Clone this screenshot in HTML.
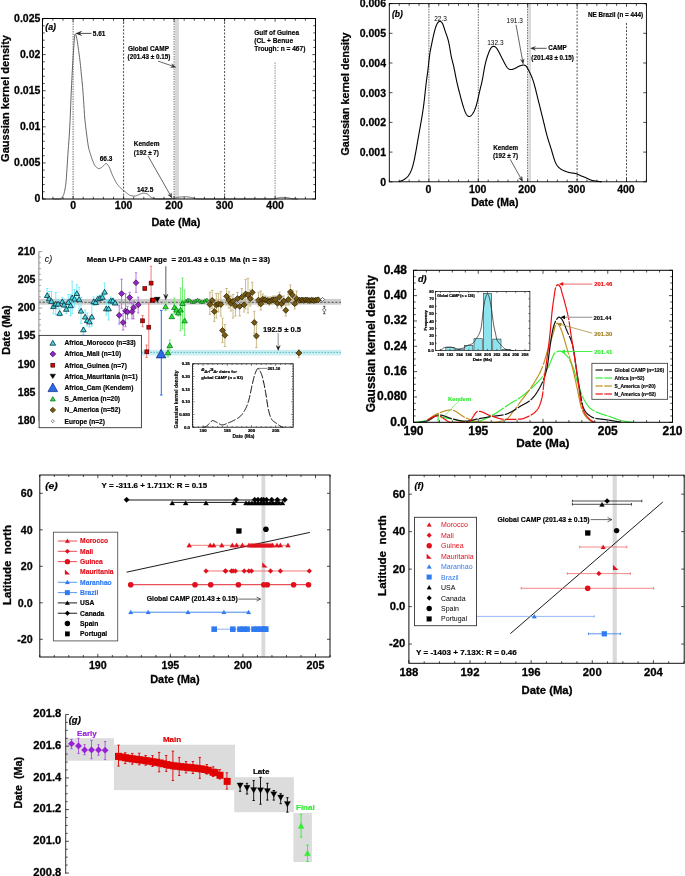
<!DOCTYPE html>
<html><head><meta charset="utf-8"><style>
html,body{margin:0;padding:0;background:#fff;}
svg{display:block;font-family:"Liberation Sans", sans-serif;}
</style></head><body>
<div style="will-change:transform;width:685px;height:876px;"><svg width="685" height="876" viewBox="0 0 685 876">
<rect width="685" height="876" fill="#fff"/>
<rect x="175.00" y="18.50" width="4.00" height="180.50" fill="#d8d8d8" stroke="none" stroke-width="1"/>
<line x1="73.10" y1="18.50" x2="73.10" y2="199.00" stroke="#555" stroke-width="0.85" stroke-dasharray="1.5,1"/>
<line x1="123.60" y1="18.50" x2="123.60" y2="199.00" stroke="#000" stroke-width="0.7" stroke-dasharray="2,1.5"/>
<line x1="174.10" y1="18.50" x2="174.10" y2="199.00" stroke="#555" stroke-width="0.85" stroke-dasharray="1.5,1"/>
<line x1="224.60" y1="18.50" x2="224.60" y2="199.00" stroke="#000" stroke-width="0.7" stroke-dasharray="2,1.5"/>
<line x1="275.10" y1="62.50" x2="275.10" y2="199.00" stroke="#777" stroke-width="0.8" stroke-dasharray="1.5,1"/>
<path d="M52.90,199.00 L53.21,199.00 L53.51,199.00 L53.82,199.00 L54.13,199.00 L54.43,199.00 L54.74,199.00 L55.05,199.00 L55.35,199.00 L55.66,199.00 L55.97,199.00 L56.27,199.00 L56.58,199.00 L56.89,199.00 L57.19,199.00 L57.50,199.00 L57.80,199.00 L58.11,199.00 L58.42,198.99 L58.72,198.97 L59.03,198.94 L59.34,198.90 L59.64,198.85 L59.95,198.80 L60.26,198.73 L60.56,198.67 L60.87,198.58 L61.18,198.40 L61.48,198.15 L61.79,197.82 L62.10,197.43 L62.40,196.97 L62.71,196.45 L63.02,195.88 L63.32,195.27 L63.63,194.62 L63.94,193.82 L64.24,192.78 L64.55,191.52 L64.86,190.04 L65.16,188.33 L65.47,186.40 L65.77,184.25 L66.08,181.58 L66.39,177.67 L66.69,173.09 L67.00,168.51 L67.31,163.92 L67.61,159.09 L67.92,154.28 L68.23,149.74 L68.53,145.55 L68.84,141.42 L69.15,137.04 L69.45,132.13 L69.76,126.70 L70.07,120.70 L70.37,113.84 L70.68,105.69 L70.99,98.04 L71.29,91.16 L71.60,84.59 L71.91,78.38 L72.21,72.53 L72.52,67.03 L72.83,61.83 L73.13,56.90 L73.44,52.22 L73.74,47.76 L74.05,43.21 L74.36,39.06 L74.66,36.19 L74.97,34.22 L75.28,33.95 L75.58,34.33 L75.89,34.92 L76.20,35.83 L76.50,36.95 L76.81,38.41 L77.12,40.19 L77.42,42.19 L77.73,44.31 L78.04,46.48 L78.34,48.60 L78.65,50.70 L78.96,52.86 L79.26,55.10 L79.57,57.44 L79.88,59.91 L80.18,62.51 L80.49,65.37 L80.80,68.45 L81.10,71.65 L81.41,74.84 L81.71,77.94 L82.02,80.96 L82.33,84.07 L82.63,87.41 L82.94,91.19 L83.25,95.55 L83.55,100.20 L83.86,104.79 L84.17,109.60 L84.47,114.28 L84.78,118.14 L85.09,121.34 L85.39,124.21 L85.70,126.83 L86.01,129.29 L86.31,131.68 L86.62,134.08 L86.93,136.48 L87.23,138.84 L87.54,141.12 L87.85,143.26 L88.15,145.22 L88.46,146.97 L88.77,148.44 L89.07,149.67 L89.38,150.75 L89.68,151.73 L89.99,152.71 L90.30,153.70 L90.60,154.68 L90.91,155.65 L91.22,156.59 L91.52,157.52 L91.83,158.41 L92.14,159.27 L92.44,160.09 L92.75,160.87 L93.06,161.65 L93.36,162.42 L93.67,163.17 L93.98,163.88 L94.28,164.54 L94.59,165.13 L94.90,165.62 L95.20,166.02 L95.51,166.39 L95.82,166.72 L96.12,167.02 L96.43,167.29 L96.74,167.54 L97.04,167.76 L97.35,167.96 L97.65,168.16 L97.96,168.35 L98.27,168.52 L98.57,168.64 L98.88,168.68 L99.19,168.65 L99.49,168.57 L99.80,168.47 L100.11,168.33 L100.41,168.19 L100.72,168.03 L101.03,167.87 L101.33,167.67 L101.64,167.43 L101.95,167.15 L102.25,166.86 L102.56,166.56 L102.87,166.26 L103.17,165.98 L103.48,165.72 L103.79,165.44 L104.09,165.13 L104.40,164.81 L104.71,164.50 L105.01,164.21 L105.32,163.97 L105.62,163.77 L105.93,163.65 L106.24,163.62 L106.54,163.71 L106.85,163.90 L107.16,164.17 L107.46,164.51 L107.77,164.89 L108.08,165.29 L108.38,165.70 L108.69,166.13 L109.00,166.64 L109.30,167.24 L109.61,167.90 L109.92,168.62 L110.22,169.38 L110.53,170.18 L110.84,170.99 L111.14,171.81 L111.45,172.63 L111.76,173.44 L112.06,174.22 L112.37,174.96 L112.68,175.65 L112.98,176.29 L113.29,176.93 L113.59,177.56 L113.90,178.19 L114.21,178.82 L114.51,179.44 L114.82,180.04 L115.13,180.64 L115.43,181.21 L115.74,181.77 L116.05,182.30 L116.35,182.81 L116.66,183.29 L116.97,183.74 L117.27,184.17 L117.58,184.58 L117.89,184.97 L118.19,185.35 L118.50,185.72 L118.81,186.07 L119.11,186.42 L119.42,186.75 L119.73,187.08 L120.03,187.40 L120.34,187.70 L120.65,188.01 L120.95,188.30 L121.26,188.59 L121.56,188.88 L121.87,189.16 L122.18,189.43 L122.48,189.69 L122.79,189.95 L123.10,190.20 L123.40,190.45 L123.71,190.69 L124.02,190.92 L124.32,191.16 L124.63,191.39 L124.94,191.62 L125.24,191.84 L125.55,192.07 L125.86,192.30 L126.16,192.53 L126.47,192.77 L126.78,193.02 L127.08,193.29 L127.39,193.55 L127.70,193.81 L128.00,194.07 L128.31,194.32 L128.62,194.56 L128.92,194.78 L129.23,194.98 L129.53,195.15 L129.84,195.28 L130.15,195.39 L130.45,195.47 L130.76,195.54 L131.07,195.62 L131.37,195.69 L131.68,195.75 L131.99,195.82 L132.29,195.88 L132.60,195.93 L132.91,195.97 L133.21,196.02 L133.52,196.05 L133.83,196.08 L134.13,196.10 L134.44,196.11 L134.75,196.11 L135.05,196.09 L135.36,196.04 L135.67,195.97 L135.97,195.87 L136.28,195.75 L136.59,195.62 L136.89,195.49 L137.20,195.34 L137.50,195.20 L137.81,195.05 L138.12,194.91 L138.42,194.79 L138.73,194.67 L139.04,194.57 L139.34,194.45 L139.65,194.33 L139.96,194.20 L140.26,194.07 L140.57,193.94 L140.88,193.81 L141.18,193.69 L141.49,193.58 L141.80,193.48 L142.10,193.39 L142.41,193.32 L142.72,193.27 L143.02,193.23 L143.33,193.22 L143.64,193.23 L143.94,193.25 L144.25,193.27 L144.56,193.31 L144.86,193.35 L145.17,193.41 L145.47,193.47 L145.78,193.53 L146.09,193.60 L146.39,193.68 L146.70,193.76 L147.01,193.85 L147.31,193.94 L147.62,194.06 L147.93,194.25 L148.23,194.49 L148.54,194.78 L148.85,195.10 L149.15,195.44 L149.46,195.79 L149.77,196.15 L150.07,196.49 L150.38,196.81 L150.69,197.09 L150.99,197.33 L151.30,197.52 L151.61,197.66 L151.91,197.79 L152.22,197.91 L152.53,198.03 L152.83,198.13 L153.14,198.23 L153.44,198.33 L153.75,198.41 L154.06,198.48 L154.36,198.55 L154.67,198.60 L154.98,198.65 L155.28,198.69 L155.59,198.73 L155.90,198.77 L156.20,198.81 L156.51,198.85 L156.82,198.88 L157.12,198.91 L157.43,198.94 L157.74,198.96 L158.04,198.98 L158.35,198.99 L158.66,199.00 L158.96,199.00 L159.27,199.00 L159.58,199.00 L159.88,199.00 L160.19,199.00 L160.50,198.99 L160.80,198.99 L161.11,198.99 L161.41,198.98 L161.72,198.98 L162.03,198.98 L162.33,198.97 L162.64,198.97 L162.95,198.96 L163.25,198.95 L163.56,198.95 L163.87,198.94 L164.17,198.93 L164.48,198.93 L164.79,198.92 L165.09,198.91 L165.40,198.90 L165.71,198.89 L166.01,198.88 L166.32,198.87 L166.63,198.86 L166.93,198.85 L167.24,198.84 L167.55,198.82 L167.85,198.81 L168.16,198.80 L168.47,198.79 L168.77,198.77 L169.08,198.76 L169.38,198.75 L169.69,198.73 L170.00,198.72 L170.30,198.70 L170.61,198.69 L170.92,198.67 L171.22,198.66 L171.53,198.64 L171.84,198.62 L172.14,198.59 L172.45,198.56 L172.76,198.52 L173.06,198.47 L173.37,198.42 L173.68,198.36 L173.98,198.29 L174.29,198.23 L174.60,198.16 L174.90,198.09 L175.21,198.01 L175.52,197.94 L175.82,197.86 L176.13,197.79 L176.44,197.71 L176.74,197.64 L177.05,197.57 L177.36,197.50 L177.66,197.44 L177.97,197.38 L178.27,197.32 L178.58,197.27 L178.89,197.23 L179.19,197.19 L179.50,197.15 L179.81,197.12 L180.11,197.08 L180.42,197.05 L180.73,197.01 L181.03,196.98 L181.34,196.94 L181.65,196.91 L181.95,196.88 L182.26,196.85 L182.57,196.82 L182.87,196.79 L183.18,196.77 L183.49,196.75 L183.79,196.73 L184.10,196.72 L184.41,196.70 L184.71,196.69 L185.02,196.69 L185.33,196.69 L185.63,196.70 L185.94,196.71 L186.24,196.73 L186.55,196.76 L186.86,196.79 L187.16,196.83 L187.47,196.87 L187.78,196.91 L188.08,196.96 L188.39,197.01 L188.70,197.07 L189.00,197.12 L189.31,197.18 L189.62,197.24 L189.92,197.30 L190.23,197.36 L190.54,197.42 L190.84,197.48 L191.15,197.53 L191.46,197.59 L191.76,197.66 L192.07,197.73 L192.38,197.81 L192.68,197.89 L192.99,197.98 L193.30,198.07 L193.60,198.16 L193.91,198.25 L194.21,198.34 L194.52,198.43 L194.83,198.51 L195.13,198.59 L195.44,198.66 L195.75,198.72 L196.05,198.78 L196.36,198.82 L196.67,198.85 L196.97,198.86 L197.28,198.88 L197.59,198.89 L197.89,198.91 L198.20,198.92 L198.51,198.93 L198.81,198.94 L199.12,198.95 L199.43,198.96 L199.73,198.97 L200.04,198.98 L200.35,198.98 L200.65,198.99 L200.96,198.99 L201.27,199.00 L201.57,199.00 L201.88,199.00 L202.18,199.00 L202.49,199.00 L202.80,199.00 L203.10,199.00 L203.41,199.00 L203.72,199.00 L204.02,199.00 L204.33,199.00 L204.64,199.00 L204.94,199.00 L205.25,199.00 L205.56,199.00 L205.86,199.00 L206.17,199.00 L206.48,199.00 L206.78,199.00 L207.09,199.00 L207.40,199.00 L207.70,199.00 L208.01,199.00 L208.32,199.00 L208.62,199.00 L208.93,199.00 L209.24,199.00 L209.54,199.00 L209.85,199.00 L210.15,199.00 L210.46,199.00 L210.77,199.00 L211.07,199.00 L211.38,199.00 L211.69,199.00 L211.99,199.00 L212.30,199.00 L212.61,199.00 L212.91,199.00 L213.22,199.00 L213.53,199.00 L213.83,199.00 L214.14,199.00 L214.45,199.00 L214.75,199.00 L215.06,199.00 L215.37,199.00 L215.67,199.00 L215.98,199.00 L216.29,199.00 L216.59,199.00 L216.90,199.00 L217.21,199.00 L217.51,199.00 L217.82,199.00 L218.12,199.00 L218.43,199.00 L218.74,199.00 L219.04,199.00 L219.35,199.00 L219.66,199.00 L219.96,199.00 L220.27,199.00 L220.58,199.00 L220.88,199.00 L221.19,199.00 L221.50,199.00 L221.80,199.00 L222.11,199.00 L222.42,199.00 L222.72,199.00 L223.03,199.00 L223.34,199.00 L223.64,199.00 L223.95,199.00 L224.26,199.00 L224.56,199.00 L224.87,199.00 L225.18,199.00 L225.48,199.00 L225.79,199.00 L226.09,199.00 L226.40,199.00 L226.71,199.00 L227.01,199.00 L227.32,199.00 L227.63,199.00 L227.93,199.00 L228.24,199.00 L228.55,199.00 L228.85,199.00 L229.16,199.00 L229.47,199.00 L229.77,199.00 L230.08,199.00 L230.39,199.00 L230.69,199.00 L231.00,199.00 L231.31,199.00 L231.61,199.00 L231.92,199.00 L232.23,199.00 L232.53,199.00 L232.84,199.00 L233.15,199.00 L233.45,199.00 L233.76,199.00 L234.06,199.00 L234.37,199.00 L234.68,199.00 L234.98,199.00 L235.29,199.00 L235.60,199.00 L235.90,199.00 L236.21,199.00 L236.52,199.00 L236.82,199.00 L237.13,199.00 L237.44,199.00 L237.74,199.00 L238.05,199.00 L238.36,199.00 L238.66,199.00 L238.97,199.00 L239.28,199.00 L239.58,199.00 L239.89,199.00 L240.20,199.00 L240.50,199.00 L240.81,199.00 L241.12,199.00 L241.42,199.00 L241.73,199.00 L242.03,199.00 L242.34,199.00 L242.65,199.00 L242.95,199.00 L243.26,199.00 L243.57,199.00 L243.87,199.00 L244.18,199.00 L244.49,199.00 L244.79,199.00 L245.10,199.00 L245.41,199.00 L245.71,199.00 L246.02,199.00 L246.33,199.00 L246.63,199.00 L246.94,199.00 L247.25,199.00 L247.55,199.00 L247.86,199.00 L248.17,199.00 L248.47,199.00 L248.78,199.00 L249.09,199.00 L249.39,199.00 L249.70,199.00 L250.00,199.00 L250.31,199.00 L250.62,199.00 L250.92,199.00 L251.23,199.00 L251.54,199.00 L251.84,199.00 L252.15,199.00 L252.46,199.00 L252.76,199.00 L253.07,199.00 L253.38,199.00 L253.68,199.00 L253.99,199.00 L254.30,199.00 L254.60,199.00 L254.91,199.00 L255.22,199.00 L255.52,199.00 L255.83,199.00 L256.14,199.00 L256.44,199.00 L256.75,199.00 L257.06,199.00 L257.36,199.00 L257.67,199.00 L257.97,199.00 L258.28,199.00 L258.59,199.00 L258.89,199.00 L259.20,199.00 L259.51,199.00 L259.81,199.00 L260.12,199.00 L260.43,199.00 L260.73,199.00 L261.04,199.00 L261.35,199.00 L261.65,199.00 L261.96,199.00 L262.27,199.00 L262.57,199.00 L262.88,199.00 L263.19,199.00 L263.49,199.00 L263.80,199.00 L264.11,199.00 L264.41,199.00 L264.72,199.00 L265.03,199.00 L265.33,199.00 L265.64,199.00 L265.94,199.00 L266.25,199.00 L266.56,199.00 L266.86,199.00 L267.17,199.00 L267.48,199.00 L267.78,199.00 L268.09,199.00 L268.40,199.00 L268.70,199.00 L269.01,199.00 L269.32,199.00 L269.62,199.00 L269.93,199.00 L270.24,199.00 L270.54,199.00 L270.85,199.00 L271.16,199.00 L271.46,199.00 L271.77,199.00 L272.08,199.00 L272.38,199.00 L272.69,199.00 L273.00,198.98 L273.30,198.94 L273.61,198.89 L273.91,198.83 L274.22,198.75 L274.53,198.67 L274.83,198.59 L275.14,198.51 L275.45,198.43 L275.75,198.35 L276.06,198.29 L276.37,198.23 L276.67,198.16 L276.98,198.10 L277.29,198.03 L277.59,197.96 L277.90,197.89 L278.21,197.82 L278.51,197.75 L278.82,197.69 L279.13,197.63 L279.43,197.57 L279.74,197.52 L280.05,197.48 L280.35,197.45 L280.66,197.43 L280.97,197.41 L281.27,197.41 L281.58,197.41 L281.88,197.41 L282.19,197.42 L282.50,197.42 L282.80,197.42 L283.11,197.43 L283.42,197.43 L283.72,197.44 L284.03,197.45 L284.34,197.45 L284.64,197.46 L284.95,197.47 L285.26,197.48 L285.56,197.49 L285.87,197.50 L286.18,197.51 L286.48,197.52 L286.79,197.54 L287.10,197.55 L287.40,197.57 L287.71,197.60 L288.02,197.66 L288.32,197.72 L288.63,197.80 L288.94,197.89 L289.24,197.99 L289.55,198.09 L289.85,198.18 L290.16,198.28 L290.47,198.37 L290.77,198.46 L291.08,198.53 L291.39,198.59 L291.69,198.63 L292.00,198.66 L292.31,198.69 L292.61,198.72 L292.92,198.75 L293.23,198.77 L293.53,198.80 L293.84,198.83 L294.15,198.85 L294.45,198.87 L294.76,198.89 L295.07,198.91 L295.37,198.93 L295.68,198.94 L295.99,198.96 L296.29,198.97 L296.60,198.98 L296.91,198.99 L297.21,199.00 L297.52,199.00 L297.82,199.00" stroke="#555" stroke-width="0.9" fill="none"/>
<rect x="42.50" y="18.50" width="273.00" height="180.50" fill="none" stroke="#000" stroke-width="1"/>
<line x1="42.80" y1="199.00" x2="42.80" y2="196.80" stroke="#000" stroke-width="0.7"/>
<line x1="42.80" y1="18.50" x2="42.80" y2="20.70" stroke="#000" stroke-width="0.7"/>
<line x1="52.90" y1="199.00" x2="52.90" y2="196.80" stroke="#000" stroke-width="0.7"/>
<line x1="52.90" y1="18.50" x2="52.90" y2="20.70" stroke="#000" stroke-width="0.7"/>
<line x1="63.00" y1="199.00" x2="63.00" y2="196.80" stroke="#000" stroke-width="0.7"/>
<line x1="63.00" y1="18.50" x2="63.00" y2="20.70" stroke="#000" stroke-width="0.7"/>
<line x1="73.10" y1="199.00" x2="73.10" y2="195.80" stroke="#000" stroke-width="0.7"/>
<line x1="73.10" y1="18.50" x2="73.10" y2="21.70" stroke="#000" stroke-width="0.7"/>
<line x1="83.20" y1="199.00" x2="83.20" y2="196.80" stroke="#000" stroke-width="0.7"/>
<line x1="83.20" y1="18.50" x2="83.20" y2="20.70" stroke="#000" stroke-width="0.7"/>
<line x1="93.30" y1="199.00" x2="93.30" y2="196.80" stroke="#000" stroke-width="0.7"/>
<line x1="93.30" y1="18.50" x2="93.30" y2="20.70" stroke="#000" stroke-width="0.7"/>
<line x1="103.40" y1="199.00" x2="103.40" y2="196.80" stroke="#000" stroke-width="0.7"/>
<line x1="103.40" y1="18.50" x2="103.40" y2="20.70" stroke="#000" stroke-width="0.7"/>
<line x1="113.50" y1="199.00" x2="113.50" y2="196.80" stroke="#000" stroke-width="0.7"/>
<line x1="113.50" y1="18.50" x2="113.50" y2="20.70" stroke="#000" stroke-width="0.7"/>
<line x1="123.60" y1="199.00" x2="123.60" y2="195.80" stroke="#000" stroke-width="0.7"/>
<line x1="123.60" y1="18.50" x2="123.60" y2="21.70" stroke="#000" stroke-width="0.7"/>
<line x1="133.70" y1="199.00" x2="133.70" y2="196.80" stroke="#000" stroke-width="0.7"/>
<line x1="133.70" y1="18.50" x2="133.70" y2="20.70" stroke="#000" stroke-width="0.7"/>
<line x1="143.80" y1="199.00" x2="143.80" y2="196.80" stroke="#000" stroke-width="0.7"/>
<line x1="143.80" y1="18.50" x2="143.80" y2="20.70" stroke="#000" stroke-width="0.7"/>
<line x1="153.90" y1="199.00" x2="153.90" y2="196.80" stroke="#000" stroke-width="0.7"/>
<line x1="153.90" y1="18.50" x2="153.90" y2="20.70" stroke="#000" stroke-width="0.7"/>
<line x1="164.00" y1="199.00" x2="164.00" y2="196.80" stroke="#000" stroke-width="0.7"/>
<line x1="164.00" y1="18.50" x2="164.00" y2="20.70" stroke="#000" stroke-width="0.7"/>
<line x1="174.10" y1="199.00" x2="174.10" y2="195.80" stroke="#000" stroke-width="0.7"/>
<line x1="174.10" y1="18.50" x2="174.10" y2="21.70" stroke="#000" stroke-width="0.7"/>
<line x1="184.20" y1="199.00" x2="184.20" y2="196.80" stroke="#000" stroke-width="0.7"/>
<line x1="184.20" y1="18.50" x2="184.20" y2="20.70" stroke="#000" stroke-width="0.7"/>
<line x1="194.30" y1="199.00" x2="194.30" y2="196.80" stroke="#000" stroke-width="0.7"/>
<line x1="194.30" y1="18.50" x2="194.30" y2="20.70" stroke="#000" stroke-width="0.7"/>
<line x1="204.40" y1="199.00" x2="204.40" y2="196.80" stroke="#000" stroke-width="0.7"/>
<line x1="204.40" y1="18.50" x2="204.40" y2="20.70" stroke="#000" stroke-width="0.7"/>
<line x1="214.50" y1="199.00" x2="214.50" y2="196.80" stroke="#000" stroke-width="0.7"/>
<line x1="214.50" y1="18.50" x2="214.50" y2="20.70" stroke="#000" stroke-width="0.7"/>
<line x1="224.60" y1="199.00" x2="224.60" y2="195.80" stroke="#000" stroke-width="0.7"/>
<line x1="224.60" y1="18.50" x2="224.60" y2="21.70" stroke="#000" stroke-width="0.7"/>
<line x1="234.70" y1="199.00" x2="234.70" y2="196.80" stroke="#000" stroke-width="0.7"/>
<line x1="234.70" y1="18.50" x2="234.70" y2="20.70" stroke="#000" stroke-width="0.7"/>
<line x1="244.80" y1="199.00" x2="244.80" y2="196.80" stroke="#000" stroke-width="0.7"/>
<line x1="244.80" y1="18.50" x2="244.80" y2="20.70" stroke="#000" stroke-width="0.7"/>
<line x1="254.90" y1="199.00" x2="254.90" y2="196.80" stroke="#000" stroke-width="0.7"/>
<line x1="254.90" y1="18.50" x2="254.90" y2="20.70" stroke="#000" stroke-width="0.7"/>
<line x1="265.00" y1="199.00" x2="265.00" y2="196.80" stroke="#000" stroke-width="0.7"/>
<line x1="265.00" y1="18.50" x2="265.00" y2="20.70" stroke="#000" stroke-width="0.7"/>
<line x1="275.10" y1="199.00" x2="275.10" y2="195.80" stroke="#000" stroke-width="0.7"/>
<line x1="275.10" y1="18.50" x2="275.10" y2="21.70" stroke="#000" stroke-width="0.7"/>
<line x1="285.20" y1="199.00" x2="285.20" y2="196.80" stroke="#000" stroke-width="0.7"/>
<line x1="285.20" y1="18.50" x2="285.20" y2="20.70" stroke="#000" stroke-width="0.7"/>
<line x1="295.30" y1="199.00" x2="295.30" y2="196.80" stroke="#000" stroke-width="0.7"/>
<line x1="295.30" y1="18.50" x2="295.30" y2="20.70" stroke="#000" stroke-width="0.7"/>
<line x1="305.40" y1="199.00" x2="305.40" y2="196.80" stroke="#000" stroke-width="0.7"/>
<line x1="305.40" y1="18.50" x2="305.40" y2="20.70" stroke="#000" stroke-width="0.7"/>
<line x1="315.50" y1="199.00" x2="315.50" y2="196.80" stroke="#000" stroke-width="0.7"/>
<line x1="315.50" y1="18.50" x2="315.50" y2="20.70" stroke="#000" stroke-width="0.7"/>
<text x="73.10" y="209.40" font-size="10.5" font-weight="bold" text-anchor="middle" fill="#000" stroke="#000" stroke-width="0.263">0</text>
<text x="123.60" y="209.40" font-size="10.5" font-weight="bold" text-anchor="middle" fill="#000" stroke="#000" stroke-width="0.263">100</text>
<text x="174.10" y="209.40" font-size="10.5" font-weight="bold" text-anchor="middle" fill="#000" stroke="#000" stroke-width="0.263">200</text>
<text x="224.60" y="209.40" font-size="10.5" font-weight="bold" text-anchor="middle" fill="#000" stroke="#000" stroke-width="0.263">300</text>
<text x="275.10" y="209.40" font-size="10.5" font-weight="bold" text-anchor="middle" fill="#000" stroke="#000" stroke-width="0.263">400</text>
<line x1="42.50" y1="199.00" x2="45.70" y2="199.00" stroke="#000" stroke-width="0.7"/>
<line x1="315.50" y1="199.00" x2="312.30" y2="199.00" stroke="#000" stroke-width="0.7"/>
<line x1="42.50" y1="191.78" x2="44.70" y2="191.78" stroke="#000" stroke-width="0.7"/>
<line x1="315.50" y1="191.78" x2="313.30" y2="191.78" stroke="#000" stroke-width="0.7"/>
<line x1="42.50" y1="184.56" x2="44.70" y2="184.56" stroke="#000" stroke-width="0.7"/>
<line x1="315.50" y1="184.56" x2="313.30" y2="184.56" stroke="#000" stroke-width="0.7"/>
<line x1="42.50" y1="177.34" x2="44.70" y2="177.34" stroke="#000" stroke-width="0.7"/>
<line x1="315.50" y1="177.34" x2="313.30" y2="177.34" stroke="#000" stroke-width="0.7"/>
<line x1="42.50" y1="170.12" x2="44.70" y2="170.12" stroke="#000" stroke-width="0.7"/>
<line x1="315.50" y1="170.12" x2="313.30" y2="170.12" stroke="#000" stroke-width="0.7"/>
<line x1="42.50" y1="162.90" x2="45.70" y2="162.90" stroke="#000" stroke-width="0.7"/>
<line x1="315.50" y1="162.90" x2="312.30" y2="162.90" stroke="#000" stroke-width="0.7"/>
<line x1="42.50" y1="155.68" x2="44.70" y2="155.68" stroke="#000" stroke-width="0.7"/>
<line x1="315.50" y1="155.68" x2="313.30" y2="155.68" stroke="#000" stroke-width="0.7"/>
<line x1="42.50" y1="148.46" x2="44.70" y2="148.46" stroke="#000" stroke-width="0.7"/>
<line x1="315.50" y1="148.46" x2="313.30" y2="148.46" stroke="#000" stroke-width="0.7"/>
<line x1="42.50" y1="141.24" x2="44.70" y2="141.24" stroke="#000" stroke-width="0.7"/>
<line x1="315.50" y1="141.24" x2="313.30" y2="141.24" stroke="#000" stroke-width="0.7"/>
<line x1="42.50" y1="134.02" x2="44.70" y2="134.02" stroke="#000" stroke-width="0.7"/>
<line x1="315.50" y1="134.02" x2="313.30" y2="134.02" stroke="#000" stroke-width="0.7"/>
<line x1="42.50" y1="126.80" x2="45.70" y2="126.80" stroke="#000" stroke-width="0.7"/>
<line x1="315.50" y1="126.80" x2="312.30" y2="126.80" stroke="#000" stroke-width="0.7"/>
<line x1="42.50" y1="119.58" x2="44.70" y2="119.58" stroke="#000" stroke-width="0.7"/>
<line x1="315.50" y1="119.58" x2="313.30" y2="119.58" stroke="#000" stroke-width="0.7"/>
<line x1="42.50" y1="112.36" x2="44.70" y2="112.36" stroke="#000" stroke-width="0.7"/>
<line x1="315.50" y1="112.36" x2="313.30" y2="112.36" stroke="#000" stroke-width="0.7"/>
<line x1="42.50" y1="105.14" x2="44.70" y2="105.14" stroke="#000" stroke-width="0.7"/>
<line x1="315.50" y1="105.14" x2="313.30" y2="105.14" stroke="#000" stroke-width="0.7"/>
<line x1="42.50" y1="97.92" x2="44.70" y2="97.92" stroke="#000" stroke-width="0.7"/>
<line x1="315.50" y1="97.92" x2="313.30" y2="97.92" stroke="#000" stroke-width="0.7"/>
<line x1="42.50" y1="90.70" x2="45.70" y2="90.70" stroke="#000" stroke-width="0.7"/>
<line x1="315.50" y1="90.70" x2="312.30" y2="90.70" stroke="#000" stroke-width="0.7"/>
<line x1="42.50" y1="83.48" x2="44.70" y2="83.48" stroke="#000" stroke-width="0.7"/>
<line x1="315.50" y1="83.48" x2="313.30" y2="83.48" stroke="#000" stroke-width="0.7"/>
<line x1="42.50" y1="76.26" x2="44.70" y2="76.26" stroke="#000" stroke-width="0.7"/>
<line x1="315.50" y1="76.26" x2="313.30" y2="76.26" stroke="#000" stroke-width="0.7"/>
<line x1="42.50" y1="69.04" x2="44.70" y2="69.04" stroke="#000" stroke-width="0.7"/>
<line x1="315.50" y1="69.04" x2="313.30" y2="69.04" stroke="#000" stroke-width="0.7"/>
<line x1="42.50" y1="61.82" x2="44.70" y2="61.82" stroke="#000" stroke-width="0.7"/>
<line x1="315.50" y1="61.82" x2="313.30" y2="61.82" stroke="#000" stroke-width="0.7"/>
<line x1="42.50" y1="54.60" x2="45.70" y2="54.60" stroke="#000" stroke-width="0.7"/>
<line x1="315.50" y1="54.60" x2="312.30" y2="54.60" stroke="#000" stroke-width="0.7"/>
<line x1="42.50" y1="47.38" x2="44.70" y2="47.38" stroke="#000" stroke-width="0.7"/>
<line x1="315.50" y1="47.38" x2="313.30" y2="47.38" stroke="#000" stroke-width="0.7"/>
<line x1="42.50" y1="40.16" x2="44.70" y2="40.16" stroke="#000" stroke-width="0.7"/>
<line x1="315.50" y1="40.16" x2="313.30" y2="40.16" stroke="#000" stroke-width="0.7"/>
<line x1="42.50" y1="32.94" x2="44.70" y2="32.94" stroke="#000" stroke-width="0.7"/>
<line x1="315.50" y1="32.94" x2="313.30" y2="32.94" stroke="#000" stroke-width="0.7"/>
<line x1="42.50" y1="25.72" x2="44.70" y2="25.72" stroke="#000" stroke-width="0.7"/>
<line x1="315.50" y1="25.72" x2="313.30" y2="25.72" stroke="#000" stroke-width="0.7"/>
<line x1="42.50" y1="18.50" x2="45.70" y2="18.50" stroke="#000" stroke-width="0.7"/>
<line x1="315.50" y1="18.50" x2="312.30" y2="18.50" stroke="#000" stroke-width="0.7"/>
<text x="40.40" y="202.30" font-size="10.5" font-weight="bold" text-anchor="end" fill="#000" stroke="#000" stroke-width="0.263">0</text>
<text x="40.40" y="166.20" font-size="10.5" font-weight="bold" text-anchor="end" fill="#000" stroke="#000" stroke-width="0.263">0.005</text>
<text x="40.40" y="130.10" font-size="10.5" font-weight="bold" text-anchor="end" fill="#000" stroke="#000" stroke-width="0.263">0.01</text>
<text x="40.40" y="94.00" font-size="10.5" font-weight="bold" text-anchor="end" fill="#000" stroke="#000" stroke-width="0.263">0.015</text>
<text x="40.40" y="57.90" font-size="10.5" font-weight="bold" text-anchor="end" fill="#000" stroke="#000" stroke-width="0.263">0.02</text>
<text x="40.40" y="21.80" font-size="10.5" font-weight="bold" text-anchor="end" fill="#000" stroke="#000" stroke-width="0.263">0.025</text>
<text x="8.80" y="98.50" font-size="11" font-weight="bold" text-anchor="middle" fill="#000" textLength="126.9" lengthAdjust="spacingAndGlyphs" transform="rotate(-90 8.8 98.5)" stroke="#000" stroke-width="0.275">Gaussian kernel density</text>
<text x="176.00" y="225.70" font-size="10.9" font-weight="bold" text-anchor="middle" fill="#000" stroke="#000" stroke-width="0.273">Date (Ma)</text>
<text x="45.30" y="30.20" font-size="8.8" font-weight="bold" text-anchor="start" fill="#000" font-style="italic" stroke="#000" stroke-width="0.220">(a)</text>
<line x1="91.50" y1="33.40" x2="79.52" y2="33.40" stroke="#222" stroke-width="0.8"/>
<polygon points="75.80,33.40 81.80,31.10 79.52,33.40 81.80,35.70" fill="#222" stroke="#222" stroke-width="0.3" stroke-linejoin="round"/>
<text x="92.80" y="36.20" font-size="6.5" font-weight="bold" text-anchor="start" fill="#000" stroke="#000" stroke-width="0.163">5.61</text>
<text x="99.70" y="161.00" font-size="6.5" font-weight="bold" text-anchor="start" fill="#000" stroke="#000" stroke-width="0.163">66.3</text>
<text x="137.00" y="192.00" font-size="6.5" font-weight="bold" text-anchor="start" fill="#000" stroke="#000" stroke-width="0.163">142.5</text>
<text x="127.90" y="50.60" font-size="6.5" font-weight="bold" text-anchor="start" fill="#000" stroke="#000" stroke-width="0.163">Global CAMP</text>
<text x="127.60" y="59.10" font-size="6.3" font-weight="bold" text-anchor="start" fill="#000" stroke="#000" stroke-width="0.158">(201.43 ± 0.15)</text>
<line x1="158.00" y1="61.10" x2="172.87" y2="66.20" stroke="#222" stroke-width="0.7"/>
<polygon points="175.80,67.20 170.45,67.38 172.87,66.20 171.69,63.78" fill="#222" stroke="#222" stroke-width="0.3" stroke-linejoin="round"/>
<text x="133.80" y="145.90" font-size="6.5" font-weight="bold" text-anchor="start" fill="#000" stroke="#000" stroke-width="0.163">Kendem</text>
<text x="133.80" y="154.70" font-size="6.3" font-weight="bold" text-anchor="start" fill="#000" stroke="#000" stroke-width="0.158">(192 ± 7)</text>
<line x1="147.90" y1="155.70" x2="170.47" y2="195.40" stroke="#222" stroke-width="0.7"/>
<polygon points="172.00,198.10 167.88,194.69 170.47,195.40 171.18,192.81" fill="#222" stroke="#222" stroke-width="0.3" stroke-linejoin="round"/>
<text x="254.30" y="34.60" font-size="6.3" font-weight="bold" text-anchor="start" fill="#000" textLength="44.7" lengthAdjust="spacingAndGlyphs" stroke="#000" stroke-width="0.158">Gulf of Guinea</text>
<text x="254.30" y="42.80" font-size="6.3" font-weight="bold" text-anchor="start" fill="#000" textLength="38.8" lengthAdjust="spacingAndGlyphs" stroke="#000" stroke-width="0.158">(CL + Benue</text>
<text x="254.30" y="51.00" font-size="6.3" font-weight="bold" text-anchor="start" fill="#000" textLength="51.1" lengthAdjust="spacingAndGlyphs" stroke="#000" stroke-width="0.158">Trough: n = 467)</text>
<rect x="528.70" y="3.60" width="2.20" height="178.20" fill="#d8d8d8" stroke="none" stroke-width="1"/>
<line x1="428.90" y1="3.60" x2="428.90" y2="181.80" stroke="#444" stroke-width="0.75" stroke-dasharray="1.6,1"/>
<line x1="478.30" y1="3.60" x2="478.30" y2="181.80" stroke="#444" stroke-width="0.75" stroke-dasharray="1.6,1"/>
<line x1="527.70" y1="3.60" x2="527.70" y2="181.80" stroke="#333" stroke-width="0.8" stroke-dasharray="1.6,1"/>
<line x1="577.10" y1="3.60" x2="577.10" y2="181.80" stroke="#000" stroke-width="0.7" stroke-dasharray="2,1.5"/>
<line x1="626.50" y1="23.00" x2="626.50" y2="181.80" stroke="#000" stroke-width="0.7" stroke-dasharray="2,1.5"/>
<path d="M398.77,181.80 L399.02,181.71 L399.27,181.61 L399.53,181.52 L399.78,181.43 L400.04,181.33 L400.29,181.24 L400.54,181.14 L400.80,181.04 L401.05,180.94 L401.31,180.83 L401.56,180.73 L401.82,180.62 L402.07,180.51 L402.32,180.39 L402.58,180.27 L402.83,180.15 L403.09,180.03 L403.34,179.90 L403.59,179.76 L403.85,179.62 L404.10,179.48 L404.36,179.33 L404.61,179.18 L404.86,179.02 L405.12,178.85 L405.37,178.67 L405.63,178.49 L405.88,178.29 L406.14,178.09 L406.39,177.87 L406.64,177.65 L406.90,177.41 L407.15,177.15 L407.41,176.88 L407.66,176.60 L407.91,176.30 L408.17,175.98 L408.42,175.65 L408.68,175.30 L408.93,174.93 L409.18,174.54 L409.44,174.13 L409.69,173.70 L409.95,173.24 L410.20,172.76 L410.46,172.24 L410.71,171.70 L410.96,171.13 L411.22,170.52 L411.47,169.87 L411.73,169.19 L411.98,168.46 L412.23,167.69 L412.49,166.88 L412.74,166.02 L413.00,165.11 L413.25,164.15 L413.50,163.13 L413.76,162.06 L414.01,160.93 L414.27,159.76 L414.52,158.54 L414.77,157.28 L415.03,155.98 L415.28,154.64 L415.54,153.28 L415.79,151.89 L416.05,150.47 L416.30,149.04 L416.55,147.59 L416.81,146.14 L417.06,144.67 L417.32,143.20 L417.57,141.73 L417.82,140.27 L418.08,138.81 L418.33,137.36 L418.59,135.92 L418.84,134.48 L419.09,133.05 L419.35,131.61 L419.60,130.18 L419.86,128.75 L420.11,127.32 L420.37,125.88 L420.62,124.44 L420.87,123.00 L421.13,121.54 L421.38,120.08 L421.64,118.60 L421.89,117.11 L422.14,115.58 L422.40,114.02 L422.65,112.41 L422.91,110.74 L423.16,109.01 L423.41,107.20 L423.67,105.31 L423.92,103.32 L424.18,101.23 L424.43,99.02 L424.69,96.72 L424.94,94.35 L425.19,91.95 L425.45,89.56 L425.70,87.21 L425.96,84.94 L426.21,82.78 L426.46,80.77 L426.72,78.91 L426.97,77.12 L427.23,75.36 L427.48,73.54 L427.73,71.59 L427.99,69.46 L428.24,67.14 L428.50,64.71 L428.75,62.29 L429.01,59.97 L429.26,57.85 L429.51,55.92 L429.77,54.15 L430.02,52.53 L430.28,51.02 L430.53,49.62 L430.78,48.30 L431.04,47.03 L431.29,45.79 L431.55,44.57 L431.80,43.35 L432.05,42.13 L432.31,40.93 L432.56,39.73 L432.82,38.55 L433.07,37.39 L433.32,36.25 L433.58,35.14 L433.83,34.05 L434.09,33.00 L434.34,31.98 L434.60,31.00 L434.85,30.06 L435.10,29.16 L435.36,28.31 L435.61,27.50 L435.87,26.75 L436.12,26.04 L436.37,25.38 L436.63,24.78 L436.88,24.23 L437.14,23.73 L437.39,23.29 L437.64,22.90 L437.90,22.57 L438.15,22.28 L438.41,22.03 L438.66,21.83 L438.92,21.67 L439.17,21.55 L439.42,21.47 L439.68,21.43 L439.93,21.42 L440.19,21.44 L440.44,21.49 L440.69,21.59 L440.95,21.72 L441.20,21.90 L441.46,22.12 L441.71,22.40 L441.96,22.73 L442.22,23.12 L442.47,23.57 L442.73,24.08 L442.98,24.66 L443.24,25.31 L443.49,26.00 L443.74,26.73 L444.00,27.49 L444.25,28.27 L444.51,29.07 L444.76,29.86 L445.01,30.65 L445.27,31.43 L445.52,32.17 L445.78,32.89 L446.03,33.59 L446.28,34.29 L446.54,34.98 L446.79,35.69 L447.05,36.41 L447.30,37.16 L447.56,37.96 L447.81,38.79 L448.06,39.69 L448.32,40.65 L448.57,41.69 L448.83,42.81 L449.08,44.03 L449.33,45.35 L449.59,46.77 L449.84,48.27 L450.10,49.81 L450.35,51.35 L450.60,52.86 L450.86,54.31 L451.11,55.67 L451.37,56.92 L451.62,58.08 L451.88,59.18 L452.13,60.21 L452.38,61.22 L452.64,62.20 L452.89,63.17 L453.15,64.16 L453.40,65.17 L453.65,66.23 L453.91,67.36 L454.16,68.54 L454.42,69.78 L454.67,71.06 L454.92,72.37 L455.18,73.70 L455.43,75.03 L455.69,76.35 L455.94,77.66 L456.19,78.92 L456.45,80.15 L456.70,81.33 L456.96,82.48 L457.21,83.59 L457.47,84.67 L457.72,85.72 L457.97,86.75 L458.23,87.77 L458.48,88.77 L458.74,89.76 L458.99,90.75 L459.24,91.73 L459.50,92.72 L459.75,93.70 L460.01,94.68 L460.26,95.65 L460.51,96.62 L460.77,97.58 L461.02,98.53 L461.28,99.48 L461.53,100.41 L461.79,101.33 L462.04,102.24 L462.29,103.14 L462.55,104.03 L462.80,104.89 L463.06,105.74 L463.31,106.57 L463.56,107.37 L463.82,108.15 L464.07,108.91 L464.33,109.63 L464.58,110.33 L464.83,110.99 L465.09,111.62 L465.34,112.22 L465.60,112.77 L465.85,113.29 L466.11,113.77 L466.36,114.20 L466.61,114.60 L466.87,114.95 L467.12,115.27 L467.38,115.55 L467.63,115.79 L467.88,115.99 L468.14,116.16 L468.39,116.29 L468.65,116.38 L468.90,116.44 L469.15,116.47 L469.41,116.46 L469.66,116.42 L469.92,116.35 L470.17,116.25 L470.43,116.11 L470.68,115.95 L470.93,115.76 L471.19,115.53 L471.44,115.29 L471.70,115.01 L471.95,114.71 L472.20,114.39 L472.46,114.04 L472.71,113.66 L472.97,113.27 L473.22,112.85 L473.47,112.41 L473.73,111.95 L473.98,111.46 L474.24,110.94 L474.49,110.38 L474.74,109.80 L475.00,109.18 L475.25,108.52 L475.51,107.83 L475.76,107.09 L476.02,106.31 L476.27,105.49 L476.52,104.62 L476.78,103.70 L477.03,102.73 L477.29,101.72 L477.54,100.65 L477.79,99.56 L478.05,98.43 L478.30,97.29 L478.56,96.14 L478.81,94.98 L479.06,93.84 L479.32,92.71 L479.57,91.60 L479.83,90.52 L480.08,89.48 L480.34,88.46 L480.59,87.44 L480.84,86.43 L481.10,85.41 L481.35,84.36 L481.61,83.28 L481.86,82.15 L482.11,80.97 L482.37,79.71 L482.62,78.38 L482.88,76.98 L483.13,75.52 L483.38,74.03 L483.64,72.53 L483.89,71.05 L484.15,69.60 L484.40,68.21 L484.66,66.90 L484.91,65.66 L485.16,64.48 L485.42,63.37 L485.67,62.32 L485.93,61.33 L486.18,60.38 L486.43,59.48 L486.69,58.62 L486.94,57.79 L487.20,57.00 L487.45,56.24 L487.70,55.49 L487.96,54.77 L488.21,54.06 L488.47,53.37 L488.72,52.70 L488.98,52.05 L489.23,51.42 L489.48,50.83 L489.74,50.26 L489.99,49.73 L490.25,49.24 L490.50,48.78 L490.75,48.37 L491.01,47.99 L491.26,47.66 L491.52,47.38 L491.77,47.13 L492.02,46.92 L492.28,46.75 L492.53,46.61 L492.79,46.51 L493.04,46.43 L493.29,46.39 L493.55,46.37 L493.80,46.37 L494.06,46.41 L494.31,46.46 L494.57,46.54 L494.82,46.65 L495.07,46.78 L495.33,46.95 L495.58,47.13 L495.84,47.35 L496.09,47.60 L496.34,47.87 L496.60,48.18 L496.85,48.51 L497.11,48.87 L497.36,49.26 L497.61,49.67 L497.87,50.10 L498.12,50.54 L498.38,51.01 L498.63,51.49 L498.89,51.98 L499.14,52.48 L499.39,52.99 L499.65,53.50 L499.90,54.01 L500.16,54.53 L500.41,55.04 L500.66,55.56 L500.92,56.07 L501.17,56.58 L501.43,57.09 L501.68,57.59 L501.93,58.10 L502.19,58.60 L502.44,59.10 L502.70,59.60 L502.95,60.09 L503.21,60.58 L503.46,61.07 L503.71,61.55 L503.97,62.04 L504.22,62.51 L504.48,62.99 L504.73,63.46 L504.98,63.92 L505.24,64.38 L505.49,64.83 L505.75,65.26 L506.00,65.69 L506.25,66.10 L506.51,66.49 L506.76,66.86 L507.02,67.22 L507.27,67.55 L507.53,67.85 L507.78,68.13 L508.03,68.39 L508.29,68.61 L508.54,68.81 L508.80,68.98 L509.05,69.13 L509.30,69.25 L509.56,69.35 L509.81,69.43 L510.07,69.49 L510.32,69.53 L510.57,69.56 L510.83,69.57 L511.08,69.57 L511.34,69.55 L511.59,69.52 L511.85,69.49 L512.10,69.44 L512.35,69.38 L512.61,69.32 L512.86,69.24 L513.12,69.16 L513.37,69.08 L513.62,68.98 L513.88,68.88 L514.13,68.78 L514.39,68.66 L514.64,68.55 L514.89,68.43 L515.15,68.31 L515.40,68.18 L515.66,68.05 L515.91,67.92 L516.16,67.78 L516.42,67.65 L516.67,67.51 L516.93,67.38 L517.18,67.24 L517.44,67.11 L517.69,66.97 L517.94,66.84 L518.20,66.71 L518.45,66.58 L518.71,66.46 L518.96,66.33 L519.21,66.21 L519.47,66.10 L519.72,65.99 L519.98,65.88 L520.23,65.78 L520.48,65.68 L520.74,65.59 L520.99,65.50 L521.25,65.42 L521.50,65.35 L521.76,65.28 L522.01,65.22 L522.26,65.17 L522.52,65.13 L522.77,65.09 L523.03,65.07 L523.28,65.05 L523.53,65.05 L523.79,65.06 L524.04,65.09 L524.30,65.14 L524.55,65.21 L524.80,65.30 L525.06,65.42 L525.31,65.56 L525.57,65.74 L525.82,65.94 L526.08,66.18 L526.33,66.46 L526.58,66.78 L526.84,67.13 L527.09,67.51 L527.35,67.93 L527.60,68.37 L527.85,68.83 L528.11,69.30 L528.36,69.79 L528.62,70.29 L528.87,70.79 L529.12,71.30 L529.38,71.80 L529.63,72.31 L529.89,72.82 L530.14,73.34 L530.40,73.87 L530.65,74.41 L530.90,74.96 L531.16,75.52 L531.41,76.10 L531.67,76.70 L531.92,77.33 L532.17,77.97 L532.43,78.64 L532.68,79.34 L532.94,80.07 L533.19,80.82 L533.44,81.61 L533.70,82.44 L533.95,83.30 L534.21,84.18 L534.46,85.10 L534.71,86.03 L534.97,86.99 L535.22,87.97 L535.48,88.97 L535.73,89.98 L535.99,91.00 L536.24,92.03 L536.49,93.07 L536.75,94.12 L537.00,95.17 L537.26,96.21 L537.51,97.26 L537.76,98.30 L538.02,99.34 L538.27,100.37 L538.53,101.39 L538.78,102.41 L539.03,103.43 L539.29,104.45 L539.54,105.46 L539.80,106.47 L540.05,107.48 L540.31,108.49 L540.56,109.50 L540.81,110.51 L541.07,111.53 L541.32,112.54 L541.58,113.56 L541.83,114.58 L542.08,115.60 L542.34,116.63 L542.59,117.67 L542.85,118.71 L543.10,119.75 L543.35,120.80 L543.61,121.86 L543.86,122.92 L544.12,123.99 L544.37,125.05 L544.63,126.12 L544.88,127.18 L545.13,128.23 L545.39,129.28 L545.64,130.32 L545.90,131.34 L546.15,132.35 L546.40,133.34 L546.66,134.32 L546.91,135.27 L547.17,136.20 L547.42,137.11 L547.67,137.99 L547.93,138.85 L548.18,139.68 L548.44,140.50 L548.69,141.30 L548.95,142.09 L549.20,142.87 L549.45,143.64 L549.71,144.41 L549.96,145.19 L550.22,145.96 L550.47,146.74 L550.72,147.54 L550.98,148.34 L551.23,149.16 L551.49,150.00 L551.74,150.86 L551.99,151.73 L552.25,152.60 L552.50,153.48 L552.76,154.36 L553.01,155.24 L553.26,156.10 L553.52,156.95 L553.77,157.77 L554.03,158.58 L554.28,159.35 L554.54,160.09 L554.79,160.80 L555.04,161.46 L555.30,162.07 L555.55,162.65 L555.81,163.19 L556.06,163.69 L556.31,164.16 L556.57,164.60 L556.82,165.01 L557.08,165.39 L557.33,165.75 L557.58,166.08 L557.84,166.40 L558.09,166.69 L558.35,166.97 L558.60,167.24 L558.86,167.49 L559.11,167.73 L559.36,167.96 L559.62,168.18 L559.87,168.38 L560.13,168.58 L560.38,168.76 L560.63,168.94 L560.89,169.11 L561.14,169.27 L561.40,169.43 L561.65,169.58 L561.90,169.72 L562.16,169.86 L562.41,169.99 L562.67,170.12 L562.92,170.24 L563.18,170.36 L563.43,170.48 L563.68,170.59 L563.94,170.70 L564.19,170.81 L564.45,170.91 L564.70,171.01 L564.95,171.11 L565.21,171.21 L565.46,171.30 L565.72,171.40 L565.97,171.49 L566.22,171.58 L566.48,171.67 L566.73,171.75 L566.99,171.84 L567.24,171.92 L567.50,172.00 L567.75,172.08 L568.00,172.16 L568.26,172.23 L568.51,172.30 L568.77,172.37 L569.02,172.44 L569.27,172.50 L569.53,172.56 L569.78,172.62 L570.04,172.68 L570.29,172.73 L570.54,172.78 L570.80,172.83 L571.05,172.87 L571.31,172.91 L571.56,172.95 L571.82,172.98 L572.07,173.02 L572.32,173.05 L572.58,173.08 L572.83,173.11 L573.09,173.14 L573.34,173.17 L573.59,173.20 L573.85,173.23 L574.10,173.27 L574.36,173.31 L574.61,173.35 L574.86,173.39 L575.12,173.44 L575.37,173.50 L575.63,173.56 L575.88,173.62 L576.13,173.70 L576.39,173.77 L576.64,173.86 L576.90,173.95 L577.15,174.05 L577.41,174.16 L577.66,174.27 L577.91,174.38 L578.17,174.50 L578.42,174.62 L578.68,174.74 L578.93,174.86 L579.18,174.99 L579.44,175.11 L579.69,175.23 L579.95,175.36 L580.20,175.48 L580.45,175.60 L580.71,175.71 L580.96,175.82 L581.22,175.93 L581.47,176.03 L581.73,176.13 L581.98,176.23 L582.23,176.32 L582.49,176.41 L582.74,176.50 L583.00,176.59 L583.25,176.68 L583.50,176.77 L583.76,176.86 L584.01,176.95 L584.27,177.05 L584.52,177.15 L584.77,177.25 L585.03,177.36 L585.28,177.47 L585.54,177.58 L585.79,177.70 L586.05,177.83 L586.30,177.95 L586.55,178.08 L586.81,178.21 L587.06,178.34 L587.32,178.47 L587.57,178.60 L587.82,178.73 L588.08,178.86 L588.33,178.99 L588.59,179.11 L588.84,179.23 L589.09,179.35 L589.35,179.47 L589.60,179.58 L589.86,179.69 L590.11,179.79 L590.37,179.88 L590.62,179.97 L590.87,180.06 L591.13,180.14 L591.38,180.21 L591.64,180.28 L591.89,180.35 L592.14,180.42 L592.40,180.48 L592.65,180.53 L592.91,180.59 L593.16,180.64 L593.41,180.69 L593.67,180.74 L593.92,180.78 L594.18,180.83 L594.43,180.87 L594.68,180.91 L594.94,180.95 L595.19,180.99 L595.45,181.03 L595.70,181.06 L595.96,181.10 L596.21,181.14 L596.46,181.17 L596.72,181.21 L596.97,181.24 L597.23,181.27 L597.48,181.30 L597.73,181.34 L597.99,181.37 L598.24,181.40 L598.50,181.43 L598.75,181.46 L599.00,181.49 L599.26,181.52 L599.51,181.55 L599.77,181.58 L600.02,181.61 L600.28,181.63 L600.53,181.66 L600.78,181.69 L601.04,181.72 L601.29,181.74 L601.55,181.77 L601.80,181.80" stroke="#000" stroke-width="1.1" fill="none"/>
<rect x="389.30" y="3.60" width="257.10" height="178.20" fill="none" stroke="#000" stroke-width="0.9"/>
<line x1="389.38" y1="181.80" x2="389.38" y2="179.60" stroke="#000" stroke-width="0.7"/>
<line x1="389.38" y1="3.60" x2="389.38" y2="5.80" stroke="#000" stroke-width="0.7"/>
<line x1="399.26" y1="181.80" x2="399.26" y2="179.60" stroke="#000" stroke-width="0.7"/>
<line x1="399.26" y1="3.60" x2="399.26" y2="5.80" stroke="#000" stroke-width="0.7"/>
<line x1="409.14" y1="181.80" x2="409.14" y2="179.60" stroke="#000" stroke-width="0.7"/>
<line x1="409.14" y1="3.60" x2="409.14" y2="5.80" stroke="#000" stroke-width="0.7"/>
<line x1="419.02" y1="181.80" x2="419.02" y2="179.60" stroke="#000" stroke-width="0.7"/>
<line x1="419.02" y1="3.60" x2="419.02" y2="5.80" stroke="#000" stroke-width="0.7"/>
<line x1="428.90" y1="181.80" x2="428.90" y2="178.60" stroke="#000" stroke-width="0.7"/>
<line x1="428.90" y1="3.60" x2="428.90" y2="6.80" stroke="#000" stroke-width="0.7"/>
<line x1="438.78" y1="181.80" x2="438.78" y2="179.60" stroke="#000" stroke-width="0.7"/>
<line x1="438.78" y1="3.60" x2="438.78" y2="5.80" stroke="#000" stroke-width="0.7"/>
<line x1="448.66" y1="181.80" x2="448.66" y2="179.60" stroke="#000" stroke-width="0.7"/>
<line x1="448.66" y1="3.60" x2="448.66" y2="5.80" stroke="#000" stroke-width="0.7"/>
<line x1="458.54" y1="181.80" x2="458.54" y2="179.60" stroke="#000" stroke-width="0.7"/>
<line x1="458.54" y1="3.60" x2="458.54" y2="5.80" stroke="#000" stroke-width="0.7"/>
<line x1="468.42" y1="181.80" x2="468.42" y2="179.60" stroke="#000" stroke-width="0.7"/>
<line x1="468.42" y1="3.60" x2="468.42" y2="5.80" stroke="#000" stroke-width="0.7"/>
<line x1="478.30" y1="181.80" x2="478.30" y2="178.60" stroke="#000" stroke-width="0.7"/>
<line x1="478.30" y1="3.60" x2="478.30" y2="6.80" stroke="#000" stroke-width="0.7"/>
<line x1="488.18" y1="181.80" x2="488.18" y2="179.60" stroke="#000" stroke-width="0.7"/>
<line x1="488.18" y1="3.60" x2="488.18" y2="5.80" stroke="#000" stroke-width="0.7"/>
<line x1="498.06" y1="181.80" x2="498.06" y2="179.60" stroke="#000" stroke-width="0.7"/>
<line x1="498.06" y1="3.60" x2="498.06" y2="5.80" stroke="#000" stroke-width="0.7"/>
<line x1="507.94" y1="181.80" x2="507.94" y2="179.60" stroke="#000" stroke-width="0.7"/>
<line x1="507.94" y1="3.60" x2="507.94" y2="5.80" stroke="#000" stroke-width="0.7"/>
<line x1="517.82" y1="181.80" x2="517.82" y2="179.60" stroke="#000" stroke-width="0.7"/>
<line x1="517.82" y1="3.60" x2="517.82" y2="5.80" stroke="#000" stroke-width="0.7"/>
<line x1="527.70" y1="181.80" x2="527.70" y2="178.60" stroke="#000" stroke-width="0.7"/>
<line x1="527.70" y1="3.60" x2="527.70" y2="6.80" stroke="#000" stroke-width="0.7"/>
<line x1="537.58" y1="181.80" x2="537.58" y2="179.60" stroke="#000" stroke-width="0.7"/>
<line x1="537.58" y1="3.60" x2="537.58" y2="5.80" stroke="#000" stroke-width="0.7"/>
<line x1="547.46" y1="181.80" x2="547.46" y2="179.60" stroke="#000" stroke-width="0.7"/>
<line x1="547.46" y1="3.60" x2="547.46" y2="5.80" stroke="#000" stroke-width="0.7"/>
<line x1="557.34" y1="181.80" x2="557.34" y2="179.60" stroke="#000" stroke-width="0.7"/>
<line x1="557.34" y1="3.60" x2="557.34" y2="5.80" stroke="#000" stroke-width="0.7"/>
<line x1="567.22" y1="181.80" x2="567.22" y2="179.60" stroke="#000" stroke-width="0.7"/>
<line x1="567.22" y1="3.60" x2="567.22" y2="5.80" stroke="#000" stroke-width="0.7"/>
<line x1="577.10" y1="181.80" x2="577.10" y2="178.60" stroke="#000" stroke-width="0.7"/>
<line x1="577.10" y1="3.60" x2="577.10" y2="6.80" stroke="#000" stroke-width="0.7"/>
<line x1="586.98" y1="181.80" x2="586.98" y2="179.60" stroke="#000" stroke-width="0.7"/>
<line x1="586.98" y1="3.60" x2="586.98" y2="5.80" stroke="#000" stroke-width="0.7"/>
<line x1="596.86" y1="181.80" x2="596.86" y2="179.60" stroke="#000" stroke-width="0.7"/>
<line x1="596.86" y1="3.60" x2="596.86" y2="5.80" stroke="#000" stroke-width="0.7"/>
<line x1="606.74" y1="181.80" x2="606.74" y2="179.60" stroke="#000" stroke-width="0.7"/>
<line x1="606.74" y1="3.60" x2="606.74" y2="5.80" stroke="#000" stroke-width="0.7"/>
<line x1="616.62" y1="181.80" x2="616.62" y2="179.60" stroke="#000" stroke-width="0.7"/>
<line x1="616.62" y1="3.60" x2="616.62" y2="5.80" stroke="#000" stroke-width="0.7"/>
<line x1="626.50" y1="181.80" x2="626.50" y2="178.60" stroke="#000" stroke-width="0.7"/>
<line x1="626.50" y1="3.60" x2="626.50" y2="6.80" stroke="#000" stroke-width="0.7"/>
<line x1="636.38" y1="181.80" x2="636.38" y2="179.60" stroke="#000" stroke-width="0.7"/>
<line x1="636.38" y1="3.60" x2="636.38" y2="5.80" stroke="#000" stroke-width="0.7"/>
<line x1="646.26" y1="181.80" x2="646.26" y2="179.60" stroke="#000" stroke-width="0.7"/>
<line x1="646.26" y1="3.60" x2="646.26" y2="5.80" stroke="#000" stroke-width="0.7"/>
<text x="428.30" y="192.70" font-size="10.5" font-weight="bold" text-anchor="middle" fill="#000" stroke="#000" stroke-width="0.263">0</text>
<text x="477.70" y="192.70" font-size="10.5" font-weight="bold" text-anchor="middle" fill="#000" stroke="#000" stroke-width="0.263">100</text>
<text x="527.10" y="192.70" font-size="10.5" font-weight="bold" text-anchor="middle" fill="#000" stroke="#000" stroke-width="0.263">200</text>
<text x="576.50" y="192.70" font-size="10.5" font-weight="bold" text-anchor="middle" fill="#000" stroke="#000" stroke-width="0.263">300</text>
<text x="625.90" y="192.70" font-size="10.5" font-weight="bold" text-anchor="middle" fill="#000" stroke="#000" stroke-width="0.263">400</text>
<line x1="389.30" y1="181.80" x2="392.50" y2="181.80" stroke="#000" stroke-width="0.7"/>
<line x1="646.40" y1="181.80" x2="643.20" y2="181.80" stroke="#000" stroke-width="0.7"/>
<text x="386.00" y="185.60" font-size="10.5" font-weight="bold" text-anchor="end" fill="#000" stroke="#000" stroke-width="0.263">0</text>
<line x1="389.30" y1="152.10" x2="392.50" y2="152.10" stroke="#000" stroke-width="0.7"/>
<line x1="646.40" y1="152.10" x2="643.20" y2="152.10" stroke="#000" stroke-width="0.7"/>
<text x="386.00" y="155.90" font-size="10.5" font-weight="bold" text-anchor="end" fill="#000" stroke="#000" stroke-width="0.263">0.001</text>
<line x1="389.30" y1="122.40" x2="392.50" y2="122.40" stroke="#000" stroke-width="0.7"/>
<line x1="646.40" y1="122.40" x2="643.20" y2="122.40" stroke="#000" stroke-width="0.7"/>
<text x="386.00" y="126.20" font-size="10.5" font-weight="bold" text-anchor="end" fill="#000" stroke="#000" stroke-width="0.263">0.002</text>
<line x1="389.30" y1="92.70" x2="392.50" y2="92.70" stroke="#000" stroke-width="0.7"/>
<line x1="646.40" y1="92.70" x2="643.20" y2="92.70" stroke="#000" stroke-width="0.7"/>
<text x="386.00" y="96.50" font-size="10.5" font-weight="bold" text-anchor="end" fill="#000" stroke="#000" stroke-width="0.263">0.003</text>
<line x1="389.30" y1="63.00" x2="392.50" y2="63.00" stroke="#000" stroke-width="0.7"/>
<line x1="646.40" y1="63.00" x2="643.20" y2="63.00" stroke="#000" stroke-width="0.7"/>
<text x="386.00" y="66.80" font-size="10.5" font-weight="bold" text-anchor="end" fill="#000" stroke="#000" stroke-width="0.263">0.004</text>
<line x1="389.30" y1="33.30" x2="392.50" y2="33.30" stroke="#000" stroke-width="0.7"/>
<line x1="646.40" y1="33.30" x2="643.20" y2="33.30" stroke="#000" stroke-width="0.7"/>
<text x="386.00" y="37.10" font-size="10.5" font-weight="bold" text-anchor="end" fill="#000" stroke="#000" stroke-width="0.263">0.005</text>
<line x1="389.30" y1="3.60" x2="392.50" y2="3.60" stroke="#000" stroke-width="0.7"/>
<line x1="646.40" y1="3.60" x2="643.20" y2="3.60" stroke="#000" stroke-width="0.7"/>
<text x="386.00" y="7.40" font-size="10.5" font-weight="bold" text-anchor="end" fill="#000" stroke="#000" stroke-width="0.263">0.006</text>
<text x="348.60" y="94.10" font-size="10.7" font-weight="bold" text-anchor="middle" fill="#000" textLength="123" lengthAdjust="spacingAndGlyphs" transform="rotate(-90 348.6 94.1)" stroke="#000" stroke-width="0.268">Gaussian kernel density</text>
<text x="494.80" y="206.00" font-size="10.5" font-weight="bold" text-anchor="middle" fill="#000" stroke="#000" stroke-width="0.263">Date (Ma)</text>
<text x="392.00" y="17.20" font-size="8.5" font-weight="bold" text-anchor="start" fill="#000" font-style="italic" stroke="#000" stroke-width="0.213">(b)</text>
<text x="440.50" y="20.70" font-size="6.5" font-weight="normal" text-anchor="middle" fill="#000">22.3</text>
<text x="495.40" y="45.20" font-size="6.5" font-weight="normal" text-anchor="middle" fill="#000">132.3</text>
<text x="514.70" y="23.30" font-size="6.5" font-weight="normal" text-anchor="middle" fill="#000">191.3</text>
<line x1="516.00" y1="24.80" x2="522.64" y2="60.95" stroke="#222" stroke-width="0.7"/>
<polygon points="523.20,64.00 520.43,59.43 522.64,60.95 524.17,58.74" fill="#222" stroke="#222" stroke-width="0.3" stroke-linejoin="round"/>
<line x1="546.60" y1="48.30" x2="533.60" y2="48.30" stroke="#222" stroke-width="0.8"/>
<polygon points="530.50,48.30 535.50,46.40 533.60,48.30 535.50,50.20" fill="#222" stroke="#222" stroke-width="0.3" stroke-linejoin="round"/>
<text x="548.20" y="50.20" font-size="6.3" font-weight="bold" text-anchor="start" fill="#000" stroke="#000" stroke-width="0.158">CAMP</text>
<text x="531.30" y="59.90" font-size="6.3" font-weight="bold" text-anchor="start" fill="#000" stroke="#000" stroke-width="0.158">(201.43 ± 0.15)</text>
<text x="587.90" y="17.30" font-size="6.3" font-weight="bold" text-anchor="start" fill="#000" stroke="#000" stroke-width="0.158">NE Brazil (n = 444)</text>
<text x="505.60" y="149.70" font-size="6.3" font-weight="bold" text-anchor="middle" fill="#000" stroke="#000" stroke-width="0.158">Kendem</text>
<text x="505.60" y="157.90" font-size="6.3" font-weight="bold" text-anchor="middle" fill="#000" stroke="#000" stroke-width="0.158">(192 ± 7)</text>
<line x1="510.20" y1="159.30" x2="521.18" y2="178.90" stroke="#222" stroke-width="0.7"/>
<polygon points="522.70,181.60 518.60,178.17 521.18,178.90 521.91,176.31" fill="#222" stroke="#222" stroke-width="0.3" stroke-linejoin="round"/>
<rect x="38.90" y="298.90" width="302.10" height="5.80" fill="#cdcdcd" stroke="none" stroke-width="1"/>
<line x1="38.90" y1="302.30" x2="341.00" y2="302.30" stroke="#222" stroke-width="0.7" stroke-dasharray="2.2,1.6"/>
<rect x="141.40" y="349.80" width="199.60" height="5.60" fill="#c8eef2" stroke="none" stroke-width="1"/>
<line x1="141.40" y1="352.40" x2="341.00" y2="352.40" stroke="#55b5c0" stroke-width="0.9" stroke-dasharray="1.6,1.4"/>
<line x1="47.20" y1="288.50" x2="47.20" y2="301.70" stroke="#6eeafa" stroke-width="0.9"/>
<line x1="46.00" y1="288.50" x2="48.40" y2="288.50" stroke="#6eeafa" stroke-width="0.9"/>
<line x1="46.00" y1="301.70" x2="48.40" y2="301.70" stroke="#6eeafa" stroke-width="0.9"/>
<line x1="49.20" y1="291.50" x2="49.20" y2="300.70" stroke="#6eeafa" stroke-width="0.9"/>
<line x1="48.00" y1="291.50" x2="50.40" y2="291.50" stroke="#6eeafa" stroke-width="0.9"/>
<line x1="48.00" y1="300.70" x2="50.40" y2="300.70" stroke="#6eeafa" stroke-width="0.9"/>
<line x1="51.50" y1="291.50" x2="51.50" y2="308.90" stroke="#6eeafa" stroke-width="0.9"/>
<line x1="50.30" y1="291.50" x2="52.70" y2="291.50" stroke="#6eeafa" stroke-width="0.9"/>
<line x1="50.30" y1="308.90" x2="52.70" y2="308.90" stroke="#6eeafa" stroke-width="0.9"/>
<line x1="53.50" y1="299.70" x2="53.50" y2="313.50" stroke="#6eeafa" stroke-width="0.9"/>
<line x1="52.30" y1="299.70" x2="54.70" y2="299.70" stroke="#6eeafa" stroke-width="0.9"/>
<line x1="52.30" y1="313.50" x2="54.70" y2="313.50" stroke="#6eeafa" stroke-width="0.9"/>
<line x1="55.80" y1="292.50" x2="55.80" y2="314.80" stroke="#6eeafa" stroke-width="0.9"/>
<line x1="54.60" y1="292.50" x2="57.00" y2="292.50" stroke="#6eeafa" stroke-width="0.9"/>
<line x1="54.60" y1="314.80" x2="57.00" y2="314.80" stroke="#6eeafa" stroke-width="0.9"/>
<line x1="58.10" y1="299.40" x2="58.10" y2="308.90" stroke="#6eeafa" stroke-width="0.9"/>
<line x1="56.90" y1="299.40" x2="59.30" y2="299.40" stroke="#6eeafa" stroke-width="0.9"/>
<line x1="56.90" y1="308.90" x2="59.30" y2="308.90" stroke="#6eeafa" stroke-width="0.9"/>
<line x1="59.70" y1="308.90" x2="59.70" y2="316.10" stroke="#6eeafa" stroke-width="0.9"/>
<line x1="58.50" y1="308.90" x2="60.90" y2="308.90" stroke="#6eeafa" stroke-width="0.9"/>
<line x1="58.50" y1="316.10" x2="60.90" y2="316.10" stroke="#6eeafa" stroke-width="0.9"/>
<line x1="62.30" y1="297.40" x2="62.30" y2="305.00" stroke="#6eeafa" stroke-width="0.9"/>
<line x1="61.10" y1="297.40" x2="63.50" y2="297.40" stroke="#6eeafa" stroke-width="0.9"/>
<line x1="61.10" y1="305.00" x2="63.50" y2="305.00" stroke="#6eeafa" stroke-width="0.9"/>
<line x1="64.00" y1="299.00" x2="64.00" y2="307.60" stroke="#6eeafa" stroke-width="0.9"/>
<line x1="62.80" y1="299.00" x2="65.20" y2="299.00" stroke="#6eeafa" stroke-width="0.9"/>
<line x1="62.80" y1="307.60" x2="65.20" y2="307.60" stroke="#6eeafa" stroke-width="0.9"/>
<line x1="66.30" y1="306.30" x2="66.30" y2="313.50" stroke="#6eeafa" stroke-width="0.9"/>
<line x1="65.10" y1="306.30" x2="67.50" y2="306.30" stroke="#6eeafa" stroke-width="0.9"/>
<line x1="65.10" y1="313.50" x2="67.50" y2="313.50" stroke="#6eeafa" stroke-width="0.9"/>
<line x1="68.30" y1="294.50" x2="68.30" y2="308.90" stroke="#6eeafa" stroke-width="0.9"/>
<line x1="67.10" y1="294.50" x2="69.50" y2="294.50" stroke="#6eeafa" stroke-width="0.9"/>
<line x1="67.10" y1="308.90" x2="69.50" y2="308.90" stroke="#6eeafa" stroke-width="0.9"/>
<line x1="70.60" y1="294.50" x2="70.60" y2="315.80" stroke="#6eeafa" stroke-width="0.9"/>
<line x1="69.40" y1="294.50" x2="71.80" y2="294.50" stroke="#6eeafa" stroke-width="0.9"/>
<line x1="69.40" y1="315.80" x2="71.80" y2="315.80" stroke="#6eeafa" stroke-width="0.9"/>
<line x1="72.20" y1="281.30" x2="72.20" y2="313.50" stroke="#6eeafa" stroke-width="0.9"/>
<line x1="71.00" y1="281.30" x2="73.40" y2="281.30" stroke="#6eeafa" stroke-width="0.9"/>
<line x1="71.00" y1="313.50" x2="73.40" y2="313.50" stroke="#6eeafa" stroke-width="0.9"/>
<line x1="74.50" y1="289.50" x2="74.50" y2="306.90" stroke="#6eeafa" stroke-width="0.9"/>
<line x1="73.30" y1="289.50" x2="75.70" y2="289.50" stroke="#6eeafa" stroke-width="0.9"/>
<line x1="73.30" y1="306.90" x2="75.70" y2="306.90" stroke="#6eeafa" stroke-width="0.9"/>
<line x1="76.80" y1="284.60" x2="76.80" y2="300.00" stroke="#6eeafa" stroke-width="0.9"/>
<line x1="75.60" y1="284.60" x2="78.00" y2="284.60" stroke="#6eeafa" stroke-width="0.9"/>
<line x1="75.60" y1="300.00" x2="78.00" y2="300.00" stroke="#6eeafa" stroke-width="0.9"/>
<line x1="79.10" y1="287.20" x2="79.10" y2="310.20" stroke="#6eeafa" stroke-width="0.9"/>
<line x1="77.90" y1="287.20" x2="80.30" y2="287.20" stroke="#6eeafa" stroke-width="0.9"/>
<line x1="77.90" y1="310.20" x2="80.30" y2="310.20" stroke="#6eeafa" stroke-width="0.9"/>
<line x1="81.00" y1="297.40" x2="81.00" y2="323.40" stroke="#6eeafa" stroke-width="0.9"/>
<line x1="79.80" y1="297.40" x2="82.20" y2="297.40" stroke="#6eeafa" stroke-width="0.9"/>
<line x1="79.80" y1="323.40" x2="82.20" y2="323.40" stroke="#6eeafa" stroke-width="0.9"/>
<line x1="83.40" y1="327.30" x2="83.40" y2="334.50" stroke="#6eeafa" stroke-width="0.9"/>
<line x1="82.20" y1="327.30" x2="84.60" y2="327.30" stroke="#6eeafa" stroke-width="0.9"/>
<line x1="82.20" y1="334.50" x2="84.60" y2="334.50" stroke="#6eeafa" stroke-width="0.9"/>
<line x1="85.20" y1="310.00" x2="85.20" y2="322.00" stroke="#6eeafa" stroke-width="0.9"/>
<line x1="84.00" y1="310.00" x2="86.40" y2="310.00" stroke="#6eeafa" stroke-width="0.9"/>
<line x1="84.00" y1="322.00" x2="86.40" y2="322.00" stroke="#6eeafa" stroke-width="0.9"/>
<line x1="87.30" y1="313.00" x2="87.30" y2="326.00" stroke="#6eeafa" stroke-width="0.9"/>
<line x1="86.10" y1="313.00" x2="88.50" y2="313.00" stroke="#6eeafa" stroke-width="0.9"/>
<line x1="86.10" y1="326.00" x2="88.50" y2="326.00" stroke="#6eeafa" stroke-width="0.9"/>
<line x1="89.50" y1="316.00" x2="89.50" y2="327.00" stroke="#6eeafa" stroke-width="0.9"/>
<line x1="88.30" y1="316.00" x2="90.70" y2="316.00" stroke="#6eeafa" stroke-width="0.9"/>
<line x1="88.30" y1="327.00" x2="90.70" y2="327.00" stroke="#6eeafa" stroke-width="0.9"/>
<line x1="91.80" y1="304.00" x2="91.80" y2="326.00" stroke="#6eeafa" stroke-width="0.9"/>
<line x1="90.60" y1="304.00" x2="93.00" y2="304.00" stroke="#6eeafa" stroke-width="0.9"/>
<line x1="90.60" y1="326.00" x2="93.00" y2="326.00" stroke="#6eeafa" stroke-width="0.9"/>
<line x1="93.70" y1="297.00" x2="93.70" y2="305.00" stroke="#6eeafa" stroke-width="0.9"/>
<line x1="92.50" y1="297.00" x2="94.90" y2="297.00" stroke="#6eeafa" stroke-width="0.9"/>
<line x1="92.50" y1="305.00" x2="94.90" y2="305.00" stroke="#6eeafa" stroke-width="0.9"/>
<line x1="95.70" y1="299.00" x2="95.70" y2="305.00" stroke="#6eeafa" stroke-width="0.9"/>
<line x1="94.50" y1="299.00" x2="96.90" y2="299.00" stroke="#6eeafa" stroke-width="0.9"/>
<line x1="94.50" y1="305.00" x2="96.90" y2="305.00" stroke="#6eeafa" stroke-width="0.9"/>
<line x1="97.80" y1="296.00" x2="97.80" y2="301.00" stroke="#6eeafa" stroke-width="0.9"/>
<line x1="96.60" y1="296.00" x2="99.00" y2="296.00" stroke="#6eeafa" stroke-width="0.9"/>
<line x1="96.60" y1="301.00" x2="99.00" y2="301.00" stroke="#6eeafa" stroke-width="0.9"/>
<line x1="100.00" y1="295.00" x2="100.00" y2="300.00" stroke="#6eeafa" stroke-width="0.9"/>
<line x1="98.80" y1="295.00" x2="101.20" y2="295.00" stroke="#6eeafa" stroke-width="0.9"/>
<line x1="98.80" y1="300.00" x2="101.20" y2="300.00" stroke="#6eeafa" stroke-width="0.9"/>
<line x1="102.40" y1="294.00" x2="102.40" y2="300.00" stroke="#6eeafa" stroke-width="0.9"/>
<line x1="101.20" y1="294.00" x2="103.60" y2="294.00" stroke="#6eeafa" stroke-width="0.9"/>
<line x1="101.20" y1="300.00" x2="103.60" y2="300.00" stroke="#6eeafa" stroke-width="0.9"/>
<line x1="104.60" y1="283.00" x2="104.60" y2="296.00" stroke="#6eeafa" stroke-width="0.9"/>
<line x1="103.40" y1="283.00" x2="105.80" y2="283.00" stroke="#6eeafa" stroke-width="0.9"/>
<line x1="103.40" y1="296.00" x2="105.80" y2="296.00" stroke="#6eeafa" stroke-width="0.9"/>
<line x1="106.30" y1="300.00" x2="106.30" y2="315.00" stroke="#6eeafa" stroke-width="0.9"/>
<line x1="105.10" y1="300.00" x2="107.50" y2="300.00" stroke="#6eeafa" stroke-width="0.9"/>
<line x1="105.10" y1="315.00" x2="107.50" y2="315.00" stroke="#6eeafa" stroke-width="0.9"/>
<line x1="108.60" y1="300.00" x2="108.60" y2="320.00" stroke="#6eeafa" stroke-width="0.9"/>
<line x1="107.40" y1="300.00" x2="109.80" y2="300.00" stroke="#6eeafa" stroke-width="0.9"/>
<line x1="107.40" y1="320.00" x2="109.80" y2="320.00" stroke="#6eeafa" stroke-width="0.9"/>
<line x1="110.80" y1="297.00" x2="110.80" y2="304.00" stroke="#6eeafa" stroke-width="0.9"/>
<line x1="109.60" y1="297.00" x2="112.00" y2="297.00" stroke="#6eeafa" stroke-width="0.9"/>
<line x1="109.60" y1="304.00" x2="112.00" y2="304.00" stroke="#6eeafa" stroke-width="0.9"/>
<line x1="112.90" y1="298.00" x2="112.90" y2="303.00" stroke="#6eeafa" stroke-width="0.9"/>
<line x1="111.70" y1="298.00" x2="114.10" y2="298.00" stroke="#6eeafa" stroke-width="0.9"/>
<line x1="111.70" y1="303.00" x2="114.10" y2="303.00" stroke="#6eeafa" stroke-width="0.9"/>
<line x1="115.10" y1="300.00" x2="115.10" y2="305.00" stroke="#6eeafa" stroke-width="0.9"/>
<line x1="113.90" y1="300.00" x2="116.30" y2="300.00" stroke="#6eeafa" stroke-width="0.9"/>
<line x1="113.90" y1="305.00" x2="116.30" y2="305.00" stroke="#6eeafa" stroke-width="0.9"/>
<polygon points="44.40,297.50 50.00,297.50 47.20,292.70" fill="#45d8ea" stroke="#0a2a30" stroke-width="0.8"/>
<polygon points="46.40,300.80 52.00,300.80 49.20,296.00" fill="#45d8ea" stroke="#0a2a30" stroke-width="0.8"/>
<polygon points="48.70,303.40 54.30,303.40 51.50,298.60" fill="#45d8ea" stroke="#0a2a30" stroke-width="0.8"/>
<polygon points="50.70,308.40 56.30,308.40 53.50,303.60" fill="#45d8ea" stroke="#0a2a30" stroke-width="0.8"/>
<polygon points="53.00,306.10 58.60,306.10 55.80,301.30" fill="#45d8ea" stroke="#0a2a30" stroke-width="0.8"/>
<polygon points="55.30,306.10 60.90,306.10 58.10,301.30" fill="#45d8ea" stroke="#0a2a30" stroke-width="0.8"/>
<polygon points="56.90,315.30 62.50,315.30 59.70,310.50" fill="#45d8ea" stroke="#0a2a30" stroke-width="0.8"/>
<polygon points="59.50,303.80 65.10,303.80 62.30,299.00" fill="#45d8ea" stroke="#0a2a30" stroke-width="0.8"/>
<polygon points="61.20,307.00 66.80,307.00 64.00,302.20" fill="#45d8ea" stroke="#0a2a30" stroke-width="0.8"/>
<polygon points="63.50,311.30 69.10,311.30 66.30,306.50" fill="#45d8ea" stroke="#0a2a30" stroke-width="0.8"/>
<polygon points="65.50,304.40 71.10,304.40 68.30,299.60" fill="#45d8ea" stroke="#0a2a30" stroke-width="0.8"/>
<polygon points="67.80,307.70 73.40,307.70 70.60,302.90" fill="#45d8ea" stroke="#0a2a30" stroke-width="0.8"/>
<polygon points="69.40,299.80 75.00,299.80 72.20,295.00" fill="#45d8ea" stroke="#0a2a30" stroke-width="0.8"/>
<polygon points="71.70,301.10 77.30,301.10 74.50,296.30" fill="#45d8ea" stroke="#0a2a30" stroke-width="0.8"/>
<polygon points="74.00,295.50 79.60,295.50 76.80,290.70" fill="#45d8ea" stroke="#0a2a30" stroke-width="0.8"/>
<polygon points="76.30,301.40 81.90,301.40 79.10,296.60" fill="#45d8ea" stroke="#0a2a30" stroke-width="0.8"/>
<polygon points="78.20,313.10 83.80,313.10 81.00,308.30" fill="#45d8ea" stroke="#0a2a30" stroke-width="0.8"/>
<polygon points="80.60,331.80 86.20,331.80 83.40,327.00" fill="#45d8ea" stroke="#0a2a30" stroke-width="0.8"/>
<polygon points="82.40,319.00 88.00,319.00 85.20,314.20" fill="#45d8ea" stroke="#0a2a30" stroke-width="0.8"/>
<polygon points="84.50,322.60 90.10,322.60 87.30,317.80" fill="#45d8ea" stroke="#0a2a30" stroke-width="0.8"/>
<polygon points="86.70,323.90 92.30,323.90 89.50,319.10" fill="#45d8ea" stroke="#0a2a30" stroke-width="0.8"/>
<polygon points="89.00,319.00 94.60,319.00 91.80,314.20" fill="#45d8ea" stroke="#0a2a30" stroke-width="0.8"/>
<polygon points="90.90,303.70 96.50,303.70 93.70,298.90" fill="#45d8ea" stroke="#0a2a30" stroke-width="0.8"/>
<polygon points="92.90,304.60 98.50,304.60 95.70,299.80" fill="#45d8ea" stroke="#0a2a30" stroke-width="0.8"/>
<polygon points="95.00,301.00 100.60,301.00 97.80,296.20" fill="#45d8ea" stroke="#0a2a30" stroke-width="0.8"/>
<polygon points="97.20,300.30 102.80,300.30 100.00,295.50" fill="#45d8ea" stroke="#0a2a30" stroke-width="0.8"/>
<polygon points="99.60,299.30 105.20,299.30 102.40,294.50" fill="#45d8ea" stroke="#0a2a30" stroke-width="0.8"/>
<polygon points="101.80,294.10 107.40,294.10 104.60,289.30" fill="#45d8ea" stroke="#0a2a30" stroke-width="0.8"/>
<polygon points="103.50,310.80 109.10,310.80 106.30,306.00" fill="#45d8ea" stroke="#0a2a30" stroke-width="0.8"/>
<polygon points="105.80,310.80 111.40,310.80 108.60,306.00" fill="#45d8ea" stroke="#0a2a30" stroke-width="0.8"/>
<polygon points="108.00,302.90 113.60,302.90 110.80,298.10" fill="#45d8ea" stroke="#0a2a30" stroke-width="0.8"/>
<polygon points="110.10,302.90 115.70,302.90 112.90,298.10" fill="#45d8ea" stroke="#0a2a30" stroke-width="0.8"/>
<polygon points="112.30,305.00 117.90,305.00 115.10,300.20" fill="#45d8ea" stroke="#0a2a30" stroke-width="0.8"/>
<line x1="121.60" y1="279.20" x2="121.60" y2="308.30" stroke="#b46ae0" stroke-width="0.9"/>
<line x1="120.40" y1="279.20" x2="122.80" y2="279.20" stroke="#b46ae0" stroke-width="0.9"/>
<line x1="120.40" y1="308.30" x2="122.80" y2="308.30" stroke="#b46ae0" stroke-width="0.9"/>
<line x1="119.20" y1="305.70" x2="119.20" y2="324.10" stroke="#b46ae0" stroke-width="0.9"/>
<line x1="118.00" y1="305.70" x2="120.40" y2="305.70" stroke="#b46ae0" stroke-width="0.9"/>
<line x1="118.00" y1="324.10" x2="120.40" y2="324.10" stroke="#b46ae0" stroke-width="0.9"/>
<line x1="123.10" y1="313.60" x2="123.10" y2="330.00" stroke="#b46ae0" stroke-width="0.9"/>
<line x1="121.90" y1="313.60" x2="124.30" y2="313.60" stroke="#b46ae0" stroke-width="0.9"/>
<line x1="121.90" y1="330.00" x2="124.30" y2="330.00" stroke="#b46ae0" stroke-width="0.9"/>
<line x1="125.50" y1="293.90" x2="125.50" y2="326.70" stroke="#b46ae0" stroke-width="0.9"/>
<line x1="124.30" y1="293.90" x2="126.70" y2="293.90" stroke="#b46ae0" stroke-width="0.9"/>
<line x1="124.30" y1="326.70" x2="126.70" y2="326.70" stroke="#b46ae0" stroke-width="0.9"/>
<line x1="127.50" y1="306.30" x2="127.50" y2="318.80" stroke="#b46ae0" stroke-width="0.9"/>
<line x1="126.30" y1="306.30" x2="128.70" y2="306.30" stroke="#b46ae0" stroke-width="0.9"/>
<line x1="126.30" y1="318.80" x2="128.70" y2="318.80" stroke="#b46ae0" stroke-width="0.9"/>
<line x1="129.70" y1="292.30" x2="129.70" y2="303.00" stroke="#b46ae0" stroke-width="0.9"/>
<line x1="128.50" y1="292.30" x2="130.90" y2="292.30" stroke="#b46ae0" stroke-width="0.9"/>
<line x1="128.50" y1="303.00" x2="130.90" y2="303.00" stroke="#b46ae0" stroke-width="0.9"/>
<line x1="132.00" y1="303.00" x2="132.00" y2="318.80" stroke="#b46ae0" stroke-width="0.9"/>
<line x1="130.80" y1="303.00" x2="133.20" y2="303.00" stroke="#b46ae0" stroke-width="0.9"/>
<line x1="130.80" y1="318.80" x2="133.20" y2="318.80" stroke="#b46ae0" stroke-width="0.9"/>
<line x1="133.60" y1="301.10" x2="133.60" y2="318.80" stroke="#b46ae0" stroke-width="0.9"/>
<line x1="132.40" y1="301.10" x2="134.80" y2="301.10" stroke="#b46ae0" stroke-width="0.9"/>
<line x1="132.40" y1="318.80" x2="134.80" y2="318.80" stroke="#b46ae0" stroke-width="0.9"/>
<line x1="136.00" y1="272.80" x2="136.00" y2="292.30" stroke="#b46ae0" stroke-width="0.9"/>
<line x1="134.80" y1="272.80" x2="137.20" y2="272.80" stroke="#b46ae0" stroke-width="0.9"/>
<line x1="134.80" y1="292.30" x2="137.20" y2="292.30" stroke="#b46ae0" stroke-width="0.9"/>
<line x1="138.20" y1="297.20" x2="138.20" y2="312.90" stroke="#b46ae0" stroke-width="0.9"/>
<line x1="137.00" y1="297.20" x2="139.40" y2="297.20" stroke="#b46ae0" stroke-width="0.9"/>
<line x1="137.00" y1="312.90" x2="139.40" y2="312.90" stroke="#b46ae0" stroke-width="0.9"/>
<polygon points="121.60,290.70 124.50,293.60 121.60,296.50 118.70,293.60" fill="#9424cc" stroke="#2a0838" stroke-width="0.7"/>
<polygon points="119.20,312.40 122.10,315.30 119.20,318.20 116.30,315.30" fill="#9424cc" stroke="#2a0838" stroke-width="0.7"/>
<polygon points="123.10,319.60 126.00,322.50 123.10,325.40 120.20,322.50" fill="#9424cc" stroke="#2a0838" stroke-width="0.7"/>
<polygon points="125.50,308.10 128.40,311.00 125.50,313.90 122.60,311.00" fill="#9424cc" stroke="#2a0838" stroke-width="0.7"/>
<polygon points="127.50,309.10 130.40,312.00 127.50,314.90 124.60,312.00" fill="#9424cc" stroke="#2a0838" stroke-width="0.7"/>
<polygon points="129.70,294.60 132.60,297.50 129.70,300.40 126.80,297.50" fill="#9424cc" stroke="#2a0838" stroke-width="0.7"/>
<polygon points="132.00,308.70 134.90,311.60 132.00,314.50 129.10,311.60" fill="#9424cc" stroke="#2a0838" stroke-width="0.7"/>
<polygon points="133.60,304.80 136.50,307.70 133.60,310.60 130.70,307.70" fill="#9424cc" stroke="#2a0838" stroke-width="0.7"/>
<polygon points="136.00,279.80 138.90,282.70 136.00,285.60 133.10,282.70" fill="#9424cc" stroke="#2a0838" stroke-width="0.7"/>
<polygon points="138.20,301.90 141.10,304.80 138.20,307.70 135.30,304.80" fill="#9424cc" stroke="#2a0838" stroke-width="0.7"/>
<line x1="151.10" y1="266.30" x2="151.10" y2="300.40" stroke="#f07070" stroke-width="0.9"/>
<line x1="149.90" y1="266.30" x2="152.30" y2="266.30" stroke="#f07070" stroke-width="0.9"/>
<line x1="149.90" y1="300.40" x2="152.30" y2="300.40" stroke="#f07070" stroke-width="0.9"/>
<line x1="142.60" y1="315.50" x2="142.60" y2="326.70" stroke="#f07070" stroke-width="0.9"/>
<line x1="141.40" y1="315.50" x2="143.80" y2="315.50" stroke="#f07070" stroke-width="0.9"/>
<line x1="141.40" y1="326.70" x2="143.80" y2="326.70" stroke="#f07070" stroke-width="0.9"/>
<line x1="148.80" y1="301.80" x2="148.80" y2="352.00" stroke="#f07070" stroke-width="0.9"/>
<line x1="146.60" y1="345.00" x2="146.60" y2="357.50" stroke="#f07070" stroke-width="0.9"/>
<line x1="145.40" y1="345.00" x2="147.80" y2="345.00" stroke="#f07070" stroke-width="0.9"/>
<line x1="145.40" y1="357.50" x2="147.80" y2="357.50" stroke="#f07070" stroke-width="0.9"/>
<rect x="142.85" y="286.65" width="3.90" height="3.90" fill="#dd0000" stroke="#300" stroke-width="0.6"/>
<rect x="149.15" y="281.15" width="3.90" height="3.90" fill="#dd0000" stroke="#300" stroke-width="0.6"/>
<rect x="140.65" y="318.85" width="3.90" height="3.90" fill="#dd0000" stroke="#300" stroke-width="0.6"/>
<rect x="146.85" y="325.25" width="3.90" height="3.90" fill="#dd0000" stroke="#300" stroke-width="0.6"/>
<rect x="150.35" y="298.25" width="3.90" height="3.90" fill="#dd0000" stroke="#300" stroke-width="0.6"/>
<rect x="151.25" y="298.05" width="3.90" height="3.90" fill="#dd0000" stroke="#300" stroke-width="0.6"/>
<rect x="144.85" y="349.85" width="3.90" height="3.90" fill="#dd0000" stroke="#300" stroke-width="0.6"/>
<polygon points="154.50,297.30 160.10,297.30 157.30,301.90" fill="#000" stroke="#000" stroke-width="0.5"/>
<line x1="165.80" y1="266.30" x2="165.80" y2="296.14" stroke="#777" stroke-width="1.2"/>
<polygon points="165.80,299.80 163.60,293.90 165.80,296.14 168.00,293.90" fill="#111" stroke="#111" stroke-width="0.3" stroke-linejoin="round"/>
<line x1="165.60" y1="302.50" x2="165.60" y2="310.50" stroke="#66ee66" stroke-width="0.9"/>
<line x1="164.40" y1="302.50" x2="166.80" y2="302.50" stroke="#66ee66" stroke-width="0.9"/>
<line x1="164.40" y1="310.50" x2="166.80" y2="310.50" stroke="#66ee66" stroke-width="0.9"/>
<line x1="171.80" y1="314.00" x2="171.80" y2="318.00" stroke="#66ee66" stroke-width="0.9"/>
<line x1="170.60" y1="314.00" x2="173.00" y2="314.00" stroke="#66ee66" stroke-width="0.9"/>
<line x1="170.60" y1="318.00" x2="173.00" y2="318.00" stroke="#66ee66" stroke-width="0.9"/>
<line x1="174.40" y1="298.00" x2="174.40" y2="314.00" stroke="#66ee66" stroke-width="0.9"/>
<line x1="173.20" y1="298.00" x2="175.60" y2="298.00" stroke="#66ee66" stroke-width="0.9"/>
<line x1="173.20" y1="314.00" x2="175.60" y2="314.00" stroke="#66ee66" stroke-width="0.9"/>
<line x1="176.40" y1="306.00" x2="176.40" y2="313.00" stroke="#66ee66" stroke-width="0.9"/>
<line x1="175.20" y1="306.00" x2="177.60" y2="306.00" stroke="#66ee66" stroke-width="0.9"/>
<line x1="175.20" y1="313.00" x2="177.60" y2="313.00" stroke="#66ee66" stroke-width="0.9"/>
<line x1="178.30" y1="309.00" x2="178.30" y2="316.00" stroke="#66ee66" stroke-width="0.9"/>
<line x1="177.10" y1="309.00" x2="179.50" y2="309.00" stroke="#66ee66" stroke-width="0.9"/>
<line x1="177.10" y1="316.00" x2="179.50" y2="316.00" stroke="#66ee66" stroke-width="0.9"/>
<line x1="180.60" y1="288.00" x2="180.60" y2="330.70" stroke="#66ee66" stroke-width="0.9"/>
<line x1="179.40" y1="288.00" x2="181.80" y2="288.00" stroke="#66ee66" stroke-width="0.9"/>
<line x1="179.40" y1="330.70" x2="181.80" y2="330.70" stroke="#66ee66" stroke-width="0.9"/>
<line x1="182.50" y1="278.00" x2="182.50" y2="328.80" stroke="#66ee66" stroke-width="0.9"/>
<line x1="181.30" y1="278.00" x2="183.70" y2="278.00" stroke="#66ee66" stroke-width="0.9"/>
<line x1="181.30" y1="328.80" x2="183.70" y2="328.80" stroke="#66ee66" stroke-width="0.9"/>
<line x1="184.60" y1="290.00" x2="184.60" y2="335.30" stroke="#66ee66" stroke-width="0.9"/>
<line x1="183.40" y1="290.00" x2="185.80" y2="290.00" stroke="#66ee66" stroke-width="0.9"/>
<line x1="183.40" y1="335.30" x2="185.80" y2="335.30" stroke="#66ee66" stroke-width="0.9"/>
<line x1="169.80" y1="340.00" x2="169.80" y2="350.00" stroke="#66ee66" stroke-width="0.9"/>
<line x1="168.60" y1="340.00" x2="171.00" y2="340.00" stroke="#66ee66" stroke-width="0.9"/>
<line x1="168.60" y1="350.00" x2="171.00" y2="350.00" stroke="#66ee66" stroke-width="0.9"/>
<line x1="168.00" y1="348.00" x2="168.00" y2="357.00" stroke="#66ee66" stroke-width="0.9"/>
<line x1="166.80" y1="348.00" x2="169.20" y2="348.00" stroke="#66ee66" stroke-width="0.9"/>
<line x1="166.80" y1="357.00" x2="169.20" y2="357.00" stroke="#66ee66" stroke-width="0.9"/>
<polygon points="162.80,308.80 168.40,308.80 165.60,304.00" fill="#2fe02f" stroke="#062" stroke-width="0.7"/>
<polygon points="169.00,318.70 174.60,318.70 171.80,313.90" fill="#2fe02f" stroke="#062" stroke-width="0.7"/>
<polygon points="171.60,309.50 177.20,309.50 174.40,304.70" fill="#2fe02f" stroke="#062" stroke-width="0.7"/>
<polygon points="173.60,312.10 179.20,312.10 176.40,307.30" fill="#2fe02f" stroke="#062" stroke-width="0.7"/>
<polygon points="175.50,315.00 181.10,315.00 178.30,310.20" fill="#2fe02f" stroke="#062" stroke-width="0.7"/>
<polygon points="177.80,312.10 183.40,312.10 180.60,307.30" fill="#2fe02f" stroke="#062" stroke-width="0.7"/>
<polygon points="179.70,305.50 185.30,305.50 182.50,300.70" fill="#2fe02f" stroke="#062" stroke-width="0.7"/>
<polygon points="181.80,322.90 187.40,322.90 184.60,318.10" fill="#2fe02f" stroke="#062" stroke-width="0.7"/>
<polygon points="167.00,347.60 172.60,347.60 169.80,342.80" fill="#2fe02f" stroke="#062" stroke-width="0.7"/>
<polygon points="165.20,354.80 170.80,354.80 168.00,350.00" fill="#2fe02f" stroke="#062" stroke-width="0.7"/>
<polygon points="184.20,302.40 187.80,302.40 186.00,299.20" fill="#22f022" stroke="#031" stroke-width="0.45"/>
<polygon points="186.11,301.24 189.71,301.24 187.91,298.04" fill="#22f022" stroke="#031" stroke-width="0.45"/>
<polygon points="188.02,301.78 191.62,301.78 189.82,298.58" fill="#22f022" stroke="#031" stroke-width="0.45"/>
<polygon points="189.93,303.23 193.53,303.23 191.73,300.03" fill="#22f022" stroke="#031" stroke-width="0.45"/>
<polygon points="191.84,303.46 195.44,303.46 193.64,300.26" fill="#22f022" stroke="#031" stroke-width="0.45"/>
<polygon points="193.75,302.14 197.35,302.14 195.55,298.94" fill="#22f022" stroke="#031" stroke-width="0.45"/>
<polygon points="195.65,301.20 199.25,301.20 197.45,298.00" fill="#22f022" stroke="#031" stroke-width="0.45"/>
<polygon points="197.56,302.02 201.16,302.02 199.36,298.82" fill="#22f022" stroke="#031" stroke-width="0.45"/>
<polygon points="199.47,303.39 203.07,303.39 201.27,300.19" fill="#22f022" stroke="#031" stroke-width="0.45"/>
<polygon points="201.38,303.31 204.98,303.31 203.18,300.11" fill="#22f022" stroke="#031" stroke-width="0.45"/>
<polygon points="203.29,301.90 206.89,301.90 205.09,298.70" fill="#22f022" stroke="#031" stroke-width="0.45"/>
<polygon points="205.20,301.22 208.80,301.22 207.00,298.02" fill="#22f022" stroke="#031" stroke-width="0.45"/>
<line x1="161.30" y1="310.40" x2="161.30" y2="395.00" stroke="#2a6ae8" stroke-width="1.0"/>
<line x1="160.00" y1="310.40" x2="162.60" y2="310.40" stroke="#2a6ae8" stroke-width="1.0"/>
<line x1="160.00" y1="395.00" x2="162.60" y2="395.00" stroke="#2a6ae8" stroke-width="1.0"/>
<polygon points="156.30,357.90 165.90,357.90 161.10,349.30" fill="#2a6ae8" stroke="#0a2a80" stroke-width="0.7"/>
<line x1="209.90" y1="292.20" x2="209.90" y2="314.40" stroke="#c4b27a" stroke-width="0.9"/>
<line x1="208.70" y1="292.20" x2="211.10" y2="292.20" stroke="#c4b27a" stroke-width="0.9"/>
<line x1="208.70" y1="314.40" x2="211.10" y2="314.40" stroke="#c4b27a" stroke-width="0.9"/>
<line x1="212.20" y1="290.40" x2="212.20" y2="308.50" stroke="#c4b27a" stroke-width="0.9"/>
<line x1="211.00" y1="290.40" x2="213.40" y2="290.40" stroke="#c4b27a" stroke-width="0.9"/>
<line x1="211.00" y1="308.50" x2="213.40" y2="308.50" stroke="#c4b27a" stroke-width="0.9"/>
<line x1="214.30" y1="303.00" x2="214.30" y2="321.30" stroke="#c4b27a" stroke-width="0.9"/>
<line x1="213.10" y1="303.00" x2="215.50" y2="303.00" stroke="#c4b27a" stroke-width="0.9"/>
<line x1="213.10" y1="321.30" x2="215.50" y2="321.30" stroke="#c4b27a" stroke-width="0.9"/>
<line x1="216.30" y1="293.40" x2="216.30" y2="318.00" stroke="#c4b27a" stroke-width="0.9"/>
<line x1="215.10" y1="293.40" x2="217.50" y2="293.40" stroke="#c4b27a" stroke-width="0.9"/>
<line x1="215.10" y1="318.00" x2="217.50" y2="318.00" stroke="#c4b27a" stroke-width="0.9"/>
<line x1="218.40" y1="293.40" x2="218.40" y2="312.00" stroke="#c4b27a" stroke-width="0.9"/>
<line x1="217.20" y1="293.40" x2="219.60" y2="293.40" stroke="#c4b27a" stroke-width="0.9"/>
<line x1="217.20" y1="312.00" x2="219.60" y2="312.00" stroke="#c4b27a" stroke-width="0.9"/>
<line x1="220.80" y1="291.60" x2="220.80" y2="316.00" stroke="#c4b27a" stroke-width="0.9"/>
<line x1="219.60" y1="291.60" x2="222.00" y2="291.60" stroke="#c4b27a" stroke-width="0.9"/>
<line x1="219.60" y1="316.00" x2="222.00" y2="316.00" stroke="#c4b27a" stroke-width="0.9"/>
<line x1="222.50" y1="318.10" x2="222.50" y2="342.60" stroke="#c4b27a" stroke-width="0.9"/>
<line x1="221.30" y1="318.10" x2="223.70" y2="318.10" stroke="#c4b27a" stroke-width="0.9"/>
<line x1="221.30" y1="342.60" x2="223.70" y2="342.60" stroke="#c4b27a" stroke-width="0.9"/>
<line x1="224.90" y1="324.50" x2="224.90" y2="346.50" stroke="#c4b27a" stroke-width="0.9"/>
<line x1="223.70" y1="324.50" x2="226.10" y2="324.50" stroke="#c4b27a" stroke-width="0.9"/>
<line x1="223.70" y1="346.50" x2="226.10" y2="346.50" stroke="#c4b27a" stroke-width="0.9"/>
<line x1="226.60" y1="288.50" x2="226.60" y2="305.00" stroke="#c4b27a" stroke-width="0.9"/>
<line x1="225.40" y1="288.50" x2="227.80" y2="288.50" stroke="#c4b27a" stroke-width="0.9"/>
<line x1="225.40" y1="305.00" x2="227.80" y2="305.00" stroke="#c4b27a" stroke-width="0.9"/>
<line x1="228.90" y1="291.60" x2="228.90" y2="308.00" stroke="#c4b27a" stroke-width="0.9"/>
<line x1="227.70" y1="291.60" x2="230.10" y2="291.60" stroke="#c4b27a" stroke-width="0.9"/>
<line x1="227.70" y1="308.00" x2="230.10" y2="308.00" stroke="#c4b27a" stroke-width="0.9"/>
<line x1="230.90" y1="296.00" x2="230.90" y2="311.00" stroke="#c4b27a" stroke-width="0.9"/>
<line x1="229.70" y1="296.00" x2="232.10" y2="296.00" stroke="#c4b27a" stroke-width="0.9"/>
<line x1="229.70" y1="311.00" x2="232.10" y2="311.00" stroke="#c4b27a" stroke-width="0.9"/>
<line x1="233.00" y1="294.50" x2="233.00" y2="318.00" stroke="#c4b27a" stroke-width="0.9"/>
<line x1="231.80" y1="294.50" x2="234.20" y2="294.50" stroke="#c4b27a" stroke-width="0.9"/>
<line x1="231.80" y1="318.00" x2="234.20" y2="318.00" stroke="#c4b27a" stroke-width="0.9"/>
<line x1="235.40" y1="298.00" x2="235.40" y2="316.00" stroke="#c4b27a" stroke-width="0.9"/>
<line x1="234.20" y1="298.00" x2="236.60" y2="298.00" stroke="#c4b27a" stroke-width="0.9"/>
<line x1="234.20" y1="316.00" x2="236.60" y2="316.00" stroke="#c4b27a" stroke-width="0.9"/>
<line x1="237.50" y1="292.40" x2="237.50" y2="306.00" stroke="#c4b27a" stroke-width="0.9"/>
<line x1="236.30" y1="292.40" x2="238.70" y2="292.40" stroke="#c4b27a" stroke-width="0.9"/>
<line x1="236.30" y1="306.00" x2="238.70" y2="306.00" stroke="#c4b27a" stroke-width="0.9"/>
<line x1="239.70" y1="300.00" x2="239.70" y2="316.00" stroke="#c4b27a" stroke-width="0.9"/>
<line x1="238.50" y1="300.00" x2="240.90" y2="300.00" stroke="#c4b27a" stroke-width="0.9"/>
<line x1="238.50" y1="316.00" x2="240.90" y2="316.00" stroke="#c4b27a" stroke-width="0.9"/>
<line x1="241.80" y1="288.50" x2="241.80" y2="306.00" stroke="#c4b27a" stroke-width="0.9"/>
<line x1="240.60" y1="288.50" x2="243.00" y2="288.50" stroke="#c4b27a" stroke-width="0.9"/>
<line x1="240.60" y1="306.00" x2="243.00" y2="306.00" stroke="#c4b27a" stroke-width="0.9"/>
<line x1="244.10" y1="296.00" x2="244.10" y2="312.00" stroke="#c4b27a" stroke-width="0.9"/>
<line x1="242.90" y1="296.00" x2="245.30" y2="296.00" stroke="#c4b27a" stroke-width="0.9"/>
<line x1="242.90" y1="312.00" x2="245.30" y2="312.00" stroke="#c4b27a" stroke-width="0.9"/>
<line x1="245.60" y1="279.30" x2="245.60" y2="309.00" stroke="#c4b27a" stroke-width="0.9"/>
<line x1="244.40" y1="279.30" x2="246.80" y2="279.30" stroke="#c4b27a" stroke-width="0.9"/>
<line x1="244.40" y1="309.00" x2="246.80" y2="309.00" stroke="#c4b27a" stroke-width="0.9"/>
<line x1="248.00" y1="278.50" x2="248.00" y2="313.00" stroke="#c4b27a" stroke-width="0.9"/>
<line x1="246.80" y1="278.50" x2="249.20" y2="278.50" stroke="#c4b27a" stroke-width="0.9"/>
<line x1="246.80" y1="313.00" x2="249.20" y2="313.00" stroke="#c4b27a" stroke-width="0.9"/>
<line x1="250.30" y1="290.00" x2="250.30" y2="306.00" stroke="#c4b27a" stroke-width="0.9"/>
<line x1="249.10" y1="290.00" x2="251.50" y2="290.00" stroke="#c4b27a" stroke-width="0.9"/>
<line x1="249.10" y1="306.00" x2="251.50" y2="306.00" stroke="#c4b27a" stroke-width="0.9"/>
<line x1="252.30" y1="282.30" x2="252.30" y2="300.00" stroke="#c4b27a" stroke-width="0.9"/>
<line x1="251.10" y1="282.30" x2="253.50" y2="282.30" stroke="#c4b27a" stroke-width="0.9"/>
<line x1="251.10" y1="300.00" x2="253.50" y2="300.00" stroke="#c4b27a" stroke-width="0.9"/>
<line x1="254.30" y1="311.30" x2="254.30" y2="333.30" stroke="#c4b27a" stroke-width="0.9"/>
<line x1="253.10" y1="311.30" x2="255.50" y2="311.30" stroke="#c4b27a" stroke-width="0.9"/>
<line x1="253.10" y1="333.30" x2="255.50" y2="333.30" stroke="#c4b27a" stroke-width="0.9"/>
<line x1="256.40" y1="324.50" x2="256.40" y2="347.60" stroke="#c4b27a" stroke-width="0.9"/>
<line x1="255.20" y1="324.50" x2="257.60" y2="324.50" stroke="#c4b27a" stroke-width="0.9"/>
<line x1="255.20" y1="347.60" x2="257.60" y2="347.60" stroke="#c4b27a" stroke-width="0.9"/>
<line x1="258.50" y1="292.20" x2="258.50" y2="306.00" stroke="#c4b27a" stroke-width="0.9"/>
<line x1="257.30" y1="292.20" x2="259.70" y2="292.20" stroke="#c4b27a" stroke-width="0.9"/>
<line x1="257.30" y1="306.00" x2="259.70" y2="306.00" stroke="#c4b27a" stroke-width="0.9"/>
<line x1="260.80" y1="291.00" x2="260.80" y2="310.00" stroke="#c4b27a" stroke-width="0.9"/>
<line x1="259.60" y1="291.00" x2="262.00" y2="291.00" stroke="#c4b27a" stroke-width="0.9"/>
<line x1="259.60" y1="310.00" x2="262.00" y2="310.00" stroke="#c4b27a" stroke-width="0.9"/>
<line x1="262.80" y1="294.00" x2="262.80" y2="304.00" stroke="#c4b27a" stroke-width="0.9"/>
<line x1="261.60" y1="294.00" x2="264.00" y2="294.00" stroke="#c4b27a" stroke-width="0.9"/>
<line x1="261.60" y1="304.00" x2="264.00" y2="304.00" stroke="#c4b27a" stroke-width="0.9"/>
<line x1="265.10" y1="296.00" x2="265.10" y2="304.00" stroke="#c4b27a" stroke-width="0.9"/>
<line x1="263.90" y1="296.00" x2="266.30" y2="296.00" stroke="#c4b27a" stroke-width="0.9"/>
<line x1="263.90" y1="304.00" x2="266.30" y2="304.00" stroke="#c4b27a" stroke-width="0.9"/>
<line x1="267.50" y1="297.00" x2="267.50" y2="304.00" stroke="#c4b27a" stroke-width="0.9"/>
<line x1="266.30" y1="297.00" x2="268.70" y2="297.00" stroke="#c4b27a" stroke-width="0.9"/>
<line x1="266.30" y1="304.00" x2="268.70" y2="304.00" stroke="#c4b27a" stroke-width="0.9"/>
<line x1="269.20" y1="297.00" x2="269.20" y2="305.00" stroke="#c4b27a" stroke-width="0.9"/>
<line x1="268.00" y1="297.00" x2="270.40" y2="297.00" stroke="#c4b27a" stroke-width="0.9"/>
<line x1="268.00" y1="305.00" x2="270.40" y2="305.00" stroke="#c4b27a" stroke-width="0.9"/>
<line x1="271.30" y1="297.00" x2="271.30" y2="304.00" stroke="#c4b27a" stroke-width="0.9"/>
<line x1="270.10" y1="297.00" x2="272.50" y2="297.00" stroke="#c4b27a" stroke-width="0.9"/>
<line x1="270.10" y1="304.00" x2="272.50" y2="304.00" stroke="#c4b27a" stroke-width="0.9"/>
<line x1="273.30" y1="296.00" x2="273.30" y2="303.00" stroke="#c4b27a" stroke-width="0.9"/>
<line x1="272.10" y1="296.00" x2="274.50" y2="296.00" stroke="#c4b27a" stroke-width="0.9"/>
<line x1="272.10" y1="303.00" x2="274.50" y2="303.00" stroke="#c4b27a" stroke-width="0.9"/>
<line x1="275.40" y1="296.00" x2="275.40" y2="303.00" stroke="#c4b27a" stroke-width="0.9"/>
<line x1="274.20" y1="296.00" x2="276.60" y2="296.00" stroke="#c4b27a" stroke-width="0.9"/>
<line x1="274.20" y1="303.00" x2="276.60" y2="303.00" stroke="#c4b27a" stroke-width="0.9"/>
<line x1="277.40" y1="298.00" x2="277.40" y2="308.00" stroke="#c4b27a" stroke-width="0.9"/>
<line x1="276.20" y1="298.00" x2="278.60" y2="298.00" stroke="#c4b27a" stroke-width="0.9"/>
<line x1="276.20" y1="308.00" x2="278.60" y2="308.00" stroke="#c4b27a" stroke-width="0.9"/>
<line x1="279.50" y1="292.20" x2="279.50" y2="301.00" stroke="#c4b27a" stroke-width="0.9"/>
<line x1="278.30" y1="292.20" x2="280.70" y2="292.20" stroke="#c4b27a" stroke-width="0.9"/>
<line x1="278.30" y1="301.00" x2="280.70" y2="301.00" stroke="#c4b27a" stroke-width="0.9"/>
<line x1="281.50" y1="299.00" x2="281.50" y2="308.00" stroke="#c4b27a" stroke-width="0.9"/>
<line x1="280.30" y1="299.00" x2="282.70" y2="299.00" stroke="#c4b27a" stroke-width="0.9"/>
<line x1="280.30" y1="308.00" x2="282.70" y2="308.00" stroke="#c4b27a" stroke-width="0.9"/>
<line x1="283.80" y1="296.00" x2="283.80" y2="305.00" stroke="#c4b27a" stroke-width="0.9"/>
<line x1="282.60" y1="296.00" x2="285.00" y2="296.00" stroke="#c4b27a" stroke-width="0.9"/>
<line x1="282.60" y1="305.00" x2="285.00" y2="305.00" stroke="#c4b27a" stroke-width="0.9"/>
<line x1="285.80" y1="305.00" x2="285.80" y2="316.00" stroke="#c4b27a" stroke-width="0.9"/>
<line x1="284.60" y1="305.00" x2="287.00" y2="305.00" stroke="#c4b27a" stroke-width="0.9"/>
<line x1="284.60" y1="316.00" x2="287.00" y2="316.00" stroke="#c4b27a" stroke-width="0.9"/>
<line x1="288.30" y1="294.00" x2="288.30" y2="305.00" stroke="#c4b27a" stroke-width="0.9"/>
<line x1="287.10" y1="294.00" x2="289.50" y2="294.00" stroke="#c4b27a" stroke-width="0.9"/>
<line x1="287.10" y1="305.00" x2="289.50" y2="305.00" stroke="#c4b27a" stroke-width="0.9"/>
<line x1="290.40" y1="285.00" x2="290.40" y2="298.00" stroke="#c4b27a" stroke-width="0.9"/>
<line x1="289.20" y1="285.00" x2="291.60" y2="285.00" stroke="#c4b27a" stroke-width="0.9"/>
<line x1="289.20" y1="298.00" x2="291.60" y2="298.00" stroke="#c4b27a" stroke-width="0.9"/>
<line x1="292.50" y1="290.00" x2="292.50" y2="301.00" stroke="#c4b27a" stroke-width="0.9"/>
<line x1="291.30" y1="290.00" x2="293.70" y2="290.00" stroke="#c4b27a" stroke-width="0.9"/>
<line x1="291.30" y1="301.00" x2="293.70" y2="301.00" stroke="#c4b27a" stroke-width="0.9"/>
<line x1="294.70" y1="298.00" x2="294.70" y2="309.00" stroke="#c4b27a" stroke-width="0.9"/>
<line x1="293.50" y1="298.00" x2="295.90" y2="298.00" stroke="#c4b27a" stroke-width="0.9"/>
<line x1="293.50" y1="309.00" x2="295.90" y2="309.00" stroke="#c4b27a" stroke-width="0.9"/>
<line x1="296.60" y1="291.00" x2="296.60" y2="305.00" stroke="#c4b27a" stroke-width="0.9"/>
<line x1="295.40" y1="291.00" x2="297.80" y2="291.00" stroke="#c4b27a" stroke-width="0.9"/>
<line x1="295.40" y1="305.00" x2="297.80" y2="305.00" stroke="#c4b27a" stroke-width="0.9"/>
<line x1="299.70" y1="298.00" x2="299.70" y2="303.00" stroke="#c4b27a" stroke-width="0.9"/>
<line x1="298.50" y1="298.00" x2="300.90" y2="298.00" stroke="#c4b27a" stroke-width="0.9"/>
<line x1="298.50" y1="303.00" x2="300.90" y2="303.00" stroke="#c4b27a" stroke-width="0.9"/>
<line x1="301.80" y1="298.00" x2="301.80" y2="302.50" stroke="#c4b27a" stroke-width="0.9"/>
<line x1="300.60" y1="298.00" x2="303.00" y2="298.00" stroke="#c4b27a" stroke-width="0.9"/>
<line x1="300.60" y1="302.50" x2="303.00" y2="302.50" stroke="#c4b27a" stroke-width="0.9"/>
<line x1="303.80" y1="298.00" x2="303.80" y2="303.00" stroke="#c4b27a" stroke-width="0.9"/>
<line x1="302.60" y1="298.00" x2="305.00" y2="298.00" stroke="#c4b27a" stroke-width="0.9"/>
<line x1="302.60" y1="303.00" x2="305.00" y2="303.00" stroke="#c4b27a" stroke-width="0.9"/>
<line x1="305.80" y1="298.00" x2="305.80" y2="302.50" stroke="#c4b27a" stroke-width="0.9"/>
<line x1="304.60" y1="298.00" x2="307.00" y2="298.00" stroke="#c4b27a" stroke-width="0.9"/>
<line x1="304.60" y1="302.50" x2="307.00" y2="302.50" stroke="#c4b27a" stroke-width="0.9"/>
<line x1="307.80" y1="298.00" x2="307.80" y2="303.00" stroke="#c4b27a" stroke-width="0.9"/>
<line x1="306.60" y1="298.00" x2="309.00" y2="298.00" stroke="#c4b27a" stroke-width="0.9"/>
<line x1="306.60" y1="303.00" x2="309.00" y2="303.00" stroke="#c4b27a" stroke-width="0.9"/>
<line x1="309.80" y1="298.00" x2="309.80" y2="303.00" stroke="#c4b27a" stroke-width="0.9"/>
<line x1="308.60" y1="298.00" x2="311.00" y2="298.00" stroke="#c4b27a" stroke-width="0.9"/>
<line x1="308.60" y1="303.00" x2="311.00" y2="303.00" stroke="#c4b27a" stroke-width="0.9"/>
<line x1="311.80" y1="298.00" x2="311.80" y2="302.50" stroke="#c4b27a" stroke-width="0.9"/>
<line x1="310.60" y1="298.00" x2="313.00" y2="298.00" stroke="#c4b27a" stroke-width="0.9"/>
<line x1="310.60" y1="302.50" x2="313.00" y2="302.50" stroke="#c4b27a" stroke-width="0.9"/>
<line x1="313.80" y1="298.00" x2="313.80" y2="303.00" stroke="#c4b27a" stroke-width="0.9"/>
<line x1="312.60" y1="298.00" x2="315.00" y2="298.00" stroke="#c4b27a" stroke-width="0.9"/>
<line x1="312.60" y1="303.00" x2="315.00" y2="303.00" stroke="#c4b27a" stroke-width="0.9"/>
<line x1="316.00" y1="298.00" x2="316.00" y2="302.50" stroke="#c4b27a" stroke-width="0.9"/>
<line x1="314.80" y1="298.00" x2="317.20" y2="298.00" stroke="#c4b27a" stroke-width="0.9"/>
<line x1="314.80" y1="302.50" x2="317.20" y2="302.50" stroke="#c4b27a" stroke-width="0.9"/>
<line x1="318.20" y1="298.00" x2="318.20" y2="302.00" stroke="#c4b27a" stroke-width="0.9"/>
<line x1="317.00" y1="298.00" x2="319.40" y2="298.00" stroke="#c4b27a" stroke-width="0.9"/>
<line x1="317.00" y1="302.00" x2="319.40" y2="302.00" stroke="#c4b27a" stroke-width="0.9"/>
<line x1="298.90" y1="349.80" x2="298.90" y2="357.70" stroke="#c4b27a" stroke-width="0.9"/>
<line x1="297.70" y1="349.80" x2="300.10" y2="349.80" stroke="#c4b27a" stroke-width="0.9"/>
<line x1="297.70" y1="357.70" x2="300.10" y2="357.70" stroke="#c4b27a" stroke-width="0.9"/>
<polygon points="209.90,301.55 212.85,304.50 209.90,307.45 206.95,304.50" fill="#74590f" stroke="#1e1502" stroke-width="0.7"/>
<polygon points="212.20,297.45 215.15,300.40 212.20,303.35 209.25,300.40" fill="#74590f" stroke="#1e1502" stroke-width="0.7"/>
<polygon points="214.30,308.55 217.25,311.50 214.30,314.45 211.35,311.50" fill="#74590f" stroke="#1e1502" stroke-width="0.7"/>
<polygon points="216.30,302.05 219.25,305.00 216.30,307.95 213.35,305.00" fill="#74590f" stroke="#1e1502" stroke-width="0.7"/>
<polygon points="218.40,300.95 221.35,303.90 218.40,306.85 215.45,303.90" fill="#74590f" stroke="#1e1502" stroke-width="0.7"/>
<polygon points="220.80,301.55 223.75,304.50 220.80,307.45 217.85,304.50" fill="#74590f" stroke="#1e1502" stroke-width="0.7"/>
<polygon points="222.50,327.45 225.45,330.40 222.50,333.35 219.55,330.40" fill="#74590f" stroke="#1e1502" stroke-width="0.7"/>
<polygon points="224.90,332.35 227.85,335.30 224.90,338.25 221.95,335.30" fill="#74590f" stroke="#1e1502" stroke-width="0.7"/>
<polygon points="226.60,293.35 229.55,296.30 226.60,299.25 223.65,296.30" fill="#74590f" stroke="#1e1502" stroke-width="0.7"/>
<polygon points="228.90,297.15 231.85,300.10 228.90,303.05 225.95,300.10" fill="#74590f" stroke="#1e1502" stroke-width="0.7"/>
<polygon points="230.90,300.35 233.85,303.30 230.90,306.25 227.95,303.30" fill="#74590f" stroke="#1e1502" stroke-width="0.7"/>
<polygon points="233.00,298.35 235.95,301.30 233.00,304.25 230.05,301.30" fill="#74590f" stroke="#1e1502" stroke-width="0.7"/>
<polygon points="235.40,303.05 238.35,306.00 235.40,308.95 232.45,306.00" fill="#74590f" stroke="#1e1502" stroke-width="0.7"/>
<polygon points="237.50,295.65 240.45,298.60 237.50,301.55 234.55,298.60" fill="#74590f" stroke="#1e1502" stroke-width="0.7"/>
<polygon points="239.70,303.45 242.65,306.40 239.70,309.35 236.75,306.40" fill="#74590f" stroke="#1e1502" stroke-width="0.7"/>
<polygon points="241.80,294.15 244.75,297.10 241.80,300.05 238.85,297.10" fill="#74590f" stroke="#1e1502" stroke-width="0.7"/>
<polygon points="244.10,301.85 247.05,304.80 244.10,307.75 241.15,304.80" fill="#74590f" stroke="#1e1502" stroke-width="0.7"/>
<polygon points="245.60,290.95 248.55,293.90 245.60,296.85 242.65,293.90" fill="#74590f" stroke="#1e1502" stroke-width="0.7"/>
<polygon points="248.00,292.15 250.95,295.10 248.00,298.05 245.05,295.10" fill="#74590f" stroke="#1e1502" stroke-width="0.7"/>
<polygon points="250.30,295.65 253.25,298.60 250.30,301.55 247.35,298.60" fill="#74590f" stroke="#1e1502" stroke-width="0.7"/>
<polygon points="252.30,289.45 255.25,292.40 252.30,295.35 249.35,292.40" fill="#74590f" stroke="#1e1502" stroke-width="0.7"/>
<polygon points="254.30,319.55 257.25,322.50 254.30,325.45 251.35,322.50" fill="#74590f" stroke="#1e1502" stroke-width="0.7"/>
<polygon points="256.40,333.05 259.35,336.00 256.40,338.95 253.45,336.00" fill="#74590f" stroke="#1e1502" stroke-width="0.7"/>
<polygon points="258.50,297.15 261.45,300.10 258.50,303.05 255.55,300.10" fill="#74590f" stroke="#1e1502" stroke-width="0.7"/>
<polygon points="260.80,300.95 263.75,303.90 260.80,306.85 257.85,303.90" fill="#74590f" stroke="#1e1502" stroke-width="0.7"/>
<polygon points="262.80,296.25 265.75,299.20 262.80,302.15 259.85,299.20" fill="#74590f" stroke="#1e1502" stroke-width="0.7"/>
<polygon points="265.10,296.85 268.05,299.80 265.10,302.75 262.15,299.80" fill="#74590f" stroke="#1e1502" stroke-width="0.7"/>
<polygon points="267.50,297.65 270.45,300.60 267.50,303.55 264.55,300.60" fill="#74590f" stroke="#1e1502" stroke-width="0.7"/>
<polygon points="269.20,298.55 272.15,301.50 269.20,304.45 266.25,301.50" fill="#74590f" stroke="#1e1502" stroke-width="0.7"/>
<polygon points="271.30,297.45 274.25,300.40 271.30,303.35 268.35,300.40" fill="#74590f" stroke="#1e1502" stroke-width="0.7"/>
<polygon points="273.30,296.85 276.25,299.80 273.30,302.75 270.35,299.80" fill="#74590f" stroke="#1e1502" stroke-width="0.7"/>
<polygon points="275.40,296.85 278.35,299.80 275.40,302.75 272.45,299.80" fill="#74590f" stroke="#1e1502" stroke-width="0.7"/>
<polygon points="277.40,300.35 280.35,303.30 277.40,306.25 274.45,303.30" fill="#74590f" stroke="#1e1502" stroke-width="0.7"/>
<polygon points="279.50,293.95 282.45,296.90 279.50,299.85 276.55,296.90" fill="#74590f" stroke="#1e1502" stroke-width="0.7"/>
<polygon points="281.50,300.95 284.45,303.90 281.50,306.85 278.55,303.90" fill="#74590f" stroke="#1e1502" stroke-width="0.7"/>
<polygon points="283.80,298.05 286.75,301.00 283.80,303.95 280.85,301.00" fill="#74590f" stroke="#1e1502" stroke-width="0.7"/>
<polygon points="285.80,307.35 288.75,310.30 285.80,313.25 282.85,310.30" fill="#74590f" stroke="#1e1502" stroke-width="0.7"/>
<polygon points="288.30,296.55 291.25,299.50 288.30,302.45 285.35,299.50" fill="#74590f" stroke="#1e1502" stroke-width="0.7"/>
<polygon points="290.40,289.05 293.35,292.00 290.40,294.95 287.45,292.00" fill="#74590f" stroke="#1e1502" stroke-width="0.7"/>
<polygon points="292.50,292.05 295.45,295.00 292.50,297.95 289.55,295.00" fill="#74590f" stroke="#1e1502" stroke-width="0.7"/>
<polygon points="294.70,300.75 297.65,303.70 294.70,306.65 291.75,303.70" fill="#74590f" stroke="#1e1502" stroke-width="0.7"/>
<polygon points="296.60,295.75 299.55,298.70 296.60,301.65 293.65,298.70" fill="#74590f" stroke="#1e1502" stroke-width="0.7"/>
<polygon points="299.70,297.35 302.65,300.30 299.70,303.25 296.75,300.30" fill="#74590f" stroke="#1e1502" stroke-width="0.7"/>
<polygon points="301.80,297.05 304.75,300.00 301.80,302.95 298.85,300.00" fill="#74590f" stroke="#1e1502" stroke-width="0.7"/>
<polygon points="303.80,297.45 306.75,300.40 303.80,303.35 300.85,300.40" fill="#74590f" stroke="#1e1502" stroke-width="0.7"/>
<polygon points="305.80,296.95 308.75,299.90 305.80,302.85 302.85,299.90" fill="#74590f" stroke="#1e1502" stroke-width="0.7"/>
<polygon points="307.80,297.35 310.75,300.30 307.80,303.25 304.85,300.30" fill="#74590f" stroke="#1e1502" stroke-width="0.7"/>
<polygon points="309.80,297.65 312.75,300.60 309.80,303.55 306.85,300.60" fill="#74590f" stroke="#1e1502" stroke-width="0.7"/>
<polygon points="311.80,297.25 314.75,300.20 311.80,303.15 308.85,300.20" fill="#74590f" stroke="#1e1502" stroke-width="0.7"/>
<polygon points="313.80,297.65 316.75,300.60 313.80,303.55 310.85,300.60" fill="#74590f" stroke="#1e1502" stroke-width="0.7"/>
<polygon points="316.00,297.25 318.95,300.20 316.00,303.15 313.05,300.20" fill="#74590f" stroke="#1e1502" stroke-width="0.7"/>
<polygon points="318.20,296.85 321.15,299.80 318.20,302.75 315.25,299.80" fill="#74590f" stroke="#1e1502" stroke-width="0.7"/>
<polygon points="298.90,350.05 301.85,353.00 298.90,355.95 295.95,353.00" fill="#74590f" stroke="#1e1502" stroke-width="0.7"/>
<polygon points="322.50,297.40 324.60,299.50 322.50,301.60 320.40,299.50" fill="#fff" stroke="#333" stroke-width="0.7"/>
<line x1="324.30" y1="306.30" x2="324.30" y2="313.70" stroke="#333" stroke-width="0.8"/>
<line x1="323.10" y1="306.30" x2="325.50" y2="306.30" stroke="#333" stroke-width="0.8"/>
<line x1="323.10" y1="313.70" x2="325.50" y2="313.70" stroke="#333" stroke-width="0.8"/>
<polygon points="324.30,308.10 326.20,310.00 324.30,311.90 322.40,310.00" fill="#fff" stroke="#333" stroke-width="0.7"/>
<line x1="38.90" y1="251.60" x2="38.90" y2="421.20" stroke="#888" stroke-width="1.0"/>
<line x1="38.90" y1="421.04" x2="42.10" y2="421.04" stroke="#888" stroke-width="0.8"/>
<line x1="38.90" y1="415.39" x2="40.90" y2="415.39" stroke="#888" stroke-width="0.8"/>
<line x1="38.90" y1="409.75" x2="40.90" y2="409.75" stroke="#888" stroke-width="0.8"/>
<line x1="38.90" y1="404.10" x2="40.90" y2="404.10" stroke="#888" stroke-width="0.8"/>
<line x1="38.90" y1="398.45" x2="40.90" y2="398.45" stroke="#888" stroke-width="0.8"/>
<line x1="38.90" y1="392.81" x2="42.10" y2="392.81" stroke="#888" stroke-width="0.8"/>
<line x1="38.90" y1="387.16" x2="40.90" y2="387.16" stroke="#888" stroke-width="0.8"/>
<line x1="38.90" y1="381.51" x2="40.90" y2="381.51" stroke="#888" stroke-width="0.8"/>
<line x1="38.90" y1="375.86" x2="40.90" y2="375.86" stroke="#888" stroke-width="0.8"/>
<line x1="38.90" y1="370.22" x2="40.90" y2="370.22" stroke="#888" stroke-width="0.8"/>
<line x1="38.90" y1="364.57" x2="42.10" y2="364.57" stroke="#888" stroke-width="0.8"/>
<line x1="38.90" y1="358.92" x2="40.90" y2="358.92" stroke="#888" stroke-width="0.8"/>
<line x1="38.90" y1="353.28" x2="40.90" y2="353.28" stroke="#888" stroke-width="0.8"/>
<line x1="38.90" y1="347.63" x2="40.90" y2="347.63" stroke="#888" stroke-width="0.8"/>
<line x1="38.90" y1="341.98" x2="40.90" y2="341.98" stroke="#888" stroke-width="0.8"/>
<line x1="38.90" y1="336.34" x2="42.10" y2="336.34" stroke="#888" stroke-width="0.8"/>
<line x1="38.90" y1="330.69" x2="40.90" y2="330.69" stroke="#888" stroke-width="0.8"/>
<line x1="38.90" y1="325.04" x2="40.90" y2="325.04" stroke="#888" stroke-width="0.8"/>
<line x1="38.90" y1="319.39" x2="40.90" y2="319.39" stroke="#888" stroke-width="0.8"/>
<line x1="38.90" y1="313.75" x2="40.90" y2="313.75" stroke="#888" stroke-width="0.8"/>
<line x1="38.90" y1="308.10" x2="42.10" y2="308.10" stroke="#888" stroke-width="0.8"/>
<line x1="38.90" y1="302.45" x2="40.90" y2="302.45" stroke="#888" stroke-width="0.8"/>
<line x1="38.90" y1="296.81" x2="40.90" y2="296.81" stroke="#888" stroke-width="0.8"/>
<line x1="38.90" y1="291.16" x2="40.90" y2="291.16" stroke="#888" stroke-width="0.8"/>
<line x1="38.90" y1="285.51" x2="40.90" y2="285.51" stroke="#888" stroke-width="0.8"/>
<line x1="38.90" y1="279.87" x2="42.10" y2="279.87" stroke="#888" stroke-width="0.8"/>
<line x1="38.90" y1="274.22" x2="40.90" y2="274.22" stroke="#888" stroke-width="0.8"/>
<line x1="38.90" y1="268.57" x2="40.90" y2="268.57" stroke="#888" stroke-width="0.8"/>
<line x1="38.90" y1="262.92" x2="40.90" y2="262.92" stroke="#888" stroke-width="0.8"/>
<line x1="38.90" y1="257.28" x2="40.90" y2="257.28" stroke="#888" stroke-width="0.8"/>
<line x1="38.90" y1="251.63" x2="42.10" y2="251.63" stroke="#888" stroke-width="0.8"/>
<text x="35.50" y="424.04" font-size="10.6" font-weight="bold" text-anchor="end" fill="#000" stroke="#000" stroke-width="0.265">180</text>
<text x="35.50" y="395.81" font-size="10.6" font-weight="bold" text-anchor="end" fill="#000" stroke="#000" stroke-width="0.265">185</text>
<text x="35.50" y="367.57" font-size="10.6" font-weight="bold" text-anchor="end" fill="#000" stroke="#000" stroke-width="0.265">190</text>
<text x="35.50" y="339.34" font-size="10.6" font-weight="bold" text-anchor="end" fill="#000" stroke="#000" stroke-width="0.265">195</text>
<text x="35.50" y="311.10" font-size="10.6" font-weight="bold" text-anchor="end" fill="#000" stroke="#000" stroke-width="0.265">200</text>
<text x="35.50" y="282.87" font-size="10.6" font-weight="bold" text-anchor="end" fill="#000" stroke="#000" stroke-width="0.265">205</text>
<text x="35.50" y="254.63" font-size="10.6" font-weight="bold" text-anchor="end" fill="#000" stroke="#000" stroke-width="0.265">210</text>
<text x="10.30" y="330.00" font-size="11" font-weight="bold" text-anchor="middle" fill="#000" transform="rotate(-90 10.3 330)" stroke="#000" stroke-width="0.275">Date (Ma)</text>
<text x="44.70" y="261.90" font-size="9" font-weight="normal" text-anchor="start" fill="#000" font-style="italic">c)</text>
<text x="86.70" y="262.20" font-size="7.75" font-weight="bold" text-anchor="start" fill="#000" textLength="183.4" lengthAdjust="spacingAndGlyphs" stroke="#000" stroke-width="0.194">Mean U-Pb CAMP age  = 201.43 ± 0.15  Ma (n = 33)</text>
<text x="263.10" y="332.00" font-size="7.6" font-weight="bold" text-anchor="start" fill="#000" stroke="#000" stroke-width="0.190">192.5 ± 0.5</text>
<line x1="278.20" y1="333.20" x2="278.20" y2="347.30" stroke="#aaa" stroke-width="1.3"/>
<polygon points="278.20,350.40 276.10,345.40 278.20,347.30 280.30,345.40" fill="#111" stroke="#111" stroke-width="0.3" stroke-linejoin="round"/>
<rect x="39.10" y="335.40" width="102.30" height="92.30" fill="#fff" stroke="#333" stroke-width="0.9"/>
<polygon points="50.00,345.20 55.60,345.20 52.80,340.40" fill="#45d8ea" stroke="#0a2a30" stroke-width="0.8"/>
<text x="64.50" y="345.20" font-size="6.6" font-weight="bold" text-anchor="start" fill="#000" stroke="#000" stroke-width="0.165">Africa_Morocco (n=33)</text>
<polygon points="52.80,351.10 55.70,354.00 52.80,356.90 49.90,354.00" fill="#9424cc" stroke="#2a0838" stroke-width="0.7"/>
<text x="64.50" y="356.40" font-size="6.6" font-weight="bold" text-anchor="start" fill="#000" stroke="#000" stroke-width="0.165">Africa_Mali (n=10)</text>
<rect x="50.85" y="363.25" width="3.90" height="3.90" fill="#dd0000" stroke="#300" stroke-width="0.6"/>
<text x="64.50" y="367.60" font-size="6.6" font-weight="bold" text-anchor="start" fill="#000" stroke="#000" stroke-width="0.165">Africa_Guinea (n=7)</text>
<polygon points="50.10,374.20 55.50,374.20 52.80,378.60" fill="#000" stroke="#000" stroke-width="0.5"/>
<text x="64.50" y="378.80" font-size="6.6" font-weight="bold" text-anchor="start" fill="#000" stroke="#000" stroke-width="0.165">Africa_Mauritania (n=1)</text>
<polygon points="48.00,391.60 57.60,391.60 52.80,383.00" fill="#2a6ae8" stroke="#0a2a80" stroke-width="0.7"/>
<text x="64.50" y="390.00" font-size="6.6" font-weight="bold" text-anchor="start" fill="#000" stroke="#000" stroke-width="0.165">Africa_Cam (Kendem)</text>
<polygon points="50.30,400.95 55.30,400.95 52.80,396.65" fill="#2fe02f" stroke="#062" stroke-width="0.7"/>
<text x="64.50" y="401.20" font-size="6.6" font-weight="bold" text-anchor="start" fill="#000" stroke="#000" stroke-width="0.165">S_America (n=20)</text>
<polygon points="52.80,407.20 55.60,410.00 52.80,412.80 50.00,410.00" fill="#74590f" stroke="#2a1e04" stroke-width="0.6"/>
<text x="64.50" y="412.40" font-size="6.6" font-weight="bold" text-anchor="start" fill="#000" stroke="#000" stroke-width="0.165">N_America (n=52)</text>
<polygon points="52.80,419.60 54.40,421.20 52.80,422.80 51.20,421.20" fill="#fff" stroke="#333" stroke-width="0.6"/>
<text x="64.50" y="423.60" font-size="6.6" font-weight="bold" text-anchor="start" fill="#000" stroke="#000" stroke-width="0.165">Europe (n=2)</text>
<rect x="192.60" y="363.80" width="100.60" height="63.40" fill="#fff" stroke="#000" stroke-width="0.8"/>
<line x1="192.60" y1="427.20" x2="194.60" y2="427.20" stroke="#000" stroke-width="0.5"/>
<line x1="293.20" y1="427.20" x2="291.20" y2="427.20" stroke="#000" stroke-width="0.5"/>
<line x1="192.60" y1="424.66" x2="193.80" y2="424.66" stroke="#000" stroke-width="0.5"/>
<line x1="293.20" y1="424.66" x2="292.00" y2="424.66" stroke="#000" stroke-width="0.5"/>
<line x1="192.60" y1="422.13" x2="193.80" y2="422.13" stroke="#000" stroke-width="0.5"/>
<line x1="293.20" y1="422.13" x2="292.00" y2="422.13" stroke="#000" stroke-width="0.5"/>
<line x1="192.60" y1="419.59" x2="193.80" y2="419.59" stroke="#000" stroke-width="0.5"/>
<line x1="293.20" y1="419.59" x2="292.00" y2="419.59" stroke="#000" stroke-width="0.5"/>
<line x1="192.60" y1="417.06" x2="193.80" y2="417.06" stroke="#000" stroke-width="0.5"/>
<line x1="293.20" y1="417.06" x2="292.00" y2="417.06" stroke="#000" stroke-width="0.5"/>
<line x1="192.60" y1="414.52" x2="194.60" y2="414.52" stroke="#000" stroke-width="0.5"/>
<line x1="293.20" y1="414.52" x2="291.20" y2="414.52" stroke="#000" stroke-width="0.5"/>
<line x1="192.60" y1="411.98" x2="193.80" y2="411.98" stroke="#000" stroke-width="0.5"/>
<line x1="293.20" y1="411.98" x2="292.00" y2="411.98" stroke="#000" stroke-width="0.5"/>
<line x1="192.60" y1="409.45" x2="193.80" y2="409.45" stroke="#000" stroke-width="0.5"/>
<line x1="293.20" y1="409.45" x2="292.00" y2="409.45" stroke="#000" stroke-width="0.5"/>
<line x1="192.60" y1="406.91" x2="193.80" y2="406.91" stroke="#000" stroke-width="0.5"/>
<line x1="293.20" y1="406.91" x2="292.00" y2="406.91" stroke="#000" stroke-width="0.5"/>
<line x1="192.60" y1="404.38" x2="193.80" y2="404.38" stroke="#000" stroke-width="0.5"/>
<line x1="293.20" y1="404.38" x2="292.00" y2="404.38" stroke="#000" stroke-width="0.5"/>
<line x1="192.60" y1="401.84" x2="194.60" y2="401.84" stroke="#000" stroke-width="0.5"/>
<line x1="293.20" y1="401.84" x2="291.20" y2="401.84" stroke="#000" stroke-width="0.5"/>
<line x1="192.60" y1="399.30" x2="193.80" y2="399.30" stroke="#000" stroke-width="0.5"/>
<line x1="293.20" y1="399.30" x2="292.00" y2="399.30" stroke="#000" stroke-width="0.5"/>
<line x1="192.60" y1="396.77" x2="193.80" y2="396.77" stroke="#000" stroke-width="0.5"/>
<line x1="293.20" y1="396.77" x2="292.00" y2="396.77" stroke="#000" stroke-width="0.5"/>
<line x1="192.60" y1="394.23" x2="193.80" y2="394.23" stroke="#000" stroke-width="0.5"/>
<line x1="293.20" y1="394.23" x2="292.00" y2="394.23" stroke="#000" stroke-width="0.5"/>
<line x1="192.60" y1="391.70" x2="193.80" y2="391.70" stroke="#000" stroke-width="0.5"/>
<line x1="293.20" y1="391.70" x2="292.00" y2="391.70" stroke="#000" stroke-width="0.5"/>
<line x1="192.60" y1="389.16" x2="194.60" y2="389.16" stroke="#000" stroke-width="0.5"/>
<line x1="293.20" y1="389.16" x2="291.20" y2="389.16" stroke="#000" stroke-width="0.5"/>
<line x1="192.60" y1="386.62" x2="193.80" y2="386.62" stroke="#000" stroke-width="0.5"/>
<line x1="293.20" y1="386.62" x2="292.00" y2="386.62" stroke="#000" stroke-width="0.5"/>
<line x1="192.60" y1="384.09" x2="193.80" y2="384.09" stroke="#000" stroke-width="0.5"/>
<line x1="293.20" y1="384.09" x2="292.00" y2="384.09" stroke="#000" stroke-width="0.5"/>
<line x1="192.60" y1="381.55" x2="193.80" y2="381.55" stroke="#000" stroke-width="0.5"/>
<line x1="293.20" y1="381.55" x2="292.00" y2="381.55" stroke="#000" stroke-width="0.5"/>
<line x1="192.60" y1="379.02" x2="193.80" y2="379.02" stroke="#000" stroke-width="0.5"/>
<line x1="293.20" y1="379.02" x2="292.00" y2="379.02" stroke="#000" stroke-width="0.5"/>
<line x1="192.60" y1="376.48" x2="194.60" y2="376.48" stroke="#000" stroke-width="0.5"/>
<line x1="293.20" y1="376.48" x2="291.20" y2="376.48" stroke="#000" stroke-width="0.5"/>
<line x1="192.60" y1="373.94" x2="193.80" y2="373.94" stroke="#000" stroke-width="0.5"/>
<line x1="293.20" y1="373.94" x2="292.00" y2="373.94" stroke="#000" stroke-width="0.5"/>
<line x1="192.60" y1="371.41" x2="193.80" y2="371.41" stroke="#000" stroke-width="0.5"/>
<line x1="293.20" y1="371.41" x2="292.00" y2="371.41" stroke="#000" stroke-width="0.5"/>
<line x1="192.60" y1="368.87" x2="193.80" y2="368.87" stroke="#000" stroke-width="0.5"/>
<line x1="293.20" y1="368.87" x2="292.00" y2="368.87" stroke="#000" stroke-width="0.5"/>
<line x1="192.60" y1="366.34" x2="193.80" y2="366.34" stroke="#000" stroke-width="0.5"/>
<line x1="293.20" y1="366.34" x2="292.00" y2="366.34" stroke="#000" stroke-width="0.5"/>
<line x1="192.60" y1="363.80" x2="194.60" y2="363.80" stroke="#000" stroke-width="0.5"/>
<line x1="293.20" y1="363.80" x2="291.20" y2="363.80" stroke="#000" stroke-width="0.5"/>
<line x1="193.42" y1="427.20" x2="193.42" y2="426.00" stroke="#000" stroke-width="0.5"/>
<line x1="193.42" y1="363.80" x2="193.42" y2="365.00" stroke="#000" stroke-width="0.5"/>
<line x1="198.26" y1="427.20" x2="198.26" y2="426.00" stroke="#000" stroke-width="0.5"/>
<line x1="198.26" y1="363.80" x2="198.26" y2="365.00" stroke="#000" stroke-width="0.5"/>
<line x1="203.10" y1="427.20" x2="203.10" y2="425.20" stroke="#000" stroke-width="0.5"/>
<line x1="203.10" y1="363.80" x2="203.10" y2="365.80" stroke="#000" stroke-width="0.5"/>
<line x1="207.94" y1="427.20" x2="207.94" y2="426.00" stroke="#000" stroke-width="0.5"/>
<line x1="207.94" y1="363.80" x2="207.94" y2="365.00" stroke="#000" stroke-width="0.5"/>
<line x1="212.78" y1="427.20" x2="212.78" y2="426.00" stroke="#000" stroke-width="0.5"/>
<line x1="212.78" y1="363.80" x2="212.78" y2="365.00" stroke="#000" stroke-width="0.5"/>
<line x1="217.62" y1="427.20" x2="217.62" y2="426.00" stroke="#000" stroke-width="0.5"/>
<line x1="217.62" y1="363.80" x2="217.62" y2="365.00" stroke="#000" stroke-width="0.5"/>
<line x1="222.46" y1="427.20" x2="222.46" y2="426.00" stroke="#000" stroke-width="0.5"/>
<line x1="222.46" y1="363.80" x2="222.46" y2="365.00" stroke="#000" stroke-width="0.5"/>
<line x1="227.30" y1="427.20" x2="227.30" y2="425.20" stroke="#000" stroke-width="0.5"/>
<line x1="227.30" y1="363.80" x2="227.30" y2="365.80" stroke="#000" stroke-width="0.5"/>
<line x1="232.14" y1="427.20" x2="232.14" y2="426.00" stroke="#000" stroke-width="0.5"/>
<line x1="232.14" y1="363.80" x2="232.14" y2="365.00" stroke="#000" stroke-width="0.5"/>
<line x1="236.98" y1="427.20" x2="236.98" y2="426.00" stroke="#000" stroke-width="0.5"/>
<line x1="236.98" y1="363.80" x2="236.98" y2="365.00" stroke="#000" stroke-width="0.5"/>
<line x1="241.82" y1="427.20" x2="241.82" y2="426.00" stroke="#000" stroke-width="0.5"/>
<line x1="241.82" y1="363.80" x2="241.82" y2="365.00" stroke="#000" stroke-width="0.5"/>
<line x1="246.66" y1="427.20" x2="246.66" y2="426.00" stroke="#000" stroke-width="0.5"/>
<line x1="246.66" y1="363.80" x2="246.66" y2="365.00" stroke="#000" stroke-width="0.5"/>
<line x1="251.50" y1="427.20" x2="251.50" y2="425.20" stroke="#000" stroke-width="0.5"/>
<line x1="251.50" y1="363.80" x2="251.50" y2="365.80" stroke="#000" stroke-width="0.5"/>
<line x1="256.34" y1="427.20" x2="256.34" y2="426.00" stroke="#000" stroke-width="0.5"/>
<line x1="256.34" y1="363.80" x2="256.34" y2="365.00" stroke="#000" stroke-width="0.5"/>
<line x1="261.18" y1="427.20" x2="261.18" y2="426.00" stroke="#000" stroke-width="0.5"/>
<line x1="261.18" y1="363.80" x2="261.18" y2="365.00" stroke="#000" stroke-width="0.5"/>
<line x1="266.02" y1="427.20" x2="266.02" y2="426.00" stroke="#000" stroke-width="0.5"/>
<line x1="266.02" y1="363.80" x2="266.02" y2="365.00" stroke="#000" stroke-width="0.5"/>
<line x1="270.86" y1="427.20" x2="270.86" y2="426.00" stroke="#000" stroke-width="0.5"/>
<line x1="270.86" y1="363.80" x2="270.86" y2="365.00" stroke="#000" stroke-width="0.5"/>
<line x1="275.70" y1="427.20" x2="275.70" y2="425.20" stroke="#000" stroke-width="0.5"/>
<line x1="275.70" y1="363.80" x2="275.70" y2="365.80" stroke="#000" stroke-width="0.5"/>
<line x1="280.54" y1="427.20" x2="280.54" y2="426.00" stroke="#000" stroke-width="0.5"/>
<line x1="280.54" y1="363.80" x2="280.54" y2="365.00" stroke="#000" stroke-width="0.5"/>
<line x1="285.38" y1="427.20" x2="285.38" y2="426.00" stroke="#000" stroke-width="0.5"/>
<line x1="285.38" y1="363.80" x2="285.38" y2="365.00" stroke="#000" stroke-width="0.5"/>
<line x1="290.22" y1="427.20" x2="290.22" y2="426.00" stroke="#000" stroke-width="0.5"/>
<line x1="290.22" y1="363.80" x2="290.22" y2="365.00" stroke="#000" stroke-width="0.5"/>
<text x="190.00" y="428.80" font-size="4.3" font-weight="bold" text-anchor="end" fill="#000" stroke="#000" stroke-width="0.22">0.0</text>
<text x="190.00" y="416.12" font-size="4.3" font-weight="bold" text-anchor="end" fill="#000" stroke="#000" stroke-width="0.22">0.050</text>
<text x="190.00" y="403.44" font-size="4.3" font-weight="bold" text-anchor="end" fill="#000" stroke="#000" stroke-width="0.22">0.10</text>
<text x="190.00" y="390.76" font-size="4.3" font-weight="bold" text-anchor="end" fill="#000" stroke="#000" stroke-width="0.22">0.15</text>
<text x="190.00" y="378.08" font-size="4.3" font-weight="bold" text-anchor="end" fill="#000" stroke="#000" stroke-width="0.22">0.20</text>
<text x="190.00" y="365.40" font-size="4.3" font-weight="bold" text-anchor="end" fill="#000" stroke="#000" stroke-width="0.22">0.25</text>
<text x="203.10" y="432.00" font-size="4.3" font-weight="bold" text-anchor="middle" fill="#000" stroke="#000" stroke-width="0.22">190</text>
<text x="227.30" y="432.00" font-size="4.3" font-weight="bold" text-anchor="middle" fill="#000" stroke="#000" stroke-width="0.22">195</text>
<text x="251.50" y="432.00" font-size="4.3" font-weight="bold" text-anchor="middle" fill="#000" stroke="#000" stroke-width="0.22">200</text>
<text x="275.70" y="432.00" font-size="4.3" font-weight="bold" text-anchor="middle" fill="#000" stroke="#000" stroke-width="0.22">205</text>
<text x="243.50" y="438.20" font-size="4.9" font-weight="bold" text-anchor="middle" fill="#000" stroke="#000" stroke-width="0.15">Date (Ma)</text>
<text x="177.70" y="399.40" font-size="4.9" font-weight="bold" text-anchor="middle" fill="#000" textLength="58" lengthAdjust="spacingAndGlyphs" transform="rotate(-90 177.7 399.4)" stroke="#000" stroke-width="0.15">Gaussian kernel density</text>
<text x="201.2" y="372.8" font-size="4.2" font-weight="bold" stroke="#000" stroke-width="0.2"><tspan font-size="2.8" dy="-1.4">40</tspan><tspan font-style="italic" dy="1.4">Ar</tspan>/<tspan font-size="2.8" dy="-1.4">39</tspan><tspan font-style="italic" dy="1.4">Ar</tspan> dates for</text>
<text x="201.20" y="378.60" font-size="4.2" font-weight="bold" text-anchor="start" fill="#000" stroke="#000" stroke-width="0.22">global CAMP (n = 93)</text>
<path d="M202.62,427.20 L202.82,427.20 L203.02,427.19 L203.22,427.17 L203.43,427.15 L203.63,427.12 L203.83,427.09 L204.03,427.06 L204.24,427.02 L204.44,426.97 L204.64,426.93 L204.84,426.88 L205.05,426.82 L205.25,426.77 L205.45,426.71 L205.65,426.65 L205.86,426.56 L206.06,426.45 L206.26,426.32 L206.46,426.18 L206.67,426.03 L206.87,425.87 L207.07,425.71 L207.28,425.55 L207.48,425.38 L207.68,425.19 L207.88,424.98 L208.09,424.77 L208.29,424.55 L208.49,424.33 L208.69,424.11 L208.90,423.88 L209.10,423.66 L209.30,423.45 L209.50,423.24 L209.71,423.04 L209.91,422.86 L210.11,422.67 L210.31,422.47 L210.52,422.26 L210.72,422.05 L210.92,421.84 L211.12,421.63 L211.33,421.43 L211.53,421.24 L211.73,421.07 L211.93,420.92 L212.14,420.79 L212.34,420.70 L212.54,420.63 L212.74,420.61 L212.95,420.61 L213.15,420.64 L213.35,420.68 L213.56,420.74 L213.76,420.80 L213.96,420.89 L214.16,420.98 L214.37,421.08 L214.57,421.18 L214.77,421.29 L214.97,421.41 L215.18,421.53 L215.38,421.64 L215.58,421.76 L215.78,421.87 L215.99,421.97 L216.19,422.07 L216.39,422.16 L216.59,422.26 L216.80,422.36 L217.00,422.46 L217.20,422.58 L217.40,422.69 L217.61,422.81 L217.81,422.93 L218.01,423.05 L218.21,423.17 L218.42,423.29 L218.62,423.42 L218.82,423.54 L219.02,423.66 L219.23,423.78 L219.43,423.90 L219.63,424.01 L219.83,424.12 L220.04,424.23 L220.24,424.33 L220.44,424.42 L220.65,424.51 L220.85,424.59 L221.05,424.67 L221.25,424.73 L221.46,424.79 L221.66,424.84 L221.86,424.87 L222.06,424.90 L222.27,424.91 L222.47,424.92 L222.67,424.91 L222.87,424.89 L223.08,424.87 L223.28,424.84 L223.48,424.79 L223.68,424.75 L223.89,424.69 L224.09,424.63 L224.29,424.57 L224.49,424.50 L224.70,424.42 L224.90,424.34 L225.10,424.26 L225.30,424.18 L225.51,424.09 L225.71,424.00 L225.91,423.91 L226.11,423.82 L226.32,423.73 L226.52,423.64 L226.72,423.55 L226.93,423.46 L227.13,423.37 L227.33,423.28 L227.53,423.20 L227.74,423.12 L227.94,423.05 L228.14,422.97 L228.34,422.89 L228.55,422.81 L228.75,422.73 L228.95,422.65 L229.15,422.57 L229.36,422.49 L229.56,422.40 L229.76,422.32 L229.96,422.24 L230.17,422.15 L230.37,422.07 L230.57,421.98 L230.77,421.90 L230.98,421.81 L231.18,421.72 L231.38,421.63 L231.58,421.54 L231.79,421.45 L231.99,421.36 L232.19,421.27 L232.39,421.17 L232.60,421.08 L232.80,420.98 L233.00,420.88 L233.21,420.79 L233.41,420.69 L233.61,420.59 L233.81,420.48 L234.02,420.38 L234.22,420.28 L234.42,420.17 L234.62,420.06 L234.83,419.95 L235.03,419.84 L235.23,419.73 L235.43,419.62 L235.64,419.50 L235.84,419.39 L236.04,419.27 L236.24,419.15 L236.45,419.04 L236.65,418.92 L236.85,418.79 L237.05,418.67 L237.26,418.54 L237.46,418.41 L237.66,418.28 L237.86,418.15 L238.07,418.01 L238.27,417.87 L238.47,417.73 L238.67,417.58 L238.88,417.43 L239.08,417.28 L239.28,417.12 L239.48,416.96 L239.69,416.79 L239.89,416.62 L240.09,416.45 L240.30,416.27 L240.50,416.08 L240.70,415.89 L240.90,415.69 L241.11,415.48 L241.31,415.27 L241.51,415.04 L241.71,414.81 L241.92,414.56 L242.12,414.31 L242.32,414.05 L242.52,413.78 L242.73,413.50 L242.93,413.22 L243.13,412.92 L243.33,412.62 L243.54,412.30 L243.74,411.98 L243.94,411.66 L244.14,411.32 L244.35,410.98 L244.55,410.62 L244.75,410.26 L244.95,409.90 L245.16,409.52 L245.36,409.14 L245.56,408.75 L245.76,408.36 L245.97,407.96 L246.17,407.54 L246.37,407.10 L246.58,406.64 L246.78,406.16 L246.98,405.66 L247.18,405.13 L247.39,404.59 L247.59,404.02 L247.79,403.43 L247.99,402.83 L248.20,402.20 L248.40,401.55 L248.60,400.88 L248.80,400.19 L249.01,399.42 L249.21,398.59 L249.41,397.72 L249.61,396.81 L249.82,395.88 L250.02,394.95 L250.22,394.03 L250.42,393.12 L250.63,392.18 L250.83,391.22 L251.03,390.25 L251.23,389.27 L251.44,388.28 L251.64,387.31 L251.84,386.34 L252.04,385.40 L252.25,384.49 L252.45,383.61 L252.65,382.76 L252.85,381.90 L253.06,381.04 L253.26,380.18 L253.46,379.33 L253.67,378.49 L253.87,377.68 L254.07,376.90 L254.27,376.16 L254.48,375.46 L254.68,374.81 L254.88,374.22 L255.08,373.69 L255.29,373.18 L255.49,372.67 L255.69,372.16 L255.89,371.66 L256.10,371.17 L256.30,370.70 L256.50,370.26 L256.70,369.86 L256.91,369.50 L257.11,369.19 L257.31,368.94 L257.51,368.76 L257.72,368.65 L257.92,368.62 L258.12,368.65 L258.32,368.74 L258.53,368.88 L258.73,369.06 L258.93,369.28 L259.13,369.54 L259.34,369.84 L259.54,370.16 L259.74,370.52 L259.95,370.89 L260.15,371.29 L260.35,371.70 L260.55,372.12 L260.76,372.56 L260.96,373.00 L261.16,373.44 L261.36,373.88 L261.57,374.39 L261.77,374.96 L261.97,375.58 L262.17,376.26 L262.38,376.98 L262.58,377.75 L262.78,378.55 L262.98,379.39 L263.19,380.24 L263.39,381.12 L263.59,382.01 L263.79,382.90 L264.00,383.81 L264.20,384.76 L264.40,385.77 L264.60,386.83 L264.81,387.92 L265.01,389.05 L265.21,390.20 L265.41,391.38 L265.62,392.56 L265.82,393.76 L266.02,394.95 L266.23,396.15 L266.43,397.44 L266.63,398.79 L266.83,400.20 L267.04,401.62 L267.24,403.03 L267.44,404.40 L267.64,405.72 L267.85,406.94 L268.05,408.05 L268.25,409.01 L268.45,409.85 L268.66,410.67 L268.86,411.47 L269.06,412.25 L269.26,413.01 L269.47,413.74 L269.67,414.44 L269.87,415.11 L270.07,415.75 L270.28,416.36 L270.48,416.93 L270.68,417.46 L270.88,417.96 L271.09,418.40 L271.29,418.81 L271.49,419.17 L271.69,419.48 L271.90,419.74 L272.10,419.99 L272.30,420.22 L272.50,420.44 L272.71,420.64 L272.91,420.83 L273.11,421.01 L273.32,421.18 L273.52,421.35 L273.72,421.50 L273.92,421.65 L274.13,421.79 L274.33,421.93 L274.53,422.06 L274.73,422.19 L274.94,422.32 L275.14,422.45 L275.34,422.58 L275.54,422.71 L275.75,422.84 L275.95,422.98 L276.15,423.12 L276.35,423.26 L276.56,423.41 L276.76,423.56 L276.96,423.71 L277.16,423.86 L277.37,424.01 L277.57,424.16 L277.77,424.31 L277.97,424.46 L278.18,424.61 L278.38,424.76 L278.58,424.90 L278.78,425.05 L278.99,425.19 L279.19,425.33 L279.39,425.47 L279.60,425.61 L279.80,425.74 L280.00,425.86 L280.20,425.99 L280.41,426.11 L280.61,426.22 L280.81,426.33 L281.01,426.44 L281.22,426.54 L281.42,426.63 L281.62,426.71 L281.82,426.79 L282.03,426.87 L282.23,426.93 L282.43,426.99 L282.63,427.04 L282.84,427.09 L283.04,427.13 L283.24,427.17 L283.44,427.20" stroke="#000" stroke-width="1.0" fill="none" stroke-dasharray="8,1.8"/>
<line x1="257.89" y1="368.36" x2="267.60" y2="368.36" stroke="#000" stroke-width="0.5"/>
<text x="267.80" y="369.86" font-size="4.1" font-weight="bold" text-anchor="start" fill="#000" stroke="#000" stroke-width="0.22">201.16</text>
<path d="M414.15,422.29 L414.28,422.29 L414.42,422.29 L414.55,422.28 L414.69,422.28 L414.82,422.27 L414.96,422.26 L415.09,422.26 L415.22,422.25 L415.36,422.24 L415.49,422.24 L415.63,422.23 L415.76,422.22 L415.89,422.21 L416.03,422.20 L416.16,422.19 L416.30,422.18 L416.43,422.16 L416.56,422.15 L416.70,422.14 L416.83,422.13 L416.97,422.11 L417.10,422.10 L417.23,422.08 L417.37,422.07 L417.50,422.05 L417.63,422.04 L417.77,422.02 L417.90,422.01 L418.03,421.99 L418.17,421.97 L418.30,421.95 L418.43,421.94 L418.57,421.92 L418.70,421.90 L418.83,421.88 L418.97,421.86 L419.10,421.84 L419.23,421.82 L419.37,421.80 L419.50,421.78 L419.63,421.76 L419.76,421.74 L419.90,421.72 L420.03,421.70 L420.16,421.68 L420.29,421.65 L420.43,421.63 L420.56,421.61 L420.69,421.59 L420.82,421.56 L420.96,421.54 L421.09,421.52 L421.22,421.49 L421.35,421.47 L421.49,421.44 L421.62,421.42 L421.75,421.39 L421.88,421.37 L422.01,421.34 L422.15,421.32 L422.28,421.29 L422.41,421.27 L422.54,421.24 L422.67,421.22 L422.81,421.19 L422.94,421.17 L423.07,421.14 L423.20,421.11 L423.33,421.09 L423.46,421.06 L423.60,421.03 L423.73,421.01 L423.86,420.98 L423.99,420.95 L424.12,420.93 L424.26,420.90 L424.39,420.87 L424.52,420.85 L424.65,420.82 L424.78,420.79 L424.91,420.77 L425.05,420.74 L425.18,420.71 L425.31,420.68 L425.44,420.65 L425.57,420.62 L425.70,420.58 L425.83,420.55 L425.96,420.51" stroke="#33ee33" stroke-width="1.2" fill="none"/>
<path d="M427.17,420.05 L427.31,419.99 L427.44,419.93 L427.58,419.86 L427.71,419.80 L427.85,419.73 L427.98,419.67 L428.11,419.60 L428.25,419.53 L428.38,419.46 L428.51,419.39 L428.64,419.32 L428.77,419.25 L428.90,419.17 L429.03,419.10 L429.16,419.03 L429.29,418.95 L429.42,418.88 L429.55,418.80 L429.67,418.72 L429.80,418.65 L429.93,418.57 L430.06,418.49 L430.19,418.42 L430.31,418.34 L430.44,418.26 L430.57,418.18 L430.69,418.11 L430.82,418.03 L430.95,417.95 L431.08,417.87 L431.20,417.80 L431.33,417.72 L431.46,417.64 L431.58,417.56 L431.71,417.48 L431.84,417.41 L431.97,417.33 L432.09,417.25 L432.22,417.18 L432.35,417.10 L432.48,417.03 L432.61,416.95 L432.74,416.88 L432.87,416.80 L433.00,416.73 L433.13,416.65 L433.26,416.58 L433.39,416.51 L433.52,416.44 L433.65,416.37 L433.78,416.30 L433.91,416.23 L434.05,416.17 L434.18,416.10 L434.31,416.03 L434.45,415.97 L434.59,415.91 L434.72,415.85 L434.86,415.79 L434.99,415.73 L435.13,415.67 L435.27,415.62 L435.41,415.56 L435.55,415.51 L435.69,415.46 L435.83,415.41 L435.97,415.37 L436.12,415.33 L436.26,415.28 L436.40,415.25 L436.55,415.21 L436.69,415.18 L436.84,415.15 L436.99,415.12 L437.13,415.09 L437.28,415.07 L437.43,415.05 L437.58,415.04 L437.73,415.03 L437.87,415.02 L438.02,415.02 L438.17,415.02 L438.32,415.04 L438.46,415.08 L438.60,415.14 L438.73,415.21 L438.86,415.29 L438.98,415.37" stroke="#33ee33" stroke-width="1.2" fill="none"/>
<path d="M440.00,416.18 L440.11,416.27 L440.22,416.35 L440.34,416.42 L440.46,416.49 L440.58,416.55 L440.71,416.60 L440.84,416.65 L440.97,416.70 L441.10,416.74 L441.23,416.79 L441.36,416.83 L441.50,416.87 L441.63,416.91 L441.76,416.95 L441.89,417.00 L442.02,417.04 L442.16,417.08 L442.29,417.11 L442.42,417.15 L442.56,417.19 L442.69,417.23 L442.82,417.26 L442.96,417.30 L443.09,417.34 L443.22,417.37 L443.36,417.40 L443.49,417.44 L443.63,417.47 L443.76,417.50 L443.90,417.54 L444.03,417.57 L444.16,417.60 L444.30,417.63 L444.43,417.66 L444.57,417.69 L444.70,417.72 L444.84,417.75 L444.98,417.78 L445.11,417.81 L445.25,417.84 L445.38,417.86 L445.52,417.89 L445.65,417.92 L445.79,417.95 L445.92,417.97 L446.06,418.00 L446.20,418.02 L446.33,418.05 L446.47,418.08 L446.60,418.10 L446.74,418.13 L446.88,418.15 L447.01,418.18 L447.15,418.20 L447.29,418.22 L447.42,418.25 L447.56,418.27 L447.69,418.30 L447.83,418.32 L447.97,418.34 L448.10,418.37 L448.24,418.39 L448.38,418.41 L448.51,418.44 L448.65,418.46 L448.79,418.48 L448.92,418.51 L449.06,418.53 L449.19,418.55 L449.33,418.58 L449.47,418.60 L449.60,418.62 L449.74,418.65 L449.88,418.67 L450.01,418.69 L450.15,418.72 L450.29,418.74 L450.42,418.77 L450.56,418.79 L450.69,418.82 L450.83,418.84 L450.97,418.86 L451.10,418.89 L451.24,418.92 L451.37,418.94 L451.51,418.97 L451.65,418.99 L451.78,419.02" stroke="#33ee33" stroke-width="1.2" fill="none"/>
<path d="M453.05,419.28 L453.19,419.31 L453.32,419.34 L453.45,419.37 L453.58,419.41 L453.71,419.44 L453.84,419.47 L453.98,419.50 L454.11,419.53 L454.24,419.56 L454.37,419.60 L454.50,419.63 L454.63,419.66 L454.76,419.69 L454.90,419.73 L455.03,419.76 L455.16,419.79 L455.29,419.83 L455.42,419.86 L455.55,419.89 L455.68,419.93 L455.81,419.96 L455.94,420.00 L456.07,420.03 L456.20,420.07 L456.34,420.10 L456.47,420.13 L456.60,420.17 L456.73,420.20 L456.86,420.24 L456.99,420.27 L457.12,420.30 L457.25,420.34 L457.38,420.37 L457.51,420.41 L457.64,420.44 L457.78,420.47 L457.91,420.51 L458.04,420.54 L458.17,420.57 L458.30,420.60 L458.43,420.64 L458.56,420.67 L458.69,420.70 L458.83,420.73 L458.96,420.77 L459.09,420.80 L459.22,420.83 L459.35,420.86 L459.48,420.89 L459.62,420.92 L459.75,420.95 L459.88,420.98 L460.01,421.01 L460.14,421.04 L460.28,421.06 L460.41,421.09 L460.54,421.12 L460.67,421.15 L460.81,421.17 L460.94,421.20 L461.07,421.22 L461.20,421.25 L461.34,421.27 L461.47,421.30 L461.60,421.32 L461.74,421.34 L461.87,421.37 L462.00,421.39 L462.14,421.41 L462.27,421.43 L462.40,421.45 L462.54,421.47 L462.67,421.48 L462.81,421.50 L462.94,421.52 L463.08,421.53 L463.21,421.55 L463.34,421.56 L463.48,421.58 L463.61,421.59 L463.75,421.60 L463.88,421.61 L464.02,421.62 L464.15,421.63 L464.29,421.64 L464.42,421.64 L464.56,421.65 L464.69,421.66" stroke="#33ee33" stroke-width="1.2" fill="none"/>
<path d="M465.99,421.67 L466.13,421.66 L466.26,421.66 L466.39,421.66 L466.52,421.66 L466.65,421.66 L466.79,421.66 L466.92,421.66 L467.05,421.66 L467.18,421.66 L467.32,421.66 L467.45,421.65 L467.58,421.65 L467.71,421.65 L467.84,421.65 L467.98,421.65 L468.11,421.65 L468.24,421.64 L468.37,421.64 L468.51,421.64 L468.64,421.64 L468.77,421.63 L468.90,421.63 L469.03,421.63 L469.17,421.63 L469.30,421.62 L469.43,421.62 L469.56,421.62 L469.70,421.62 L469.83,421.61 L469.96,421.61 L470.09,421.61 L470.22,421.60 L470.36,421.60 L470.49,421.60 L470.62,421.59 L470.75,421.59 L470.89,421.59 L471.02,421.58 L471.15,421.58 L471.28,421.58 L471.41,421.57 L471.55,421.57 L471.68,421.56 L471.81,421.56 L471.94,421.55 L472.07,421.55 L472.21,421.55 L472.34,421.54 L472.47,421.54 L472.60,421.53 L472.74,421.53 L472.87,421.52 L473.00,421.52 L473.13,421.51 L473.26,421.51 L473.40,421.50 L473.53,421.50 L473.66,421.49 L473.79,421.49 L473.92,421.48 L474.06,421.48 L474.19,421.47 L474.32,421.47 L474.45,421.46 L474.59,421.46 L474.72,421.45 L474.85,421.45 L474.98,421.44 L475.11,421.44 L475.25,421.43 L475.38,421.42 L475.51,421.42 L475.64,421.41 L475.77,421.41 L475.91,421.40 L476.04,421.39 L476.17,421.39 L476.30,421.38 L476.43,421.38 L476.57,421.37 L476.70,421.36 L476.83,421.36 L476.96,421.35 L477.10,421.34 L477.23,421.33 L477.36,421.32 L477.49,421.31 L477.62,421.30" stroke="#33ee33" stroke-width="1.2" fill="none"/>
<path d="M478.91,421.11 L479.05,421.08 L479.19,421.05 L479.34,421.02 L479.48,420.99 L479.62,420.95 L479.76,420.92 L479.90,420.88 L480.05,420.85 L480.19,420.81 L480.33,420.77 L480.47,420.73 L480.61,420.69 L480.75,420.64 L480.89,420.60 L481.03,420.56 L481.16,420.51 L481.30,420.47 L481.44,420.42 L481.58,420.37 L481.72,420.32 L481.85,420.27 L481.99,420.22 L482.13,420.17 L482.26,420.12 L482.40,420.07 L482.54,420.01 L482.67,419.96 L482.81,419.90 L482.94,419.85 L483.08,419.79 L483.21,419.74 L483.35,419.68 L483.48,419.62 L483.61,419.56 L483.75,419.50 L483.88,419.44 L484.01,419.38 L484.15,419.32 L484.28,419.26 L484.41,419.20 L484.54,419.14 L484.68,419.08 L484.81,419.01 L484.94,418.95 L485.07,418.89 L485.20,418.82 L485.33,418.76 L485.47,418.69 L485.60,418.63 L485.73,418.56 L485.86,418.50 L485.99,418.43 L486.12,418.37 L486.25,418.30 L486.38,418.23 L486.51,418.17 L486.64,418.10 L486.77,418.03 L486.90,417.97 L487.03,417.90 L487.16,417.83 L487.28,417.76 L487.41,417.69 L487.54,417.63 L487.67,417.56 L487.80,417.49 L487.93,417.42 L488.06,417.35 L488.19,417.28 L488.32,417.21 L488.44,417.15 L488.57,417.08 L488.70,417.01 L488.83,416.94 L488.96,416.87 L489.09,416.80 L489.22,416.73 L489.34,416.66 L489.47,416.59 L489.60,416.52 L489.73,416.46 L489.86,416.39 L489.99,416.32 L490.12,416.25 L490.25,416.18 L490.38,416.11 L490.50,416.04 L490.63,415.97 L490.76,415.91" stroke="#33ee33" stroke-width="1.2" fill="none"/>
<path d="M491.92,415.31 L492.06,415.24 L492.20,415.16 L492.34,415.09 L492.48,415.02 L492.62,414.95 L492.77,414.88 L492.91,414.81 L493.05,414.74 L493.19,414.66 L493.33,414.59 L493.47,414.52 L493.61,414.44 L493.75,414.37 L493.89,414.29 L494.03,414.22 L494.17,414.14 L494.30,414.06 L494.44,413.98 L494.58,413.91 L494.72,413.83 L494.86,413.75 L494.99,413.67 L495.13,413.59 L495.27,413.51 L495.40,413.43 L495.54,413.35 L495.68,413.27 L495.81,413.19 L495.95,413.11 L496.08,413.03 L496.22,412.94 L496.36,412.86 L496.49,412.78 L496.63,412.70 L496.76,412.61 L496.89,412.53 L497.03,412.45 L497.16,412.36 L497.30,412.28 L497.43,412.19 L497.56,412.11 L497.70,412.02 L497.83,411.94 L497.96,411.85 L498.10,411.76 L498.23,411.68 L498.36,411.59 L498.50,411.51 L498.63,411.42 L498.76,411.33 L498.89,411.24 L499.03,411.16 L499.16,411.07 L499.29,410.98 L499.42,410.89 L499.55,410.81 L499.68,410.72 L499.82,410.63 L499.95,410.54 L500.08,410.45 L500.21,410.36 L500.34,410.27 L500.47,410.18 L500.60,410.10 L500.73,410.01 L500.86,409.92 L501.00,409.83 L501.13,409.74 L501.26,409.65 L501.39,409.56 L501.52,409.47 L501.65,409.38 L501.78,409.29 L501.91,409.20 L502.04,409.11 L502.17,409.02 L502.30,408.93 L502.43,408.84 L502.56,408.75 L502.69,408.66 L502.82,408.57 L502.95,408.47 L503.08,408.38 L503.21,408.29 L503.34,408.20 L503.47,408.11 L503.60,408.02 L503.73,407.93" stroke="#33ee33" stroke-width="1.2" fill="none"/>
<path d="M504.80,407.19 L504.93,407.10 L505.06,407.01 L505.19,406.92 L505.32,406.83 L505.45,406.74 L505.58,406.65 L505.71,406.56 L505.84,406.47 L505.97,406.38 L506.10,406.29 L506.23,406.20 L506.36,406.11 L506.49,406.02 L506.62,405.93 L506.75,405.84 L506.88,405.75 L507.02,405.66 L507.15,405.57 L507.28,405.48 L507.41,405.39 L507.54,405.30 L507.67,405.21 L507.80,405.13 L507.94,405.04 L508.07,404.95 L508.20,404.86 L508.33,404.77 L508.46,404.69 L508.60,404.60 L508.73,404.51 L508.86,404.43 L508.99,404.34 L509.13,404.25 L509.26,404.17 L509.39,404.08 L509.53,403.99 L509.66,403.91 L509.79,403.82 L509.93,403.74 L510.06,403.65 L510.20,403.57 L510.33,403.48 L510.46,403.40 L510.60,403.32 L510.73,403.23 L510.87,403.15 L511.00,403.07 L511.14,402.98 L511.28,402.90 L511.41,402.82 L511.55,402.74 L511.68,402.66 L511.82,402.58 L511.96,402.50 L512.09,402.42 L512.23,402.33 L512.37,402.25 L512.50,402.18 L512.64,402.10 L512.78,402.02 L512.92,401.94 L513.05,401.86 L513.19,401.78 L513.33,401.70 L513.47,401.62 L513.60,401.54 L513.74,401.46 L513.88,401.39 L514.02,401.31 L514.15,401.23 L514.29,401.15 L514.43,401.07 L514.57,400.99 L514.71,400.91 L514.84,400.84 L514.98,400.76 L515.12,400.68 L515.26,400.60 L515.39,400.52 L515.53,400.44 L515.67,400.36 L515.81,400.28 L515.94,400.20 L516.08,400.12 L516.22,400.04 L516.35,399.96 L516.49,399.88 L516.63,399.80" stroke="#33ee33" stroke-width="1.2" fill="none"/>
<path d="M517.74,399.13 L517.89,399.04 L518.03,398.95 L518.18,398.86 L518.33,398.77 L518.47,398.68 L518.62,398.58 L518.76,398.49 L518.90,398.40 L519.05,398.30 L519.19,398.21 L519.34,398.11 L519.48,398.02 L519.62,397.92 L519.76,397.82 L519.91,397.73 L520.05,397.63 L520.19,397.53 L520.33,397.43 L520.47,397.33 L520.61,397.23 L520.75,397.13 L520.89,397.03 L521.03,396.93 L521.17,396.83 L521.31,396.73 L521.44,396.62 L521.58,396.52 L521.72,396.42 L521.86,396.32 L522.00,396.21 L522.13,396.11 L522.27,396.00 L522.41,395.90 L522.54,395.80 L522.68,395.69 L522.82,395.59 L522.95,395.48 L523.09,395.37 L523.22,395.27 L523.36,395.16 L523.49,395.05 L523.63,394.95 L523.76,394.84 L523.90,394.73 L524.03,394.62 L524.16,394.52 L524.30,394.41 L524.43,394.30 L524.56,394.19 L524.70,394.08 L524.83,393.97 L524.96,393.86 L525.10,393.75 L525.23,393.64 L525.36,393.53 L525.49,393.42 L525.62,393.31 L525.76,393.20 L525.89,393.09 L526.02,392.98 L526.15,392.87 L526.28,392.75 L526.41,392.64 L526.54,392.53 L526.67,392.42 L526.80,392.30 L526.93,392.19 L527.06,392.08 L527.19,391.97 L527.32,391.85 L527.45,391.74 L527.58,391.63 L527.71,391.51 L527.84,391.40 L527.97,391.28 L528.10,391.17 L528.22,391.06 L528.35,390.94 L528.48,390.83 L528.61,390.71 L528.74,390.60 L528.86,390.48 L528.99,390.37 L529.12,390.25 L529.25,390.14 L529.38,390.02 L529.50,389.91 L529.63,389.79" stroke="#33ee33" stroke-width="1.2" fill="none"/>
<path d="M530.59,388.91 L530.73,388.78 L530.88,388.64 L531.03,388.51 L531.17,388.38 L531.32,388.24 L531.46,388.11 L531.61,387.98 L531.75,387.84 L531.90,387.71 L532.05,387.58 L532.19,387.44 L532.34,387.31 L532.48,387.18 L532.63,387.04 L532.77,386.91 L532.92,386.78 L533.06,386.64 L533.21,386.51 L533.35,386.38 L533.50,386.24 L533.64,386.11 L533.79,385.97 L533.93,385.84 L534.08,385.70 L534.22,385.57 L534.37,385.43 L534.51,385.30 L534.65,385.16 L534.80,385.03 L534.94,384.89 L535.08,384.76 L535.23,384.62 L535.37,384.48 L535.51,384.35 L535.66,384.21 L535.80,384.07 L535.94,383.93 L536.08,383.80 L536.22,383.66 L536.36,383.52 L536.50,383.38 L536.64,383.24 L536.78,383.10 L536.92,382.96 L537.06,382.82 L537.20,382.68 L537.34,382.54 L537.48,382.40 L537.61,382.26 L537.75,382.12 L537.89,381.97 L538.02,381.83 L538.16,381.69 L538.30,381.55 L538.43,381.40 L538.57,381.26 L538.70,381.11 L538.84,380.97 L538.97,380.82 L539.10,380.68 L539.24,380.53 L539.37,380.38 L539.50,380.24 L539.63,380.09 L539.76,379.94 L539.89,379.79 L540.02,379.65 L540.15,379.50 L540.28,379.35 L540.41,379.20 L540.54,379.05 L540.67,378.90 L540.79,378.75 L540.92,378.59 L541.05,378.44 L541.17,378.29 L541.30,378.14 L541.42,377.99 L541.55,377.83 L541.67,377.68 L541.79,377.52 L541.92,377.37 L542.04,377.21 L542.16,377.06 L542.28,376.90 L542.40,376.75 L542.52,376.59 L542.64,376.43" stroke="#33ee33" stroke-width="1.2" fill="none"/>
<path d="M543.42,375.39 L543.59,375.15 L543.76,374.91 L543.92,374.67 L544.08,374.42 L544.24,374.18 L544.40,373.93 L544.56,373.68 L544.71,373.43 L544.86,373.18 L545.01,372.93 L545.16,372.67 L545.30,372.42 L545.45,372.16 L545.59,371.91 L545.73,371.65 L545.88,371.39 L546.02,371.14 L546.16,370.88 L546.30,370.62 L546.43,370.36 L546.57,370.10 L546.71,369.84 L546.84,369.58 L546.98,369.32 L547.12,369.06 L547.25,368.80 L547.38,368.54 L547.52,368.28 L547.65,368.02 L547.79,367.76 L547.92,367.50 L548.05,367.24 L548.19,366.98 L548.32,366.72 L548.46,366.45 L548.59,366.19 L548.72,365.93 L548.86,365.67 L548.99,365.41 L549.13,365.15 L549.26,364.89 L549.40,364.63 L549.52,364.36 L549.65,364.10 L549.77,363.83 L549.89,363.57 L550.01,363.30 L550.13,363.03 L550.24,362.76 L550.36,362.49 L550.47,362.22 L550.58,361.94 L550.69,361.67 L550.80,361.40 L550.91,361.13 L551.01,360.86 L551.12,360.58 L551.23,360.31 L551.34,360.04 L551.45,359.76 L551.55,359.49 L551.66,359.22 L551.77,358.95 L551.88,358.67 L551.99,358.40 L552.10,358.13 L552.21,357.86 L552.32,357.59 L552.43,357.32 L552.55,357.05 L552.67,356.78 L552.78,356.51 L552.90,356.24 L553.03,355.97 L553.15,355.71 L553.28,355.45 L553.41,355.18 L553.55,354.92 L553.69,354.67 L553.84,354.41 L553.99,354.16 L554.15,353.92 L554.32,353.68 L554.50,353.45 L554.70,353.24 L554.92,353.04 L555.16,352.87 L555.41,352.71" stroke="#33ee33" stroke-width="1.2" fill="none"/>
<path d="M556.52,352.04 L556.67,351.96 L556.82,351.88 L556.98,351.80 L557.13,351.73 L557.29,351.65 L557.44,351.58 L557.60,351.52 L557.76,351.45 L557.92,351.39 L558.08,351.34 L558.25,351.28 L558.41,351.24 L558.58,351.19 L558.75,351.15 L558.91,351.12 L559.08,351.10 L559.25,351.07 L559.43,351.06 L559.60,351.05 L559.77,351.05 L559.94,351.06 L560.11,351.07 L560.28,351.10 L560.45,351.13 L560.62,351.17 L560.78,351.21 L560.95,351.27 L561.11,351.32 L561.27,351.39 L561.43,351.46 L561.58,351.53 L561.74,351.60 L561.89,351.68 L562.04,351.77 L562.18,351.86 L562.33,351.95 L562.47,352.04 L562.62,352.13 L562.76,352.23 L562.90,352.33 L563.04,352.43 L563.17,352.54 L563.31,352.64 L563.44,352.75 L563.58,352.86 L563.71,352.97 L563.84,353.08 L563.97,353.19 L564.10,353.30 L564.23,353.42 L564.36,353.53 L564.48,353.65 L564.61,353.76 L564.74,353.88 L564.86,354.00 L564.98,354.12 L565.11,354.23 L565.23,354.35 L565.36,354.47 L565.48,354.59 L565.60,354.71 L565.72,354.83 L565.85,354.95 L565.97,355.08 L566.09,355.20 L566.21,355.32 L566.33,355.44 L566.46,355.56 L566.58,355.68 L566.70,355.80 L566.82,355.92 L566.94,356.05 L567.05,356.17 L567.17,356.30 L567.28,356.43 L567.39,356.56 L567.50,356.70 L567.61,356.83 L567.71,356.97 L567.81,357.10 L567.92,357.24 L568.02,357.38 L568.12,357.52 L568.21,357.66 L568.31,357.80 L568.41,357.95 L568.50,358.09 L568.60,358.23 L568.69,358.38" stroke="#33ee33" stroke-width="1.2" fill="none"/>
<path d="M569.36,359.49 L569.57,359.86 L569.77,360.23 L569.97,360.60 L570.17,360.97 L570.36,361.35 L570.55,361.73 L570.74,362.10 L570.93,362.48 L571.11,362.86 L571.29,363.24 L571.47,363.63 L571.65,364.01 L571.83,364.39 L572.00,364.78 L572.18,365.16 L572.35,365.55 L572.52,365.94 L572.69,366.32 L572.85,366.71 L573.01,367.10 L573.16,367.50 L573.30,367.89 L573.44,368.29 L573.58,368.69 L573.72,369.09 L573.85,369.49 L573.98,369.90 L574.10,370.30 L574.23,370.70 L574.35,371.11 L574.47,371.51 L574.59,371.92 L574.71,372.32 L574.83,372.73 L574.94,373.13 L575.06,373.54 L575.17,373.95 L575.29,374.35 L575.40,374.76 L575.51,375.17 L575.63,375.57 L575.74,375.98 L575.85,376.39 L575.96,376.79 L576.07,377.20 L576.19,377.61 L576.30,378.02 L576.41,378.42 L576.52,378.83 L576.64,379.24 L576.75,379.64 L576.86,380.05 L576.98,380.46 L577.10,380.86 L577.21,381.27 L577.33,381.67 L577.45,382.08 L577.57,382.48 L577.69,382.89 L577.82,383.29 L577.95,383.69 L578.08,384.10 L578.21,384.50 L578.34,384.90 L578.48,385.30 L578.61,385.70 L578.75,386.10 L578.88,386.50 L579.02,386.90 L579.16,387.30 L579.29,387.70 L579.43,388.10 L579.56,388.50 L579.70,388.90 L579.84,389.30 L579.97,389.69 L580.11,390.09 L580.25,390.49 L580.39,390.89 L580.53,391.29 L580.67,391.69 L580.82,392.08 L580.96,392.48 L581.11,392.88 L581.26,393.27 L581.41,393.67 L581.56,394.06 L581.71,394.45" stroke="#33ee33" stroke-width="1.2" fill="none"/>
<path d="M582.20,395.66 L582.29,395.87 L582.38,396.07 L582.47,396.28 L582.57,396.49 L582.66,396.69 L582.76,396.90 L582.85,397.11 L582.95,397.31 L583.05,397.51 L583.16,397.72 L583.26,397.92 L583.36,398.12 L583.47,398.32 L583.57,398.52 L583.68,398.72 L583.78,398.92 L583.89,399.12 L583.99,399.33 L584.10,399.53 L584.20,399.73 L584.31,399.93 L584.42,400.13 L584.53,400.32 L584.63,400.52 L584.74,400.72 L584.85,400.92 L584.96,401.12 L585.07,401.32 L585.18,401.52 L585.30,401.71 L585.41,401.91 L585.52,402.11 L585.64,402.30 L585.75,402.50 L585.87,402.69 L585.98,402.89 L586.10,403.08 L586.22,403.27 L586.34,403.47 L586.46,403.66 L586.58,403.85 L586.70,404.04 L586.82,404.23 L586.95,404.42 L587.07,404.61 L587.20,404.80 L587.33,404.99 L587.46,405.17 L587.59,405.36 L587.72,405.54 L587.86,405.72 L588.00,405.90 L588.13,406.08 L588.27,406.26 L588.42,406.44 L588.56,406.61 L588.71,406.79 L588.86,406.96 L589.01,407.13 L589.16,407.29 L589.32,407.46 L589.48,407.62 L589.64,407.77 L589.81,407.93 L589.98,408.08 L590.15,408.22 L590.33,408.36 L590.51,408.50 L590.69,408.64 L590.87,408.78 L591.05,408.92 L591.23,409.05 L591.42,409.18 L591.60,409.31 L591.79,409.44 L591.97,409.57 L592.16,409.70 L592.35,409.82 L592.54,409.95 L592.73,410.07 L592.93,410.19 L593.12,410.30 L593.32,410.42 L593.51,410.54 L593.71,410.65 L593.91,410.76 L594.10,410.87 L594.30,410.98" stroke="#33ee33" stroke-width="1.2" fill="none"/>
<path d="M595.46,411.57 L595.59,411.63 L595.71,411.70 L595.84,411.76 L595.97,411.82 L596.10,411.88 L596.23,411.94 L596.35,412.00 L596.48,412.05 L596.61,412.11 L596.74,412.17 L596.87,412.23 L597.00,412.28 L597.13,412.34 L597.26,412.40 L597.39,412.45 L597.52,412.51 L597.65,412.56 L597.78,412.62 L597.91,412.67 L598.04,412.72 L598.17,412.78 L598.30,412.83 L598.44,412.89 L598.57,412.94 L598.70,412.99 L598.83,413.04 L598.96,413.10 L599.09,413.15 L599.22,413.20 L599.36,413.25 L599.49,413.30 L599.62,413.36 L599.75,413.41 L599.88,413.46 L600.01,413.51 L600.15,413.56 L600.28,413.61 L600.41,413.66 L600.54,413.71 L600.68,413.76 L600.81,413.81 L600.94,413.85 L601.08,413.90 L601.21,413.95 L601.34,413.99 L601.48,414.04 L601.61,414.08 L601.75,414.13 L601.88,414.17 L602.02,414.22 L602.15,414.26 L602.28,414.30 L602.42,414.35 L602.55,414.39 L602.69,414.43 L602.82,414.47 L602.96,414.51 L603.10,414.55 L603.23,414.59 L603.37,414.63 L603.50,414.67 L603.64,414.71 L603.77,414.75 L603.91,414.79 L604.05,414.83 L604.18,414.87 L604.32,414.91 L604.45,414.95 L604.59,414.99 L604.73,415.03 L604.86,415.06 L605.00,415.10 L605.14,415.14 L605.27,415.18 L605.41,415.22 L605.54,415.25 L605.68,415.29 L605.82,415.33 L605.95,415.37 L606.09,415.41 L606.23,415.45 L606.36,415.48 L606.50,415.52 L606.63,415.56 L606.77,415.60 L606.91,415.64 L607.04,415.68 L607.18,415.72" stroke="#33ee33" stroke-width="1.2" fill="none"/>
<path d="M608.42,416.09 L608.56,416.13 L608.69,416.17 L608.83,416.21 L608.96,416.26 L609.10,416.30 L609.23,416.34 L609.36,416.39 L609.50,416.43 L609.63,416.48 L609.76,416.52 L609.90,416.57 L610.03,416.61 L610.16,416.66 L610.30,416.71 L610.43,416.76 L610.56,416.80 L610.69,416.85 L610.83,416.90 L610.96,416.95 L611.09,417.00 L611.22,417.05 L611.36,417.09 L611.49,417.14 L611.62,417.19 L611.75,417.24 L611.88,417.29 L612.02,417.34 L612.15,417.39 L612.28,417.45 L612.41,417.50 L612.54,417.55 L612.67,417.60 L612.80,417.65 L612.94,417.70 L613.07,417.75 L613.20,417.80 L613.33,417.85 L613.46,417.91 L613.59,417.96 L613.72,418.01 L613.85,418.06 L613.99,418.11 L614.12,418.16 L614.25,418.22 L614.38,418.27 L614.51,418.32 L614.64,418.37 L614.77,418.42 L614.90,418.47 L615.04,418.52 L615.17,418.57 L615.30,418.62 L615.43,418.68 L615.56,418.73 L615.69,418.78 L615.83,418.83 L615.96,418.88 L616.09,418.93 L616.22,418.98 L616.35,419.03 L616.48,419.08 L616.62,419.12 L616.75,419.17 L616.88,419.22 L617.01,419.27 L617.15,419.32 L617.28,419.37 L617.41,419.41 L617.54,419.46 L617.68,419.51 L617.81,419.55 L617.94,419.60 L618.08,419.64 L618.21,419.69 L618.34,419.73 L618.48,419.78 L618.61,419.82 L618.75,419.86 L618.88,419.91 L619.02,419.95 L619.15,419.99 L619.29,420.03 L619.42,420.07 L619.56,420.11 L619.69,420.15 L619.83,420.19 L619.96,420.23 L620.10,420.27" stroke="#33ee33" stroke-width="1.2" fill="none"/>
<path d="M621.36,420.58 L621.49,420.61 L621.62,420.64 L621.75,420.67 L621.88,420.69 L622.01,420.72 L622.14,420.75 L622.28,420.77 L622.41,420.80 L622.54,420.82 L622.67,420.85 L622.80,420.87 L622.93,420.90 L623.06,420.92 L623.20,420.95 L623.33,420.97 L623.46,421.00 L623.59,421.02 L623.72,421.04 L623.85,421.07 L623.99,421.09 L624.12,421.12 L624.25,421.14 L624.38,421.16 L624.51,421.19 L624.64,421.21 L624.78,421.24 L624.91,421.26 L625.04,421.28 L625.17,421.31 L625.30,421.33 L625.43,421.35 L625.57,421.37 L625.70,421.40 L625.83,421.42 L625.96,421.44 L626.09,421.46 L626.23,421.49 L626.36,421.51 L626.49,421.53 L626.62,421.55 L626.75,421.57 L626.89,421.59 L627.02,421.61 L627.15,421.63 L627.28,421.65 L627.42,421.67 L627.55,421.69 L627.68,421.71 L627.81,421.73 L627.94,421.75 L628.08,421.77 L628.21,421.79 L628.34,421.81 L628.47,421.83 L628.61,421.84 L628.74,421.86 L628.87,421.88 L629.01,421.90 L629.14,421.91 L629.27,421.93 L629.40,421.95 L629.54,421.96 L629.67,421.98 L629.80,421.99 L629.93,422.01 L630.07,422.03 L630.20,422.04 L630.33,422.05 L630.47,422.07 L630.60,422.08 L630.73,422.10 L630.87,422.11 L631.00,422.12 L631.13,422.13 L631.27,422.15 L631.40,422.16 L631.53,422.17 L631.67,422.18 L631.80,422.19 L631.93,422.20 L632.07,422.21 L632.20,422.22 L632.33,422.23 L632.47,422.24 L632.60,422.25 L632.73,422.26 L632.87,422.26 L633.00,422.27" stroke="#33ee33" stroke-width="1.2" fill="none"/>
<path d="M425.64,421.87 L425.67,421.84 L425.71,421.81 L425.74,421.78 L425.77,421.75 L425.80,421.72 L425.84,421.70 L425.87,421.67 L425.90,421.64 L425.93,421.61 L425.97,421.58 L426.00,421.55 L426.03,421.52" stroke="#c09020" stroke-width="1.2" fill="none"/>
<path d="M427.02,420.67 L427.11,420.59 L427.21,420.51 L427.30,420.43 L427.40,420.35 L427.49,420.27 L427.59,420.19 L427.68,420.11 L427.78,420.03 L427.87,419.95 L427.97,419.87 L428.06,419.79 L428.16,419.71 L428.26,419.64 L428.35,419.56 L428.45,419.48 L428.54,419.40 L428.64,419.32 L428.74,419.24 L428.84,419.16 L428.93,419.09 L429.03,419.01 L429.13,418.93 L429.22,418.85 L429.32,418.78 L429.42,418.70 L429.52,418.62 L429.62,418.55 L429.71,418.47 L429.81,418.39 L429.91,418.32 L430.01,418.24 L430.11,418.17 L430.21,418.09 L430.31,418.02 L430.40,417.94 L430.50,417.87 L430.60,417.79 L430.70,417.72 L430.80,417.64 L430.90,417.57 L431.00,417.50 L431.10,417.42 L431.21,417.35 L431.31,417.28 L431.41,417.21 L431.51,417.13 L431.61,417.06 L431.71,416.99 L431.81,416.92 L431.92,416.85 L432.02,416.78 L432.12,416.71 L432.22,416.64 L432.32,416.57 L432.43,416.50 L432.53,416.43 L432.63,416.36 L432.74,416.29 L432.84,416.22 L432.95,416.15 L433.05,416.08 L433.15,416.02 L433.26,415.95 L433.36,415.88 L433.47,415.82 L433.57,415.75 L433.68,415.68 L433.79,415.62 L433.89,415.55 L434.00,415.49 L434.10,415.42 L434.21,415.36 L434.32,415.30 L434.43,415.23 L434.53,415.17 L434.64,415.11 L434.75,415.05 L434.86,414.99 L434.97,414.93 L435.07,414.86 L435.18,414.80 L435.29,414.75 L435.40,414.69 L435.51,414.63 L435.62,414.57 L435.73,414.51 L435.84,414.46 L435.95,414.40 L436.06,414.34 L436.17,414.29 L436.29,414.23 L436.40,414.18 L436.51,414.12 L436.62,414.07 L436.74,414.02 L436.85,413.97 L436.96,413.91 L437.07,413.86 L437.19,413.81 L437.30,413.76 L437.42,413.71 L437.53,413.66 L437.65,413.62 L437.76,413.57 L437.88,413.52 L437.99,413.48 L438.11,413.43 L438.22,413.39 L438.34,413.34 L438.46,413.30 L438.57,413.25 L438.69,413.21 L438.80,413.16" stroke="#c09020" stroke-width="1.2" fill="none"/>
<path d="M440.02,412.69 L440.12,412.65 L440.21,412.62 L440.31,412.58 L440.41,412.54 L440.51,412.50 L440.61,412.46 L440.71,412.42 L440.81,412.39 L440.91,412.35 L441.01,412.31 L441.11,412.27 L441.21,412.24 L441.31,412.20 L441.41,412.16 L441.51,412.12 L441.61,412.09 L441.71,412.05 L441.81,412.01 L441.91,411.97 L442.01,411.94 L442.11,411.90 L442.21,411.87 L442.31,411.83 L442.41,411.79 L442.51,411.76 L442.61,411.72 L442.71,411.69 L442.81,411.65 L442.91,411.61 L443.01,411.58 L443.12,411.55 L443.22,411.51 L443.32,411.48 L443.42,411.44 L443.52,411.41 L443.62,411.37 L443.72,411.34 L443.82,411.31 L443.92,411.27 L444.03,411.24 L444.13,411.21 L444.23,411.18 L444.33,411.14 L444.43,411.11 L444.53,411.08 L444.64,411.05 L444.74,411.02 L444.84,410.99 L444.94,410.96 L445.04,410.93 L445.15,410.90 L445.25,410.87 L445.35,410.84 L445.45,410.81 L445.56,410.78 L445.66,410.75 L445.76,410.73 L445.87,410.70 L445.97,410.67 L446.07,410.64 L446.18,410.62 L446.28,410.59 L446.38,410.57 L446.49,410.54 L446.59,410.52 L446.69,410.49 L446.80,410.47 L446.90,410.45 L447.01,410.42 L447.11,410.40 L447.22,410.38 L447.32,410.36 L447.42,410.34 L447.53,410.31 L447.63,410.29 L447.74,410.27 L447.84,410.26 L447.95,410.24 L448.05,410.22 L448.16,410.20 L448.26,410.18 L448.37,410.17 L448.47,410.15 L448.58,410.14 L448.69,410.12 L448.79,410.11 L448.90,410.09 L449.00,410.08 L449.11,410.07 L449.21,410.05 L449.32,410.04 L449.43,410.03 L449.53,410.02 L449.64,410.01 L449.75,410.00 L449.85,410.00 L449.96,409.99 L450.06,409.98 L450.17,409.97 L450.28,409.97 L450.38,409.96 L450.49,409.96 L450.60,409.96 L450.70,409.95 L450.81,409.95 L450.92,409.95 L451.02,409.95 L451.13,409.95 L451.24,409.95 L451.34,409.96 L451.45,409.96 L451.56,409.97 L451.66,409.98 L451.77,409.99" stroke="#c09020" stroke-width="1.2" fill="none"/>
<path d="M453.04,410.25 L453.16,410.29 L453.27,410.32 L453.39,410.36 L453.50,410.40 L453.61,410.44 L453.73,410.48 L453.84,410.52 L453.95,410.57 L454.07,410.61 L454.18,410.66 L454.29,410.71 L454.40,410.76 L454.51,410.81 L454.62,410.86 L454.73,410.91 L454.84,410.96 L454.95,411.02 L455.05,411.07 L455.16,411.13 L455.27,411.18 L455.38,411.24 L455.48,411.30 L455.59,411.35 L455.69,411.41 L455.80,411.47 L455.90,411.53 L456.01,411.59 L456.11,411.65 L456.22,411.72 L456.32,411.78 L456.42,411.84 L456.53,411.91 L456.63,411.97 L456.73,412.03 L456.83,412.10 L456.94,412.16 L457.04,412.23 L457.14,412.30 L457.24,412.36 L457.34,412.43 L457.44,412.50 L457.54,412.56 L457.64,412.63 L457.74,412.70 L457.84,412.77 L457.94,412.84 L458.04,412.90 L458.14,412.97 L458.24,413.04 L458.34,413.11 L458.44,413.18 L458.54,413.25 L458.64,413.32 L458.73,413.39 L458.83,413.46 L458.93,413.53 L459.03,413.60 L459.13,413.67 L459.23,413.74 L459.33,413.81 L459.42,413.88 L459.52,413.95 L459.62,414.02 L459.72,414.09 L459.82,414.16 L459.92,414.23 L460.01,414.30 L460.11,414.37 L460.21,414.45 L460.31,414.52 L460.41,414.59 L460.51,414.66 L460.60,414.73 L460.70,414.80 L460.80,414.87 L460.90,414.94 L461.00,415.01 L461.10,415.07 L461.20,415.14 L461.30,415.21 L461.40,415.28 L461.50,415.35 L461.60,415.42 L461.70,415.49 L461.80,415.56 L461.90,415.62 L462.00,415.69 L462.10,415.76 L462.20,415.82 L462.30,415.89 L462.40,415.96 L462.50,416.02 L462.60,416.09 L462.71,416.15 L462.81,416.22 L462.91,416.28 L463.01,416.35 L463.12,416.41 L463.22,416.47 L463.32,416.53 L463.43,416.59 L463.53,416.66 L463.64,416.72 L463.74,416.78 L463.85,416.83 L463.95,416.89 L464.06,416.95 L464.17,417.01 L464.27,417.06 L464.38,417.12 L464.49,417.17 L464.60,417.23 L464.71,417.28 L464.82,417.33" stroke="#c09020" stroke-width="1.2" fill="none"/>
<path d="M466.01,417.85 L466.11,417.90 L466.21,417.94 L466.31,417.99 L466.41,418.03 L466.51,418.07 L466.61,418.12 L466.71,418.16 L466.81,418.21 L466.91,418.25 L467.01,418.30 L467.10,418.34 L467.20,418.39 L467.30,418.43 L467.40,418.48 L467.50,418.52 L467.60,418.57 L467.70,418.61 L467.80,418.66 L467.90,418.70 L468.00,418.75 L468.10,418.79 L468.20,418.84 L468.30,418.88 L468.40,418.93 L468.50,418.97 L468.60,419.02 L468.70,419.07 L468.80,419.11 L468.90,419.15 L469.00,419.20 L469.10,419.24 L469.20,419.29 L469.30,419.33 L469.39,419.38 L469.49,419.42 L469.59,419.47 L469.69,419.51 L469.79,419.55 L469.89,419.60 L470.00,419.64 L470.10,419.69 L470.20,419.73 L470.30,419.77 L470.40,419.81 L470.50,419.86 L470.60,419.90 L470.70,419.94 L470.80,419.98 L470.90,420.03 L471.00,420.07 L471.10,420.11 L471.20,420.15 L471.31,420.19 L471.41,420.23 L471.51,420.27 L471.61,420.31 L471.71,420.35 L471.81,420.39 L471.92,420.43 L472.02,420.47 L472.12,420.51 L472.22,420.54 L472.33,420.58 L472.43,420.62 L472.53,420.66 L472.63,420.69 L472.74,420.73 L472.84,420.76 L472.94,420.80 L473.05,420.83 L473.15,420.87 L473.26,420.90 L473.36,420.93 L473.46,420.97 L473.57,421.00 L473.67,421.03 L473.78,421.06 L473.88,421.09 L473.99,421.12 L474.09,421.15 L474.20,421.18 L474.30,421.21 L474.41,421.24 L474.52,421.26 L474.62,421.29 L474.73,421.31 L474.84,421.34 L474.94,421.36 L475.05,421.39 L475.16,421.41 L475.26,421.43 L475.37,421.45 L475.48,421.47 L475.58,421.49 L475.69,421.51 L475.80,421.53 L475.91,421.55 L476.02,421.56 L476.12,421.58 L476.23,421.59 L476.34,421.61 L476.45,421.62 L476.56,421.63 L476.67,421.64 L476.78,421.65 L476.88,421.66 L476.99,421.67 L477.10,421.68 L477.21,421.68 L477.32,421.69 L477.43,421.70 L477.54,421.71 L477.65,421.72" stroke="#c09020" stroke-width="1.2" fill="none"/>
<path d="M478.94,421.80 L479.05,421.81 L479.15,421.81 L479.25,421.82 L479.35,421.83 L479.46,421.83 L479.56,421.84 L479.66,421.85 L479.76,421.85 L479.87,421.86 L479.97,421.87 L480.07,421.87 L480.17,421.88 L480.28,421.88 L480.38,421.89 L480.48,421.90 L480.59,421.90 L480.69,421.91 L480.79,421.91 L480.89,421.92 L481.00,421.93 L481.10,421.93 L481.20,421.94 L481.30,421.94 L481.41,421.95 L481.51,421.95 L481.61,421.96 L481.71,421.96 L481.82,421.97 L481.92,421.98 L482.02,421.98 L482.12,421.99 L482.23,421.99 L482.33,422.00 L482.43,422.00 L482.53,422.01 L482.64,422.01 L482.74,422.02 L482.84,422.02 L482.94,422.03 L483.05,422.03 L483.15,422.04 L483.25,422.04 L483.36,422.05 L483.46,422.05 L483.56,422.06 L483.66,422.06 L483.77,422.07 L483.87,422.07 L483.97,422.08 L484.07,422.08 L484.18,422.08 L484.28,422.09 L484.38,422.09 L484.48,422.10 L484.59,422.10 L484.69,422.11 L484.79,422.11 L484.89,422.11 L485.00,422.12 L485.10,422.12 L485.20,422.13 L485.31,422.13 L485.41,422.14 L485.51,422.14 L485.61,422.14 L485.72,422.15 L485.82,422.15 L485.92,422.15 L486.02,422.16 L486.13,422.16 L486.23,422.17 L486.33,422.17 L486.43,422.17 L486.54,422.18 L486.64,422.18 L486.74,422.18 L486.85,422.19 L486.95,422.19 L487.05,422.19 L487.15,422.20 L487.26,422.20 L487.36,422.20 L487.46,422.20 L487.56,422.21 L487.67,422.21 L487.77,422.21 L487.87,422.22 L487.98,422.22 L488.08,422.22 L488.18,422.23 L488.28,422.23 L488.39,422.23 L488.49,422.23 L488.59,422.24 L488.69,422.24 L488.80,422.24 L488.90,422.24 L489.00,422.25 L489.11,422.25 L489.21,422.25 L489.31,422.25 L489.41,422.25 L489.52,422.26 L489.62,422.26 L489.72,422.26 L489.82,422.26 L489.93,422.26 L490.03,422.27 L490.13,422.27 L490.24,422.27 L490.34,422.27 L490.44,422.27 L490.54,422.27 L490.65,422.28" stroke="#c09020" stroke-width="1.2" fill="none"/>
<path d="M491.95,422.29 L492.05,422.29 L492.15,422.29 L492.26,422.29 L492.36,422.30 L492.47,422.30 L492.57,422.30 L492.68,422.30 L492.78,422.30 L492.89,422.30 L492.99,422.30 L493.10,422.30 L493.20,422.30 L493.30,422.30 L493.41,422.30 L493.51,422.30 L493.62,422.30 L493.72,422.30 L493.83,422.30 L493.93,422.30 L494.04,422.30 L494.14,422.30 L494.25,422.30 L494.35,422.29 L494.45,422.29 L494.56,422.29 L494.66,422.28 L494.77,422.28 L494.87,422.28 L494.98,422.27 L495.08,422.26 L495.19,422.26 L495.29,422.25 L495.39,422.25 L495.50,422.24 L495.60,422.23 L495.71,422.22 L495.81,422.21 L495.92,422.21 L496.02,422.20 L496.12,422.19 L496.23,422.18 L496.33,422.17 L496.44,422.16 L496.54,422.14 L496.64,422.13 L496.75,422.12 L496.85,422.11 L496.95,422.09 L497.06,422.08 L497.16,422.07 L497.27,422.05 L497.37,422.04 L497.47,422.02 L497.58,422.01 L497.68,421.99 L497.78,421.98 L497.89,421.96 L497.99,421.94 L498.09,421.93 L498.19,421.91 L498.30,421.89 L498.40,421.87 L498.50,421.86 L498.61,421.84 L498.71,421.82 L498.81,421.80 L498.91,421.78 L499.02,421.76 L499.12,421.74 L499.22,421.72 L499.32,421.70 L499.43,421.68 L499.53,421.65 L499.63,421.63 L499.73,421.61 L499.84,421.59 L499.94,421.57 L500.04,421.54 L500.14,421.52 L500.24,421.49 L500.35,421.47 L500.45,421.45 L500.55,421.42 L500.65,421.40 L500.75,421.37 L500.85,421.35 L500.95,421.32 L501.06,421.29 L501.16,421.27 L501.26,421.24 L501.36,421.22 L501.46,421.19 L501.56,421.16 L501.66,421.13 L501.76,421.11 L501.86,421.08 L501.96,421.05 L502.06,421.02 L502.16,420.99 L502.26,420.96 L502.37,420.93 L502.47,420.90 L502.57,420.87 L502.67,420.84 L502.77,420.81 L502.87,420.78 L502.97,420.75 L503.07,420.72 L503.17,420.69 L503.27,420.66 L503.37,420.63 L503.46,420.60 L503.56,420.57" stroke="#c09020" stroke-width="1.2" fill="none"/>
<path d="M504.80,420.15 L504.95,420.10 L505.10,420.05 L505.25,419.99 L505.40,419.94 L505.55,419.89 L505.70,419.82 L505.84,419.76 L505.98,419.68 L506.12,419.61 L506.26,419.52 L506.40,419.44 L506.53,419.35 L506.66,419.26 L506.79,419.16 L506.91,419.06 L507.04,418.96 L507.16,418.86 L507.28,418.76 L507.40,418.65 L507.52,418.54 L507.64,418.43 L507.75,418.32 L507.86,418.21 L507.98,418.09 L508.09,417.98 L508.20,417.86 L508.31,417.74 L508.41,417.63 L508.52,417.51 L508.63,417.39 L508.73,417.27 L508.84,417.15 L508.94,417.02 L509.04,416.90 L509.14,416.78 L509.25,416.66 L509.35,416.53 L509.45,416.41 L509.55,416.28 L509.65,416.16 L509.75,416.03 L509.85,415.91 L509.94,415.78 L510.04,415.66 L510.14,415.53 L510.24,415.40 L510.33,415.27 L510.43,415.15 L510.53,415.02 L510.63,414.89 L510.72,414.77 L510.82,414.64 L510.91,414.51 L511.01,414.38 L511.11,414.25 L511.20,414.13 L511.30,414.00 L511.39,413.87 L511.49,413.74 L511.59,413.62 L511.68,413.49 L511.78,413.36 L511.88,413.23 L511.97,413.11 L512.07,412.98 L512.17,412.85 L512.27,412.73 L512.36,412.60 L512.46,412.47 L512.56,412.35 L512.66,412.22 L512.76,412.10 L512.86,411.97 L512.96,411.85 L513.06,411.72 L513.16,411.60 L513.26,411.48 L513.36,411.35 L513.46,411.23 L513.57,411.10 L513.67,410.98 L513.76,410.85 L513.86,410.73 L513.96,410.60 L514.06,410.48 L514.16,410.35 L514.26,410.22 L514.35,410.10 L514.45,409.97 L514.55,409.84 L514.65,409.72 L514.74,409.59 L514.84,409.46 L514.93,409.33 L515.03,409.20 L515.12,409.08 L515.22,408.95 L515.31,408.82 L515.41,408.69 L515.50,408.56 L515.60,408.43 L515.69,408.30 L515.78,408.17 L515.88,408.04 L515.97,407.91 L516.06,407.78 L516.16,407.65 L516.25,407.52 L516.34,407.39 L516.44,407.26 L516.53,407.13 L516.62,407.00 L516.71,406.87 L516.81,406.74" stroke="#c09020" stroke-width="1.2" fill="none"/>
<path d="M517.56,405.68 L517.66,405.53 L517.76,405.39 L517.87,405.24 L517.97,405.10 L518.07,404.95 L518.18,404.80 L518.28,404.66 L518.38,404.51 L518.49,404.37 L518.59,404.22 L518.70,404.07 L518.80,403.93 L518.90,403.78 L519.01,403.64 L519.11,403.49 L519.22,403.35 L519.32,403.20 L519.43,403.06 L519.53,402.91 L519.64,402.77 L519.75,402.62 L519.85,402.48 L519.96,402.34 L520.07,402.19 L520.17,402.05 L520.28,401.91 L520.39,401.76 L520.50,401.62 L520.60,401.48 L520.71,401.33 L520.82,401.19 L520.93,401.05 L521.04,400.91 L521.15,400.77 L521.25,400.62 L521.36,400.48 L521.47,400.34 L521.58,400.20 L521.69,400.06 L521.80,399.92 L521.91,399.77 L522.02,399.63 L522.13,399.49 L522.24,399.35 L522.35,399.21 L522.46,399.07 L522.57,398.93 L522.68,398.79 L522.79,398.65 L522.91,398.51 L523.02,398.37 L523.13,398.22 L523.24,398.08 L523.35,397.94 L523.46,397.80 L523.57,397.66 L523.68,397.52 L523.79,397.38 L523.90,397.24 L524.01,397.10 L524.13,396.96 L524.24,396.82 L524.35,396.68 L524.46,396.54 L524.57,396.40 L524.68,396.26 L524.79,396.12 L524.90,395.98 L525.01,395.84 L525.12,395.69 L525.23,395.55 L525.34,395.41 L525.45,395.27 L525.56,395.13 L525.67,394.99 L525.78,394.85 L525.89,394.71 L526.00,394.56 L526.11,394.42 L526.22,394.28 L526.33,394.14 L526.44,394.00 L526.55,393.85 L526.66,393.71 L526.76,393.57 L526.87,393.43 L526.98,393.28 L527.09,393.14 L527.20,393.00 L527.30,392.86 L527.41,392.71 L527.52,392.57 L527.62,392.43 L527.73,392.28 L527.84,392.14 L527.94,391.99 L528.05,391.85 L528.15,391.70 L528.26,391.56 L528.36,391.41 L528.47,391.27 L528.57,391.12 L528.68,390.98 L528.78,390.83 L528.89,390.69 L528.99,390.54 L529.09,390.39 L529.19,390.25 L529.30,390.10 L529.40,389.95 L529.50,389.81 L529.60,389.66 L529.70,389.51" stroke="#c09020" stroke-width="1.2" fill="none"/>
<path d="M530.43,388.43 L530.55,388.24 L530.68,388.05 L530.80,387.87 L530.93,387.68 L531.05,387.49 L531.18,387.30 L531.30,387.11 L531.43,386.92 L531.55,386.74 L531.68,386.55 L531.80,386.36 L531.92,386.17 L532.05,385.98 L532.17,385.79 L532.30,385.61 L532.42,385.42 L532.55,385.23 L532.67,385.04 L532.79,384.85 L532.92,384.66 L533.04,384.47 L533.17,384.28 L533.29,384.09 L533.41,383.90 L533.53,383.71 L533.66,383.52 L533.78,383.33 L533.90,383.14 L534.02,382.95 L534.14,382.76 L534.27,382.57 L534.39,382.38 L534.51,382.19 L534.63,382.00 L534.75,381.81 L534.87,381.62 L534.99,381.43 L535.11,381.23 L535.23,381.04 L535.34,380.85 L535.46,380.66 L535.58,380.46 L535.70,380.27 L535.81,380.08 L535.93,379.88 L536.05,379.69 L536.16,379.50 L536.28,379.30 L536.39,379.11 L536.51,378.91 L536.62,378.72 L536.74,378.52 L536.85,378.33 L536.96,378.13 L537.07,377.93 L537.19,377.74 L537.30,377.54 L537.41,377.34 L537.52,377.15 L537.63,376.95 L537.74,376.75 L537.85,376.56 L537.96,376.36 L538.06,376.16 L538.17,375.96 L538.28,375.76 L538.39,375.56 L538.49,375.36 L538.60,375.16 L538.70,374.96 L538.81,374.76 L538.91,374.56 L539.02,374.36 L539.12,374.16 L539.22,373.96 L539.33,373.76 L539.43,373.56 L539.53,373.36 L539.63,373.15 L539.73,372.95 L539.83,372.75 L539.93,372.55 L540.03,372.34 L540.13,372.14 L540.23,371.94 L540.33,371.73 L540.42,371.53 L540.52,371.32 L540.62,371.12 L540.71,370.92 L540.81,370.71 L540.90,370.51 L541.00,370.30 L541.09,370.10 L541.18,369.89 L541.28,369.68 L541.37,369.48 L541.46,369.27 L541.55,369.06 L541.64,368.86 L541.73,368.65 L541.82,368.44 L541.91,368.24 L542.00,368.03 L542.09,367.82 L542.18,367.61 L542.27,367.41 L542.36,367.20 L542.44,366.99 L542.52,366.78 L542.61,366.57 L542.69,366.36 L542.77,366.14 L542.85,365.93" stroke="#c09020" stroke-width="1.2" fill="none"/>
<path d="M543.28,364.71 L543.40,364.36 L543.52,364.01 L543.63,363.67 L543.75,363.32 L543.86,362.97 L543.97,362.62 L544.08,362.27 L544.19,361.92 L544.29,361.57 L544.40,361.22 L544.51,360.87 L544.61,360.52 L544.72,360.17 L544.82,359.81 L544.93,359.46 L545.03,359.11 L545.13,358.76 L545.23,358.41 L545.34,358.06 L545.44,357.70 L545.54,357.35 L545.64,357.00 L545.74,356.65 L545.84,356.29 L545.94,355.94 L546.04,355.59 L546.15,355.24 L546.25,354.88 L546.35,354.53 L546.45,354.18 L546.55,353.83 L546.65,353.48 L546.75,353.12 L546.86,352.77 L546.96,352.42 L547.06,352.07 L547.17,351.72 L547.27,351.37 L547.38,351.01 L547.48,350.66 L547.59,350.31 L547.70,349.96 L547.81,349.61 L547.91,349.26 L548.03,348.91 L548.14,348.56 L548.25,348.22 L548.36,347.87 L548.47,347.52 L548.59,347.17 L548.70,346.82 L548.82,346.47 L548.93,346.13 L549.05,345.78 L549.17,345.43 L549.28,345.08 L549.40,344.74 L549.52,344.39 L549.64,344.04 L549.75,343.70 L549.87,343.35 L549.99,343.00 L550.11,342.65 L550.23,342.31 L550.35,341.96 L550.47,341.61 L550.58,341.27 L550.70,340.92 L550.82,340.57 L550.94,340.23 L551.06,339.88 L551.18,339.53 L551.29,339.19 L551.41,338.84 L551.53,338.49 L551.64,338.14 L551.76,337.80 L551.88,337.45 L551.99,337.10 L552.11,336.75 L552.22,336.40 L552.33,336.06 L552.45,335.71 L552.56,335.36 L552.67,335.01 L552.78,334.66 L552.89,334.31 L553.00,333.96 L553.11,333.61 L553.22,333.26 L553.32,332.91 L553.43,332.56 L553.54,332.21 L553.64,331.86 L553.74,331.51 L553.85,331.15 L553.95,330.80 L554.05,330.45 L554.15,330.10 L554.25,329.74 L554.33,329.39 L554.42,329.03 L554.50,328.67 L554.58,328.32 L554.67,327.96 L554.76,327.60 L554.85,327.25 L554.96,326.90 L555.09,326.56 L555.23,326.22 L555.38,325.88 L555.52,325.55 L555.67,325.21" stroke="#c09020" stroke-width="1.2" fill="none"/>
<path d="M556.27,324.06 L556.44,323.80 L556.63,323.56 L556.85,323.34 L557.12,323.20 L557.42,323.22 L557.69,323.37 L557.91,323.58 L558.10,323.82 L558.27,324.08 L558.44,324.34 L558.59,324.60 L558.74,324.87 L558.89,325.14 L559.03,325.42 L559.17,325.69 L559.32,325.96 L559.46,326.23 L559.61,326.50 L559.76,326.77 L559.92,327.04 L560.06,327.31 L560.21,327.58 L560.35,327.85 L560.49,328.13 L560.62,328.40 L560.75,328.68 L560.88,328.96 L561.00,329.24 L561.13,329.53 L561.25,329.81 L561.37,330.09 L561.48,330.38 L561.59,330.66 L561.71,330.95 L561.81,331.24 L561.92,331.53 L562.03,331.82 L562.13,332.11 L562.23,332.40 L562.33,332.69 L562.43,332.98 L562.53,333.27 L562.62,333.56 L562.72,333.86 L562.81,334.15 L562.91,334.44 L563.00,334.74 L563.09,335.03 L563.18,335.32 L563.27,335.62 L563.36,335.91 L563.45,336.21 L563.54,336.50 L563.63,336.80 L563.71,337.09 L563.80,337.39 L563.89,337.68 L563.97,337.98 L564.06,338.28 L564.14,338.57 L564.23,338.87 L564.31,339.16 L564.40,339.46 L564.48,339.75 L564.56,340.05 L564.65,340.35 L564.73,340.64 L564.81,340.94 L564.90,341.24 L564.98,341.53 L565.06,341.83 L565.15,342.12 L565.23,342.42 L565.31,342.72 L565.40,343.01 L565.48,343.31 L565.56,343.61 L565.65,343.90 L565.73,344.20 L565.81,344.49 L565.90,344.79 L565.98,345.09 L566.07,345.38 L566.15,345.68 L566.24,345.97 L566.32,346.27 L566.41,346.57 L566.49,346.86 L566.58,347.16 L566.66,347.45 L566.75,347.75 L566.84,348.04 L566.93,348.34 L567.01,348.63 L567.10,348.93 L567.19,349.22 L567.28,349.52 L567.36,349.81 L567.45,350.11 L567.54,350.40 L567.63,350.70 L567.72,350.99 L567.80,351.29 L567.89,351.58 L567.98,351.88 L568.07,352.17 L568.16,352.47 L568.24,352.76 L568.33,353.06 L568.42,353.35 L568.51,353.65 L568.59,353.94 L568.68,354.24 L568.77,354.53" stroke="#c09020" stroke-width="1.2" fill="none"/>
<path d="M569.14,355.78 L569.27,356.24 L569.41,356.70 L569.54,357.16 L569.68,357.62 L569.81,358.08 L569.95,358.54 L570.08,359.00 L570.21,359.46 L570.34,359.93 L570.47,360.39 L570.60,360.85 L570.73,361.31 L570.86,361.77 L570.99,362.23 L571.12,362.70 L571.25,363.16 L571.38,363.62 L571.50,364.08 L571.63,364.55 L571.75,365.01 L571.88,365.47 L572.00,365.94 L572.12,366.40 L572.24,366.87 L572.36,367.33 L572.48,367.79 L572.60,368.26 L572.72,368.72 L572.84,369.19 L572.95,369.65 L573.07,370.12 L573.18,370.59 L573.29,371.05 L573.41,371.52 L573.52,371.99 L573.63,372.45 L573.74,372.92 L573.85,373.39 L573.95,373.85 L574.06,374.32 L574.17,374.79 L574.27,375.26 L574.38,375.72 L574.49,376.19 L574.59,376.66 L574.69,377.13 L574.80,377.60 L574.90,378.07 L575.01,378.53 L575.11,379.00 L575.21,379.47 L575.32,379.94 L575.42,380.41 L575.52,380.88 L575.63,381.34 L575.73,381.81 L575.83,382.28 L575.93,382.75 L576.04,383.22 L576.14,383.69 L576.24,384.16 L576.35,384.62 L576.45,385.09 L576.55,385.56 L576.66,386.03 L576.76,386.50 L576.86,386.97 L576.97,387.43 L577.07,387.90 L577.18,388.37 L577.28,388.84 L577.38,389.31 L577.49,389.78 L577.58,390.25 L577.68,390.71 L577.78,391.18 L577.88,391.65 L577.97,392.12 L578.07,392.59 L578.16,393.07 L578.25,393.54 L578.34,394.01 L578.44,394.48 L578.53,394.95 L578.62,395.42 L578.71,395.89 L578.80,396.36 L578.90,396.83 L578.99,397.30 L579.08,397.77 L579.17,398.24 L579.26,398.71 L579.36,399.19 L579.45,399.66 L579.54,400.13 L579.64,400.60 L579.73,401.07 L579.83,401.54 L579.93,402.01 L580.03,402.48 L580.13,402.94 L580.23,403.41 L580.33,403.88 L580.44,404.35 L580.55,404.82 L580.66,405.28 L580.77,405.75 L580.89,406.21 L581.01,406.68 L581.14,407.14 L581.27,407.60 L581.41,408.06 L581.56,408.52 L581.72,408.97" stroke="#c09020" stroke-width="1.2" fill="none"/>
<path d="M582.20,410.18 L582.26,410.32 L582.33,410.46 L582.39,410.61 L582.45,410.75 L582.51,410.89 L582.58,411.03 L582.64,411.18 L582.71,411.32 L582.77,411.46 L582.84,411.60 L582.90,411.75 L582.97,411.89 L583.04,412.03 L583.10,412.17 L583.17,412.31 L583.24,412.45 L583.31,412.59 L583.38,412.73 L583.45,412.87 L583.52,413.01 L583.60,413.14 L583.67,413.28 L583.74,413.42 L583.82,413.56 L583.89,413.69 L583.97,413.83 L584.04,413.97 L584.12,414.10 L584.20,414.24 L584.28,414.37 L584.36,414.51 L584.44,414.64 L584.52,414.77 L584.60,414.91 L584.69,415.04 L584.77,415.17 L584.86,415.30 L584.94,415.43 L585.03,415.56 L585.12,415.69 L585.21,415.82 L585.30,415.94 L585.39,416.07 L585.49,416.20 L585.58,416.32 L585.68,416.44 L585.77,416.57 L585.87,416.69 L585.97,416.81 L586.07,416.93 L586.17,417.05 L586.28,417.16 L586.38,417.28 L586.49,417.39 L586.60,417.50 L586.71,417.62 L586.82,417.73 L586.93,417.84 L587.04,417.95 L587.15,418.06 L587.26,418.17 L587.37,418.27 L587.49,418.38 L587.60,418.49 L587.71,418.60 L587.83,418.70 L587.94,418.81 L588.06,418.91 L588.17,419.02 L588.29,419.12 L588.41,419.23 L588.53,419.33 L588.64,419.43 L588.76,419.53 L588.88,419.63 L589.01,419.73 L589.13,419.83 L589.25,419.92 L589.37,420.02 L589.50,420.11 L589.63,420.20 L589.75,420.30 L589.88,420.39 L590.01,420.47 L590.14,420.56 L590.27,420.65 L590.40,420.73 L590.53,420.81 L590.67,420.89 L590.80,420.97 L590.94,421.04 L591.08,421.12 L591.22,421.19 L591.36,421.25 L591.50,421.32 L591.64,421.38 L591.79,421.44 L591.94,421.50 L592.08,421.55 L592.23,421.60 L592.38,421.64 L592.53,421.68 L592.68,421.72 L592.83,421.76 L592.98,421.80 L593.14,421.84 L593.29,421.88 L593.44,421.92 L593.59,421.95 L593.74,421.99 L593.89,422.02 L594.05,422.06 L594.20,422.09" stroke="#c09020" stroke-width="1.2" fill="none"/>
<path d="M418.03,422.29 L418.15,422.29 L418.27,422.29 L418.39,422.29 L418.51,422.28 L418.63,422.28 L418.74,422.27 L418.86,422.27 L418.98,422.26 L419.10,422.26 L419.22,422.25 L419.33,422.25 L419.45,422.24 L419.57,422.24 L419.69,422.23 L419.81,422.22 L419.92,422.21 L420.04,422.21 L420.16,422.20 L420.28,422.19 L420.39,422.18 L420.51,422.17 L420.63,422.16 L420.75,422.15 L420.87,422.14 L420.98,422.13 L421.10,422.12 L421.22,422.11 L421.34,422.10 L421.45,422.09 L421.57,422.08 L421.69,422.07 L421.81,422.06 L421.92,422.05 L422.04,422.04 L422.16,422.02 L422.28,422.01 L422.39,422.00 L422.51,421.99 L422.63,421.97 L422.75,421.96 L422.86,421.95 L422.98,421.93 L423.10,421.92 L423.22,421.91 L423.33,421.89 L423.45,421.88 L423.57,421.87 L423.69,421.85 L423.80,421.84 L423.92,421.82 L424.04,421.81 L424.16,421.79 L424.27,421.78 L424.39,421.76 L424.51,421.75 L424.62,421.73 L424.74,421.72 L424.86,421.70 L424.98,421.69 L425.09,421.67 L425.21,421.66 L425.33,421.64 L425.44,421.62 L425.56,421.60 L425.68,421.58 L425.79,421.55 L425.91,421.53" stroke="#111" stroke-width="1.2" fill="none"/>
<path d="M427.14,421.12 L427.27,421.07 L427.40,421.02 L427.53,420.96 L427.65,420.90 L427.78,420.84 L427.91,420.78 L428.03,420.72 L428.16,420.66 L428.28,420.60 L428.41,420.53 L428.53,420.47 L428.65,420.40 L428.78,420.33 L428.90,420.27 L429.02,420.20 L429.14,420.13 L429.26,420.06 L429.38,419.98 L429.50,419.91 L429.62,419.84 L429.74,419.77 L429.86,419.69 L429.98,419.62 L430.10,419.55 L430.22,419.47 L430.34,419.40 L430.45,419.32 L430.57,419.24 L430.69,419.17 L430.80,419.09 L430.92,419.01 L431.04,418.94 L431.16,418.86 L431.27,418.78 L431.39,418.71 L431.50,418.63 L431.62,418.55 L431.74,418.47 L431.85,418.39 L431.97,418.32 L432.09,418.24 L432.20,418.16 L432.32,418.08 L432.44,418.01 L432.55,417.93 L432.67,417.85 L432.78,417.77 L432.90,417.70 L433.02,417.62 L433.14,417.54 L433.25,417.47 L433.37,417.39 L433.49,417.32 L433.61,417.24 L433.72,417.17 L433.84,417.09 L433.96,417.02 L434.08,416.94 L434.20,416.87 L434.32,416.80 L434.44,416.73 L434.56,416.66 L434.68,416.59 L434.80,416.52 L434.93,416.45 L435.05,416.38 L435.17,416.31 L435.29,416.25 L435.42,416.18 L435.54,416.12 L435.67,416.05 L435.79,415.99 L435.92,415.93 L436.04,415.87 L436.17,415.81 L436.30,415.76 L436.43,415.70 L436.56,415.65 L436.69,415.59 L436.82,415.54 L436.95,415.49 L437.08,415.45 L437.21,415.40 L437.35,415.36 L437.48,415.32 L437.61,415.28 L437.75,415.24 L437.88,415.21 L438.02,415.18 L438.16,415.15 L438.29,415.12 L438.43,415.10 L438.57,415.08 L438.71,415.06 L438.85,415.04" stroke="#111" stroke-width="1.2" fill="none"/>
<path d="M440.15,415.04 L440.28,415.05 L440.40,415.07 L440.53,415.08 L440.66,415.09 L440.79,415.11 L440.92,415.13 L441.05,415.14 L441.17,415.16 L441.30,415.18 L441.43,415.21 L441.56,415.23 L441.68,415.25 L441.81,415.28 L441.94,415.31 L442.06,415.33 L442.19,415.36 L442.31,415.39 L442.44,415.42 L442.56,415.45 L442.69,415.49 L442.81,415.52 L442.94,415.55 L443.06,415.59 L443.19,415.63 L443.31,415.66 L443.44,415.70 L443.56,415.74 L443.68,415.77 L443.81,415.81 L443.93,415.85 L444.05,415.89 L444.17,415.93 L444.30,415.98 L444.42,416.02 L444.54,416.06 L444.66,416.10 L444.79,416.15 L444.91,416.19 L445.03,416.23 L445.15,416.28 L445.27,416.32 L445.39,416.37 L445.51,416.41 L445.63,416.46 L445.76,416.51 L445.88,416.55 L446.00,416.60 L446.12,416.64 L446.24,416.69 L446.36,416.74 L446.48,416.79 L446.60,416.83 L446.72,416.88 L446.84,416.93 L446.96,416.97 L447.08,417.02 L447.20,417.07 L447.32,417.12 L447.44,417.17 L447.56,417.21 L447.68,417.26 L447.80,417.31 L447.92,417.35 L448.04,417.40 L448.16,417.45 L448.28,417.50 L448.40,417.54 L448.52,417.59 L448.64,417.64 L448.77,417.68 L448.89,417.73 L449.01,417.77 L449.13,417.82 L449.25,417.86 L449.37,417.91 L449.49,417.95 L449.61,418.00 L449.74,418.04 L449.86,418.08 L449.98,418.12 L450.10,418.17 L450.22,418.21 L450.35,418.25 L450.47,418.29 L450.59,418.33 L450.72,418.37 L450.84,418.41 L450.96,418.45 L451.09,418.48 L451.21,418.52 L451.33,418.56 L451.46,418.59 L451.58,418.62 L451.71,418.66 L451.83,418.69" stroke="#111" stroke-width="1.2" fill="none"/>
<path d="M453.10,418.99 L453.22,419.02 L453.34,419.05 L453.46,419.08 L453.59,419.11 L453.71,419.14 L453.83,419.16 L453.95,419.19 L454.07,419.22 L454.20,419.25 L454.32,419.28 L454.44,419.31 L454.56,419.34 L454.68,419.37 L454.80,419.40 L454.93,419.43 L455.05,419.46 L455.17,419.49 L455.29,419.53 L455.41,419.56 L455.53,419.59 L455.66,419.62 L455.78,419.65 L455.90,419.68 L456.02,419.71 L456.14,419.74 L456.26,419.77 L456.39,419.80 L456.51,419.83 L456.63,419.86 L456.75,419.89 L456.87,419.92 L457.00,419.95 L457.12,419.97 L457.24,420.00 L457.36,420.03 L457.48,420.06 L457.61,420.09 L457.73,420.12 L457.85,420.15 L457.97,420.18 L458.09,420.21 L458.22,420.23 L458.34,420.26 L458.46,420.29 L458.58,420.32 L458.71,420.34 L458.83,420.37 L458.95,420.40 L459.07,420.42 L459.20,420.45 L459.32,420.48 L459.44,420.50 L459.56,420.53 L459.69,420.55 L459.81,420.58 L459.93,420.60 L460.06,420.62 L460.18,420.65 L460.30,420.67 L460.43,420.69 L460.55,420.72 L460.67,420.74 L460.80,420.76 L460.92,420.78 L461.04,420.80 L461.17,420.82 L461.29,420.84 L461.41,420.86 L461.54,420.88 L461.66,420.90 L461.79,420.92 L461.91,420.94 L462.03,420.95 L462.16,420.97 L462.28,420.99 L462.41,421.00 L462.53,421.02 L462.66,421.03 L462.78,421.05 L462.91,421.06 L463.03,421.07 L463.16,421.08 L463.28,421.10 L463.41,421.11 L463.53,421.12 L463.66,421.13 L463.78,421.14 L463.91,421.15 L464.03,421.15 L464.16,421.16 L464.28,421.17 L464.41,421.17 L464.53,421.18 L464.66,421.18 L464.78,421.18" stroke="#111" stroke-width="1.2" fill="none"/>
<path d="M466.08,421.17 L466.21,421.17 L466.33,421.16 L466.46,421.15 L466.58,421.15 L466.71,421.14 L466.83,421.13 L466.96,421.12 L467.08,421.11 L467.21,421.09 L467.33,421.08 L467.46,421.07 L467.58,421.06 L467.70,421.04 L467.83,421.03 L467.95,421.01 L468.08,420.99 L468.20,420.98 L468.33,420.96 L468.45,420.94 L468.57,420.92 L468.70,420.90 L468.82,420.88 L468.94,420.86 L469.07,420.84 L469.19,420.82 L469.31,420.80 L469.44,420.78 L469.56,420.76 L469.68,420.73 L469.81,420.71 L469.93,420.69 L470.05,420.66 L470.18,420.64 L470.30,420.61 L470.42,420.59 L470.54,420.56 L470.67,420.54 L470.79,420.51 L470.91,420.48 L471.03,420.46 L471.16,420.43 L471.28,420.40 L471.40,420.38 L471.52,420.35 L471.65,420.32 L471.77,420.29 L471.89,420.26 L472.01,420.24 L472.13,420.21 L472.26,420.18 L472.38,420.15 L472.50,420.12 L472.62,420.09 L472.74,420.06 L472.86,420.03 L472.99,420.00 L473.11,419.97 L473.23,419.94 L473.35,419.91 L473.47,419.88 L473.59,419.85 L473.72,419.83 L473.84,419.80 L473.96,419.77 L474.08,419.74 L474.20,419.71 L474.32,419.68 L474.45,419.65 L474.57,419.62 L474.69,419.59 L474.81,419.56 L474.93,419.53 L475.06,419.50 L475.18,419.47 L475.30,419.44 L475.42,419.41 L475.54,419.38 L475.66,419.36 L475.79,419.33 L475.91,419.30 L476.03,419.27 L476.15,419.24 L476.28,419.22 L476.40,419.19 L476.52,419.16 L476.64,419.14 L476.76,419.11 L476.89,419.08 L477.01,419.06 L477.13,419.03 L477.26,419.01 L477.38,418.98 L477.50,418.96 L477.62,418.93" stroke="#111" stroke-width="1.2" fill="none"/>
<path d="M478.90,418.70 L479.03,418.68 L479.15,418.66 L479.27,418.64 L479.39,418.61 L479.52,418.59 L479.64,418.57 L479.76,418.55 L479.89,418.53 L480.01,418.51 L480.13,418.48 L480.25,418.46 L480.38,418.44 L480.50,418.42 L480.62,418.40 L480.75,418.38 L480.87,418.36 L480.99,418.33 L481.12,418.31 L481.24,418.29 L481.36,418.27 L481.48,418.25 L481.61,418.23 L481.73,418.20 L481.85,418.18 L481.98,418.16 L482.10,418.14 L482.22,418.12 L482.34,418.10 L482.47,418.08 L482.59,418.05 L482.71,418.03 L482.84,418.01 L482.96,417.99 L483.08,417.97 L483.21,417.95 L483.33,417.93 L483.45,417.91 L483.57,417.88 L483.70,417.86 L483.82,417.84 L483.94,417.82 L484.07,417.80 L484.19,417.78 L484.31,417.76 L484.44,417.74 L484.56,417.71 L484.68,417.69 L484.80,417.67 L484.93,417.65 L485.05,417.63 L485.17,417.61 L485.30,417.59 L485.42,417.57 L485.54,417.55 L485.67,417.52 L485.79,417.50 L485.91,417.48 L486.03,417.46 L486.16,417.44 L486.28,417.42 L486.40,417.40 L486.53,417.38 L486.65,417.36 L486.77,417.34 L486.90,417.32 L487.02,417.29 L487.14,417.27 L487.26,417.25 L487.39,417.23 L487.51,417.21 L487.63,417.19 L487.76,417.17 L487.88,417.15 L488.00,417.13 L488.13,417.11 L488.25,417.09 L488.37,417.07 L488.50,417.05 L488.62,417.03 L488.74,417.01 L488.86,416.99 L488.99,416.96 L489.11,416.94 L489.23,416.92 L489.36,416.90 L489.48,416.88 L489.60,416.86 L489.73,416.84 L489.85,416.82 L489.97,416.80 L490.10,416.78 L490.22,416.76 L490.34,416.74 L490.47,416.72 L490.59,416.70" stroke="#111" stroke-width="1.2" fill="none"/>
<path d="M491.87,416.49 L492.00,416.47 L492.12,416.46 L492.24,416.44 L492.36,416.42 L492.49,416.40 L492.61,416.38 L492.73,416.37 L492.86,416.35 L492.98,416.33 L493.10,416.31 L493.23,416.30 L493.35,416.28 L493.47,416.26 L493.60,416.24 L493.72,416.23 L493.84,416.21 L493.96,416.19 L494.09,416.18 L494.21,416.16 L494.33,416.15 L494.46,416.13 L494.58,416.11 L494.70,416.10 L494.83,416.08 L494.95,416.07 L495.07,416.05 L495.20,416.03 L495.32,416.02 L495.44,416.00 L495.57,415.99 L495.69,415.97 L495.81,415.96 L495.94,415.94 L496.06,415.92 L496.18,415.91 L496.31,415.89 L496.43,415.88 L496.55,415.86 L496.68,415.85 L496.80,415.83 L496.93,415.82 L497.05,415.80 L497.17,415.78 L497.30,415.77 L497.42,415.75 L497.54,415.74 L497.67,415.72 L497.79,415.71 L497.91,415.69 L498.04,415.67 L498.16,415.66 L498.28,415.64 L498.41,415.63 L498.53,415.61 L498.65,415.59 L498.77,415.58 L498.90,415.56 L499.02,415.54 L499.14,415.53 L499.27,415.51 L499.39,415.49 L499.51,415.48 L499.64,415.46 L499.76,415.44 L499.88,415.42 L500.01,415.40 L500.13,415.39 L500.25,415.37 L500.38,415.35 L500.50,415.33 L500.62,415.31 L500.74,415.29 L500.87,415.28 L500.99,415.26 L501.11,415.24 L501.24,415.22 L501.36,415.20 L501.48,415.18 L501.60,415.16 L501.73,415.14 L501.85,415.12 L501.97,415.10 L502.09,415.07 L502.22,415.05 L502.34,415.03 L502.46,415.01 L502.58,414.99 L502.71,414.97 L502.83,414.94 L502.95,414.92 L503.07,414.90 L503.20,414.87 L503.32,414.85 L503.44,414.83 L503.56,414.80" stroke="#111" stroke-width="1.2" fill="none"/>
<path d="M504.83,414.53 L504.97,414.50 L505.10,414.47 L505.24,414.43 L505.37,414.40 L505.51,414.37 L505.65,414.33 L505.78,414.30 L505.91,414.26 L506.05,414.22 L506.18,414.18 L506.31,414.14 L506.45,414.09 L506.58,414.05 L506.71,414.00 L506.84,413.95 L506.97,413.91 L507.10,413.86 L507.23,413.81 L507.36,413.76 L507.49,413.70 L507.62,413.65 L507.75,413.60 L507.88,413.54 L508.01,413.49 L508.13,413.43 L508.26,413.37 L508.39,413.31 L508.51,413.26 L508.64,413.20 L508.77,413.14 L508.89,413.08 L509.02,413.02 L509.14,412.96 L509.27,412.90 L509.39,412.83 L509.52,412.77 L509.64,412.71 L509.77,412.65 L509.89,412.58 L510.02,412.52 L510.14,412.46 L510.26,412.39 L510.39,412.33 L510.51,412.26 L510.64,412.20 L510.76,412.14 L510.88,412.07 L511.01,412.01 L511.13,411.94 L511.25,411.88 L511.38,411.81 L511.50,411.75 L511.63,411.69 L511.75,411.62 L511.87,411.56 L512.00,411.49 L512.12,411.43 L512.24,411.36 L512.37,411.30 L512.49,411.23 L512.61,411.16 L512.73,411.10 L512.85,411.03 L512.98,410.96 L513.10,410.89 L513.22,410.82 L513.34,410.75 L513.46,410.68 L513.58,410.60 L513.70,410.53 L513.82,410.46 L513.93,410.39 L514.05,410.31 L514.17,410.24 L514.29,410.17 L514.41,410.09 L514.53,410.02 L514.64,409.94 L514.76,409.87 L514.88,409.79 L515.00,409.72 L515.11,409.64 L515.23,409.57 L515.35,409.49 L515.46,409.41 L515.58,409.34 L515.70,409.26 L515.81,409.18 L515.93,409.11 L516.04,409.03 L516.16,408.95 L516.28,408.87 L516.39,408.80 L516.51,408.72 L516.62,408.64" stroke="#111" stroke-width="1.2" fill="none"/>
<path d="M517.71,407.92 L517.83,407.84 L517.95,407.76 L518.07,407.68 L518.19,407.60 L518.31,407.51 L518.44,407.43 L518.56,407.35 L518.68,407.27 L518.80,407.19 L518.93,407.11 L519.05,407.03 L519.17,406.96 L519.30,406.88 L519.42,406.80 L519.54,406.72 L519.67,406.64 L519.79,406.56 L519.92,406.49 L520.04,406.41 L520.17,406.33 L520.29,406.26 L520.42,406.18 L520.54,406.11 L520.67,406.04 L520.79,405.96 L520.92,405.89 L521.05,405.82 L521.18,405.74 L521.30,405.67 L521.43,405.60 L521.56,405.53 L521.69,405.46 L521.82,405.39 L521.94,405.32 L522.07,405.25 L522.20,405.18 L522.33,405.11 L522.46,405.04 L522.59,404.97 L522.72,404.91 L522.85,404.84 L522.98,404.77 L523.11,404.70 L523.24,404.63 L523.37,404.57 L523.50,404.50 L523.63,404.43 L523.76,404.36 L523.89,404.30 L524.02,404.23 L524.15,404.16 L524.28,404.09 L524.40,404.02 L524.53,403.96 L524.66,403.89 L524.79,403.82 L524.92,403.75 L525.05,403.68 L525.18,403.61 L525.31,403.54 L525.44,403.47 L525.57,403.40 L525.69,403.33 L525.82,403.26 L525.95,403.19 L526.08,403.12 L526.21,403.05 L526.33,402.97 L526.46,402.90 L526.59,402.83 L526.71,402.75 L526.84,402.68 L526.96,402.60 L527.09,402.53 L527.21,402.45 L527.34,402.38 L527.46,402.30 L527.59,402.22 L527.71,402.14 L527.83,402.06 L527.96,401.98 L528.08,401.90 L528.20,401.82 L528.32,401.74 L528.44,401.66 L528.56,401.57 L528.68,401.49 L528.80,401.41 L528.92,401.32 L529.04,401.23 L529.16,401.15 L529.27,401.06 L529.39,400.97 L529.51,400.88 L529.62,400.79" stroke="#111" stroke-width="1.2" fill="none"/>
<path d="M530.63,399.97 L530.81,399.81 L530.98,399.66 L531.15,399.50 L531.33,399.34 L531.50,399.17 L531.67,399.01 L531.83,398.84 L532.00,398.67 L532.16,398.51 L532.33,398.33 L532.49,398.16 L532.65,397.99 L532.81,397.82 L532.97,397.64 L533.12,397.46 L533.28,397.29 L533.43,397.11 L533.58,396.93 L533.74,396.75 L533.89,396.56 L534.03,396.38 L534.18,396.20 L534.33,396.01 L534.47,395.83 L534.62,395.64 L534.76,395.45 L534.90,395.26 L535.05,395.08 L535.19,394.89 L535.33,394.70 L535.46,394.50 L535.60,394.31 L535.74,394.12 L535.87,393.93 L536.01,393.73 L536.14,393.54 L536.28,393.34 L536.41,393.15 L536.54,392.95 L536.67,392.76 L536.80,392.56 L536.93,392.36 L537.05,392.16 L537.18,391.96 L537.31,391.77 L537.43,391.57 L537.56,391.37 L537.68,391.17 L537.81,390.96 L537.93,390.76 L538.05,390.56 L538.17,390.36 L538.29,390.16 L538.41,389.95 L538.53,389.75 L538.65,389.55 L538.77,389.34 L538.89,389.14 L539.00,388.93 L539.12,388.73 L539.23,388.52 L539.35,388.31 L539.46,388.11 L539.58,387.90 L539.69,387.69 L539.80,387.49 L539.92,387.28 L540.03,387.07 L540.14,386.86 L540.25,386.66 L540.36,386.45 L540.47,386.24 L540.58,386.03 L540.69,385.82 L540.79,385.61 L540.90,385.40 L541.01,385.19 L541.11,384.98 L541.22,384.77 L541.33,384.56 L541.43,384.35 L541.54,384.13 L541.64,383.92 L541.74,383.71 L541.85,383.50 L541.95,383.29 L542.05,383.07 L542.15,382.86 L542.26,382.65 L542.36,382.43 L542.46,382.22 L542.55,382.01 L542.65,381.79 L542.75,381.58 L542.84,381.36" stroke="#111" stroke-width="1.2" fill="none"/>
<path d="M543.35,380.16 L543.58,379.57 L543.81,378.97 L544.04,378.37 L544.25,377.77 L544.46,377.16 L544.66,376.56 L544.86,375.95 L545.05,375.34 L545.24,374.73 L545.42,374.11 L545.60,373.50 L545.77,372.88 L545.94,372.27 L546.10,371.65 L546.26,371.03 L546.42,370.41 L546.57,369.79 L546.72,369.17 L546.87,368.54 L547.00,367.92 L547.13,367.29 L547.25,366.66 L547.36,366.03 L547.47,365.40 L547.57,364.77 L547.67,364.14 L547.77,363.51 L547.86,362.88 L547.95,362.24 L548.04,361.61 L548.13,360.98 L548.22,360.34 L548.30,359.71 L548.39,359.07 L548.47,358.44 L548.55,357.81 L548.63,357.17 L548.72,356.54 L548.80,355.90 L548.88,355.27 L548.96,354.63 L549.04,354.00 L549.12,353.36 L549.20,352.73 L549.28,352.10 L549.36,351.46 L549.44,350.83 L549.53,350.19 L549.61,349.56 L549.69,348.92 L549.78,348.29 L549.86,347.66 L549.95,347.02 L550.04,346.39 L550.13,345.76 L550.22,345.12 L550.32,344.49 L550.42,343.86 L550.51,343.23 L550.61,342.60 L550.71,341.96 L550.80,341.33 L550.90,340.70 L550.99,340.07 L551.09,339.43 L551.18,338.80 L551.28,338.17 L551.38,337.54 L551.48,336.90 L551.58,336.27 L551.68,335.64 L551.78,335.01 L551.89,334.38 L551.99,333.75 L552.10,333.12 L552.22,332.49 L552.34,331.86 L552.47,331.24 L552.61,330.61 L552.75,329.99 L552.90,329.37 L553.06,328.75 L553.22,328.13 L553.38,327.51 L553.55,326.89 L553.72,326.27 L553.89,325.66 L554.08,325.05 L554.27,324.44 L554.47,323.83 L554.68,323.23 L554.91,322.63 L555.15,322.04 L555.42,321.46 L555.73,320.90" stroke="#111" stroke-width="1.2" fill="none"/>
<path d="M556.41,319.79 L556.54,319.57 L556.68,319.35 L556.82,319.14 L556.97,318.92 L557.12,318.71 L557.27,318.50 L557.43,318.30 L557.59,318.10 L557.76,317.91 L557.94,317.73 L558.14,317.56 L558.35,317.41 L558.57,317.28 L558.81,317.20 L559.07,317.17 L559.32,317.20 L559.57,317.27 L559.80,317.38 L560.02,317.51 L560.23,317.66 L560.43,317.83 L560.62,318.00 L560.81,318.18 L560.99,318.36 L561.16,318.55 L561.34,318.74 L561.51,318.93 L561.68,319.12 L561.85,319.32 L562.01,319.51 L562.17,319.72 L562.31,319.94 L562.44,320.16 L562.57,320.38 L562.69,320.61 L562.80,320.84 L562.92,321.07 L563.03,321.30 L563.13,321.54 L563.24,321.77 L563.34,322.01 L563.44,322.25 L563.54,322.48 L563.64,322.72 L563.74,322.96 L563.84,323.20 L563.94,323.43 L564.03,323.67 L564.13,323.91 L564.23,324.15 L564.33,324.39 L564.43,324.63 L564.52,324.86 L564.63,325.10 L564.73,325.34 L564.83,325.57 L564.93,325.81 L565.03,326.05 L565.13,326.28 L565.23,326.52 L565.33,326.76 L565.43,327.00 L565.53,327.23 L565.63,327.47 L565.72,327.71 L565.82,327.95 L565.91,328.19 L566.01,328.43 L566.11,328.67 L566.20,328.91 L566.30,329.15 L566.39,329.38 L566.49,329.62 L566.58,329.86 L566.68,330.10 L566.78,330.34 L566.87,330.58 L566.97,330.82 L567.07,331.05 L567.17,331.29 L567.27,331.53 L567.38,331.76 L567.48,332.00 L567.58,332.24 L567.69,332.47 L567.79,332.71 L567.90,332.94 L568.01,333.17 L568.11,333.41 L568.22,333.64 L568.33,333.88 L568.44,334.11 L568.55,334.34 L568.65,334.58 L568.76,334.81" stroke="#111" stroke-width="1.2" fill="none"/>
<path d="M569.30,335.99 L569.59,336.64 L569.88,337.29 L570.15,337.94 L570.42,338.59 L570.68,339.25 L570.93,339.91 L571.18,340.58 L571.41,341.25 L571.64,341.92 L571.85,342.59 L572.06,343.27 L572.26,343.95 L572.46,344.63 L572.64,345.31 L572.82,346.00 L572.98,346.69 L573.13,347.38 L573.27,348.07 L573.40,348.77 L573.53,349.47 L573.65,350.16 L573.77,350.86 L573.89,351.56 L574.00,352.26 L574.11,352.96 L574.22,353.66 L574.32,354.36 L574.43,355.06 L574.53,355.76 L574.63,356.46 L574.73,357.16 L574.83,357.86 L574.93,358.56 L575.02,359.26 L575.12,359.97 L575.22,360.67 L575.31,361.37 L575.41,362.07 L575.51,362.77 L575.60,363.47 L575.70,364.17 L575.79,364.88 L575.89,365.58 L575.99,366.28 L576.08,366.98 L576.18,367.68 L576.28,368.38 L576.38,369.08 L576.48,369.79 L576.58,370.49 L576.68,371.19 L576.79,371.89 L576.89,372.59 L577.00,373.29 L577.11,373.99 L577.22,374.69 L577.33,375.38 L577.45,376.08 L577.56,376.78 L577.67,377.48 L577.78,378.18 L577.89,378.88 L578.01,379.58 L578.12,380.28 L578.23,380.98 L578.34,381.68 L578.46,382.38 L578.57,383.07 L578.68,383.77 L578.80,384.47 L578.91,385.17 L579.02,385.87 L579.14,386.57 L579.26,387.27 L579.37,387.97 L579.49,388.66 L579.61,389.36 L579.73,390.06 L579.85,390.76 L579.97,391.45 L580.09,392.15 L580.22,392.85 L580.34,393.55 L580.47,394.24 L580.60,394.94 L580.73,395.63 L580.86,396.33 L580.99,397.03 L581.11,397.72 L581.24,398.42 L581.36,399.12 L581.49,399.81 L581.62,400.51 L581.74,401.21" stroke="#111" stroke-width="1.2" fill="none"/>
<path d="M581.99,402.48 L582.03,402.70 L582.07,402.91 L582.12,403.13 L582.16,403.34 L582.20,403.56 L582.25,403.77 L582.29,403.99 L582.34,404.20 L582.39,404.42 L582.44,404.63 L582.49,404.85 L582.54,405.06 L582.59,405.27 L582.64,405.48 L582.70,405.70 L582.76,405.91 L582.82,406.12 L582.88,406.33 L582.94,406.54 L583.01,406.75 L583.09,406.95 L583.17,407.16 L583.25,407.36 L583.34,407.56 L583.42,407.76 L583.51,407.97 L583.60,408.17 L583.69,408.37 L583.78,408.56 L583.88,408.76 L583.97,408.96 L584.07,409.16 L584.17,409.35 L584.27,409.55 L584.37,409.74 L584.48,409.94 L584.58,410.13 L584.69,410.32 L584.80,410.51 L584.91,410.70 L585.03,410.88 L585.14,411.07 L585.26,411.25 L585.38,411.44 L585.51,411.62 L585.63,411.80 L585.76,411.98 L585.89,412.15 L586.03,412.32 L586.17,412.50 L586.30,412.67 L586.45,412.83 L586.59,413.00 L586.74,413.16 L586.89,413.32 L587.04,413.48 L587.20,413.63 L587.36,413.78 L587.52,413.93 L587.69,414.07 L587.85,414.22 L588.02,414.36 L588.19,414.50 L588.36,414.64 L588.53,414.78 L588.70,414.92 L588.87,415.05 L589.04,415.19 L589.22,415.32 L589.39,415.45 L589.57,415.58 L589.74,415.71 L589.92,415.84 L590.10,415.96 L590.28,416.09 L590.47,416.21 L590.65,416.33 L590.84,416.45 L591.02,416.56 L591.21,416.68 L591.40,416.79 L591.59,416.90 L591.78,417.00 L591.98,417.10 L592.17,417.20 L592.37,417.30 L592.57,417.40 L592.77,417.49 L592.97,417.58 L593.17,417.66 L593.37,417.74 L593.58,417.82 L593.79,417.89 L593.99,417.96 L594.20,418.03" stroke="#111" stroke-width="1.2" fill="none"/>
<path d="M595.47,418.33 L595.59,418.36 L595.71,418.38 L595.83,418.40 L595.95,418.43 L596.08,418.45 L596.20,418.47 L596.32,418.50 L596.44,418.52 L596.56,418.54 L596.69,418.56 L596.81,418.58 L596.93,418.60 L597.05,418.63 L597.18,418.65 L597.30,418.66 L597.42,418.68 L597.54,418.70 L597.67,418.72 L597.79,418.74 L597.91,418.76 L598.04,418.78 L598.16,418.79 L598.28,418.81 L598.40,418.83 L598.53,418.84 L598.65,418.86 L598.77,418.88 L598.90,418.89 L599.02,418.91 L599.14,418.92 L599.27,418.94 L599.39,418.95 L599.51,418.97 L599.64,418.98 L599.76,419.00 L599.88,419.01 L600.01,419.03 L600.13,419.04 L600.25,419.05 L600.38,419.07 L600.50,419.08 L600.62,419.09 L600.75,419.11 L600.87,419.12 L600.99,419.13 L601.12,419.15 L601.24,419.16 L601.36,419.17 L601.49,419.19 L601.61,419.20 L601.73,419.21 L601.86,419.22 L601.98,419.24 L602.11,419.25 L602.23,419.26 L602.35,419.28 L602.48,419.29 L602.60,419.30 L602.72,419.31 L602.85,419.33 L602.97,419.34 L603.09,419.35 L603.22,419.37 L603.34,419.38 L603.46,419.39 L603.59,419.41 L603.71,419.42 L603.83,419.43 L603.96,419.45 L604.08,419.46 L604.20,419.48 L604.33,419.49 L604.45,419.50 L604.57,419.52 L604.70,419.53 L604.82,419.55 L604.94,419.56 L605.07,419.58 L605.19,419.59 L605.31,419.61 L605.44,419.62 L605.56,419.64 L605.68,419.66 L605.81,419.67 L605.93,419.69 L606.05,419.71 L606.17,419.73 L606.30,419.74 L606.42,419.76 L606.54,419.78 L606.67,419.80 L606.79,419.82 L606.91,419.84 L607.03,419.85 L607.16,419.87" stroke="#111" stroke-width="1.2" fill="none"/>
<path d="M608.44,420.08 L608.56,420.09 L608.69,420.11 L608.81,420.13 L608.93,420.15 L609.06,420.17 L609.18,420.19 L609.30,420.21 L609.43,420.24 L609.55,420.26 L609.67,420.28 L609.79,420.30 L609.92,420.32 L610.04,420.34 L610.16,420.36 L610.29,420.38 L610.41,420.40 L610.53,420.42 L610.65,420.44 L610.78,420.46 L610.90,420.48 L611.02,420.50 L611.15,420.52 L611.27,420.54 L611.39,420.56 L611.52,420.58 L611.64,420.60 L611.76,420.62 L611.88,420.64 L612.01,420.67 L612.13,420.69 L612.25,420.71 L612.38,420.73 L612.50,420.75 L612.62,420.77 L612.74,420.79 L612.87,420.81 L612.99,420.83 L613.11,420.85 L613.24,420.87 L613.36,420.89 L613.48,420.91 L613.61,420.93 L613.73,420.95 L613.85,420.97 L613.97,420.99 L614.10,421.01 L614.22,421.03 L614.34,421.05 L614.47,421.07 L614.59,421.09 L614.71,421.11 L614.84,421.13 L614.96,421.15 L615.08,421.17 L615.20,421.19 L615.33,421.21 L615.45,421.23 L615.57,421.25 L615.70,421.27 L615.82,421.29 L615.94,421.31 L616.07,421.33 L616.19,421.35 L616.31,421.37 L616.43,421.39 L616.56,421.41 L616.68,421.43 L616.80,421.45 L616.93,421.47 L617.05,421.49 L617.17,421.51 L617.30,421.53 L617.42,421.55 L617.54,421.57 L617.66,421.59 L617.79,421.61 L617.91,421.63 L618.03,421.65 L618.16,421.67 L618.28,421.69 L618.40,421.71 L618.53,421.73 L618.65,421.75 L618.77,421.77 L618.89,421.79 L619.02,421.81 L619.14,421.83 L619.26,421.85 L619.39,421.87 L619.51,421.89 L619.63,421.91 L619.76,421.93 L619.88,421.96 L620.00,421.98 L620.12,422.00" stroke="#111" stroke-width="1.2" fill="none"/>
<path d="M425.62,421.85 L425.66,421.82 L425.69,421.79 L425.73,421.75 L425.76,421.72 L425.80,421.69 L425.83,421.66 L425.87,421.62 L425.90,421.59 L425.93,421.56 L425.97,421.53 L426.00,421.50 L426.04,421.47" stroke="#ee1111" stroke-width="1.2" fill="none"/>
<path d="M427.02,420.61 L427.11,420.54 L427.19,420.46 L427.28,420.39 L427.37,420.32 L427.46,420.25 L427.55,420.17 L427.64,420.10 L427.73,420.03 L427.82,419.96 L427.91,419.89 L428.00,419.82 L428.09,419.75 L428.18,419.68 L428.28,419.62 L428.37,419.55 L428.46,419.48 L428.55,419.41 L428.65,419.35 L428.74,419.28 L428.83,419.21 L428.93,419.15 L429.02,419.08 L429.12,419.02 L429.21,418.95 L429.31,418.89 L429.40,418.83 L429.50,418.76 L429.59,418.70 L429.69,418.64 L429.79,418.58 L429.88,418.52 L429.98,418.46 L430.08,418.40 L430.18,418.34 L430.28,418.28 L430.37,418.22 L430.47,418.17 L430.57,418.11 L430.67,418.05 L430.77,418.00 L430.87,417.94 L430.97,417.89 L431.07,417.83 L431.18,417.78 L431.28,417.73 L431.38,417.67 L431.48,417.62 L431.58,417.57 L431.69,417.52 L431.79,417.47 L431.89,417.42 L432.00,417.38 L432.10,417.33 L432.21,417.28 L432.31,417.23 L432.42,417.19 L432.52,417.14 L432.63,417.10 L432.73,417.06 L432.84,417.01 L432.95,416.97 L433.05,416.93 L433.16,416.89 L433.27,416.85 L433.38,416.81 L433.48,416.77 L433.59,416.74 L433.70,416.70 L433.81,416.66 L433.92,416.63 L434.03,416.59 L434.14,416.56 L434.25,416.53 L434.36,416.50 L434.47,416.47 L434.58,416.44 L434.69,416.41 L434.80,416.38 L434.91,416.35 L435.02,416.33 L435.13,416.30 L435.25,416.28 L435.36,416.25 L435.47,416.23 L435.58,416.21 L435.70,416.19 L435.81,416.17 L435.92,416.15 L436.03,416.13 L436.15,416.11 L436.26,416.10 L436.37,416.08 L436.49,416.07 L436.60,416.05 L436.72,416.04 L436.83,416.03 L436.94,416.02 L437.06,416.01 L437.17,416.00 L437.29,415.99 L437.40,415.99 L437.52,415.98 L437.63,415.98 L437.74,415.97 L437.86,415.97 L437.97,415.97 L438.09,415.97 L438.20,415.97 L438.32,415.97 L438.43,415.98 L438.55,415.99 L438.66,416.00 L438.77,416.02" stroke="#ee1111" stroke-width="1.2" fill="none"/>
<path d="M440.03,416.34 L440.14,416.39 L440.25,416.43 L440.36,416.47 L440.46,416.52 L440.57,416.57 L440.68,416.62 L440.78,416.67 L440.89,416.72 L440.99,416.77 L441.10,416.83 L441.20,416.88 L441.31,416.94 L441.41,416.99 L441.51,417.05 L441.61,417.11 L441.71,417.17 L441.81,417.23 L441.92,417.29 L442.02,417.35 L442.12,417.41 L442.21,417.48 L442.31,417.54 L442.41,417.60 L442.51,417.67 L442.61,417.73 L442.71,417.80 L442.80,417.86 L442.90,417.93 L443.00,418.00 L443.09,418.06 L443.19,418.13 L443.29,418.20 L443.38,418.26 L443.48,418.33 L443.57,418.40 L443.67,418.47 L443.76,418.54 L443.86,418.61 L443.95,418.68 L444.05,418.74 L444.14,418.81 L444.24,418.88 L444.33,418.95 L444.43,419.02 L444.52,419.09 L444.62,419.16 L444.71,419.23 L444.81,419.30 L444.90,419.37 L445.00,419.44 L445.09,419.51 L445.19,419.58 L445.28,419.65 L445.38,419.71 L445.47,419.78 L445.57,419.85 L445.66,419.92 L445.76,419.99 L445.85,420.06 L445.95,420.12 L446.05,420.19 L446.14,420.26 L446.24,420.32 L446.34,420.39 L446.43,420.46 L446.53,420.52 L446.63,420.59 L446.73,420.65 L446.83,420.71 L446.92,420.78 L447.02,420.84 L447.12,420.90 L447.22,420.96 L447.32,421.03 L447.42,421.09 L447.53,421.14 L447.63,421.20 L447.73,421.26 L447.83,421.32 L447.94,421.37 L448.04,421.43 L448.14,421.48 L448.25,421.54 L448.35,421.59 L448.46,421.64 L448.57,421.69 L448.67,421.74 L448.78,421.78 L448.89,421.83 L449.00,421.87 L449.11,421.91 L449.22,421.95 L449.33,421.99 L449.44,422.03 L449.55,422.06 L449.67,422.10 L449.78,422.13 L449.89,422.16 L450.01,422.18 L450.12,422.21 L450.24,422.23 L450.35,422.25 L450.47,422.26 L450.59,422.28 L450.70,422.29 L450.82,422.29 L450.94,422.30 L451.06,422.30 L451.17,422.30 L451.29,422.30 L451.41,422.30 L451.52,422.30 L451.64,422.30 L451.76,422.30" stroke="#ee1111" stroke-width="1.2" fill="none"/>
<path d="M453.06,422.30 L453.16,422.30 L453.26,422.30 L453.37,422.30 L453.47,422.30 L453.57,422.30 L453.68,422.30 L453.78,422.30 L453.88,422.30 L453.98,422.30 L454.09,422.30 L454.19,422.30 L454.29,422.30 L454.39,422.30 L454.50,422.30 L454.60,422.30 L454.70,422.30 L454.80,422.30 L454.91,422.30 L455.01,422.30 L455.11,422.30 L455.21,422.30 L455.32,422.30 L455.42,422.30 L455.52,422.30 L455.63,422.30 L455.73,422.30 L455.83,422.30 L455.93,422.30 L456.04,422.30 L456.14,422.30 L456.24,422.30 L456.34,422.30 L456.45,422.30 L456.55,422.30 L456.65,422.30 L456.75,422.30 L456.86,422.30 L456.96,422.30 L457.06,422.30 L457.16,422.30 L457.27,422.30 L457.37,422.30 L457.47,422.30 L457.58,422.30 L457.68,422.30 L457.78,422.30 L457.88,422.30 L457.99,422.30 L458.09,422.30 L458.19,422.30 L458.29,422.30 L458.40,422.30 L458.50,422.30 L458.60,422.30 L458.70,422.30 L458.81,422.30 L458.91,422.30 L459.01,422.30 L459.11,422.30 L459.22,422.30 L459.32,422.30 L459.42,422.30 L459.53,422.30 L459.63,422.30 L459.73,422.30 L459.83,422.30 L459.94,422.30 L460.04,422.30 L460.14,422.30 L460.24,422.30 L460.35,422.30 L460.45,422.30 L460.55,422.30 L460.65,422.30 L460.76,422.30 L460.86,422.30 L460.96,422.30 L461.06,422.30 L461.17,422.30 L461.27,422.30 L461.37,422.30 L461.48,422.30 L461.58,422.30 L461.68,422.30 L461.78,422.30 L461.89,422.30 L461.99,422.30 L462.09,422.30 L462.19,422.30 L462.30,422.30 L462.40,422.30 L462.50,422.30 L462.60,422.30 L462.71,422.30 L462.81,422.30 L462.91,422.30 L463.01,422.30 L463.12,422.30 L463.22,422.30 L463.32,422.30 L463.43,422.30 L463.53,422.30 L463.63,422.30 L463.73,422.30 L463.84,422.30 L463.94,422.30 L464.04,422.30 L464.14,422.30 L464.25,422.30 L464.35,422.30 L464.45,422.30 L464.55,422.30 L464.66,422.30 L464.76,422.30" stroke="#ee1111" stroke-width="1.2" fill="none"/>
<path d="M466.06,422.30 L466.21,422.30 L466.36,422.30 L466.51,422.30 L466.66,422.30 L466.81,422.30 L466.96,422.30 L467.10,422.30 L467.25,422.30 L467.40,422.30 L467.55,422.30 L467.70,422.30 L467.85,422.30 L468.00,422.30 L468.15,422.28 L468.29,422.25 L468.44,422.21 L468.58,422.16 L468.72,422.10 L468.85,422.03 L468.98,421.96 L469.10,421.88 L469.23,421.79 L469.35,421.70 L469.46,421.61 L469.58,421.51 L469.69,421.41 L469.80,421.31 L469.90,421.21 L470.01,421.10 L470.11,420.99 L470.21,420.88 L470.31,420.77 L470.41,420.66 L470.50,420.54 L470.60,420.43 L470.69,420.31 L470.78,420.19 L470.87,420.07 L470.96,419.95 L471.05,419.83 L471.14,419.71 L471.23,419.59 L471.31,419.47 L471.40,419.35 L471.48,419.23 L471.57,419.10 L471.65,418.98 L471.73,418.85 L471.82,418.73 L471.90,418.61 L471.98,418.48 L472.06,418.36 L472.14,418.23 L472.22,418.10 L472.30,417.98 L472.38,417.85 L472.46,417.73 L472.54,417.60 L472.62,417.47 L472.70,417.35 L472.78,417.22 L472.86,417.09 L472.94,416.97 L473.02,416.84 L473.10,416.71 L473.18,416.59 L473.26,416.46 L473.33,416.33 L473.41,416.21 L473.49,416.08 L473.57,415.96 L473.65,415.83 L473.73,415.70 L473.81,415.58 L473.89,415.45 L473.97,415.33 L474.05,415.20 L474.13,415.07 L474.22,414.95 L474.30,414.82 L474.38,414.70 L474.46,414.58 L474.55,414.45 L474.63,414.33 L474.72,414.21 L474.80,414.08 L474.89,413.96 L474.97,413.84 L475.06,413.72 L475.15,413.60 L475.24,413.48 L475.33,413.36 L475.42,413.24 L475.51,413.13 L475.61,413.01 L475.70,412.90 L475.80,412.78 L475.90,412.67 L476.00,412.56 L476.10,412.45 L476.20,412.34 L476.31,412.24 L476.42,412.13 L476.53,412.03 L476.64,411.94 L476.76,411.84 L476.88,411.75 L477.00,411.66 L477.12,411.58 L477.25,411.51 L477.38,411.44 L477.52,411.38 L477.66,411.32" stroke="#ee1111" stroke-width="1.2" fill="none"/>
<path d="M478.94,411.25 L479.06,411.26 L479.17,411.27 L479.28,411.28 L479.39,411.29 L479.50,411.31 L479.61,411.32 L479.72,411.34 L479.82,411.36 L479.93,411.38 L480.04,411.40 L480.15,411.42 L480.26,411.45 L480.37,411.47 L480.48,411.50 L480.58,411.52 L480.69,411.55 L480.80,411.58 L480.91,411.61 L481.01,411.64 L481.12,411.67 L481.22,411.70 L481.33,411.73 L481.44,411.76 L481.54,411.80 L481.65,411.83 L481.75,411.87 L481.86,411.90 L481.96,411.94 L482.07,411.98 L482.17,412.02 L482.28,412.05 L482.38,412.09 L482.48,412.13 L482.59,412.17 L482.69,412.21 L482.79,412.26 L482.89,412.30 L483.00,412.34 L483.10,412.38 L483.20,412.42 L483.30,412.47 L483.41,412.51 L483.51,412.56 L483.61,412.60 L483.71,412.65 L483.81,412.69 L483.91,412.74 L484.01,412.78 L484.11,412.83 L484.21,412.88 L484.32,412.92 L484.42,412.97 L484.52,413.02 L484.62,413.06 L484.72,413.11 L484.82,413.16 L484.92,413.21 L485.02,413.26 L485.12,413.30 L485.22,413.35 L485.32,413.40 L485.42,413.45 L485.52,413.50 L485.61,413.55 L485.71,413.60 L485.81,413.64 L485.91,413.69 L486.01,413.74 L486.11,413.79 L486.21,413.84 L486.31,413.89 L486.41,413.94 L486.51,413.99 L486.61,414.04 L486.71,414.09 L486.81,414.13 L486.91,414.18 L487.01,414.23 L487.11,414.28 L487.21,414.33 L487.31,414.38 L487.41,414.42 L487.51,414.47 L487.61,414.52 L487.71,414.57 L487.81,414.62 L487.91,414.66 L488.01,414.71 L488.11,414.76 L488.21,414.80 L488.31,414.85 L488.41,414.90 L488.51,414.94 L488.61,414.99 L488.72,415.03 L488.82,415.08 L488.92,415.12 L489.02,415.16 L489.12,415.21 L489.22,415.25 L489.33,415.29 L489.43,415.34 L489.53,415.38 L489.63,415.42 L489.74,415.46 L489.84,415.50 L489.94,415.54 L490.05,415.58 L490.15,415.62 L490.26,415.66 L490.36,415.69 L490.47,415.73 L490.57,415.77 L490.68,415.80" stroke="#ee1111" stroke-width="1.2" fill="none"/>
<path d="M491.92,416.18 L492.02,416.21 L492.12,416.25 L492.22,416.28 L492.33,416.31 L492.43,416.34 L492.53,416.37 L492.63,416.41 L492.73,416.44 L492.83,416.47 L492.94,416.50 L493.04,416.54 L493.14,416.57 L493.24,416.60 L493.34,416.63 L493.44,416.67 L493.55,416.70 L493.65,416.73 L493.75,416.77 L493.85,416.80 L493.95,416.83 L494.05,416.87 L494.15,416.90 L494.26,416.93 L494.36,416.97 L494.46,417.00 L494.56,417.03 L494.66,417.07 L494.76,417.10 L494.86,417.13 L494.96,417.17 L495.07,417.20 L495.17,417.23 L495.27,417.27 L495.37,417.30 L495.47,417.33 L495.57,417.37 L495.67,417.40 L495.78,417.43 L495.88,417.47 L495.98,417.50 L496.08,417.53 L496.18,417.57 L496.28,417.60 L496.39,417.63 L496.49,417.67 L496.59,417.70 L496.69,417.73 L496.79,417.76 L496.89,417.80 L497.00,417.83 L497.10,417.86 L497.20,417.89 L497.30,417.92 L497.40,417.95 L497.50,417.99 L497.61,418.02 L497.71,418.05 L497.81,418.08 L497.91,418.11 L498.02,418.14 L498.12,418.17 L498.22,418.20 L498.32,418.23 L498.42,418.26 L498.53,418.29 L498.63,418.32 L498.73,418.35 L498.84,418.38 L498.94,418.41 L499.04,418.44 L499.14,418.47 L499.25,418.49 L499.35,418.52 L499.45,418.55 L499.56,418.58 L499.66,418.60 L499.76,418.63 L499.87,418.66 L499.97,418.68 L500.07,418.71 L500.18,418.73 L500.28,418.76 L500.38,418.78 L500.49,418.81 L500.59,418.83 L500.70,418.86 L500.80,418.88 L500.90,418.90 L501.01,418.93 L501.11,418.95 L501.22,418.97 L501.32,418.99 L501.43,419.01 L501.53,419.04 L501.64,419.06 L501.74,419.08 L501.85,419.10 L501.95,419.11 L502.06,419.13 L502.16,419.15 L502.27,419.17 L502.37,419.19 L502.48,419.20 L502.58,419.22 L502.69,419.24 L502.79,419.25 L502.90,419.27 L503.00,419.28 L503.11,419.29 L503.22,419.31 L503.32,419.32 L503.43,419.33 L503.53,419.34" stroke="#ee1111" stroke-width="1.2" fill="none"/>
<path d="M504.83,419.44 L504.93,419.44 L505.04,419.44 L505.14,419.45 L505.24,419.45 L505.34,419.45 L505.45,419.45 L505.55,419.45 L505.65,419.45 L505.75,419.45 L505.86,419.45 L505.96,419.45 L506.06,419.45 L506.17,419.45 L506.27,419.45 L506.37,419.45 L506.47,419.45 L506.58,419.45 L506.68,419.45 L506.78,419.45 L506.88,419.45 L506.99,419.45 L507.09,419.45 L507.19,419.45 L507.29,419.44 L507.40,419.44 L507.50,419.44 L507.60,419.44 L507.71,419.44 L507.81,419.44 L507.91,419.44 L508.01,419.44 L508.12,419.44 L508.22,419.44 L508.32,419.44 L508.42,419.44 L508.53,419.44 L508.63,419.43 L508.73,419.43 L508.83,419.43 L508.94,419.43 L509.04,419.43 L509.14,419.43 L509.25,419.43 L509.35,419.43 L509.45,419.43 L509.55,419.42 L509.66,419.42 L509.76,419.42 L509.86,419.42 L509.96,419.42 L510.07,419.42 L510.17,419.42 L510.27,419.41 L510.37,419.41 L510.48,419.41 L510.58,419.41 L510.68,419.41 L510.79,419.41 L510.89,419.40 L510.99,419.40 L511.09,419.40 L511.20,419.40 L511.30,419.40 L511.40,419.40 L511.50,419.39 L511.61,419.39 L511.71,419.39 L511.81,419.39 L511.91,419.39 L512.02,419.38 L512.12,419.38 L512.22,419.38 L512.32,419.38 L512.43,419.38 L512.53,419.37 L512.63,419.37 L512.74,419.37 L512.84,419.37 L512.94,419.36 L513.04,419.36 L513.15,419.36 L513.25,419.36 L513.35,419.36 L513.45,419.35 L513.56,419.35 L513.66,419.35 L513.76,419.35 L513.86,419.34 L513.97,419.34 L514.07,419.34 L514.17,419.33 L514.27,419.33 L514.38,419.33 L514.48,419.33 L514.58,419.32 L514.69,419.32 L514.79,419.32 L514.89,419.31 L514.99,419.31 L515.10,419.31 L515.20,419.31 L515.30,419.30 L515.40,419.30 L515.51,419.30 L515.61,419.29 L515.71,419.29 L515.81,419.29 L515.92,419.28 L516.02,419.28 L516.12,419.28 L516.22,419.27 L516.33,419.27 L516.43,419.27 L516.53,419.26" stroke="#ee1111" stroke-width="1.2" fill="none"/>
<path d="M517.83,419.22 L517.94,419.21 L518.05,419.21 L518.16,419.21 L518.27,419.20 L518.38,419.20 L518.48,419.19 L518.59,419.19 L518.70,419.19 L518.81,419.18 L518.92,419.18 L519.03,419.17 L519.14,419.17 L519.25,419.16 L519.35,419.16 L519.46,419.15 L519.57,419.15 L519.68,419.14 L519.79,419.14 L519.90,419.14 L520.01,419.13 L520.12,419.12 L520.22,419.12 L520.33,419.11 L520.44,419.10 L520.55,419.09 L520.66,419.08 L520.77,419.07 L520.87,419.06 L520.98,419.04 L521.09,419.03 L521.20,419.01 L521.30,418.99 L521.41,418.98 L521.52,418.96 L521.63,418.94 L521.73,418.92 L521.84,418.90 L521.95,418.88 L522.05,418.85 L522.16,418.83 L522.27,418.81 L522.37,418.78 L522.48,418.75 L522.58,418.73 L522.69,418.70 L522.79,418.67 L522.90,418.65 L523.00,418.62 L523.11,418.59 L523.21,418.56 L523.32,418.52 L523.42,418.49 L523.53,418.46 L523.63,418.43 L523.73,418.39 L523.84,418.36 L523.94,418.33 L524.04,418.29 L524.14,418.25 L524.25,418.22 L524.35,418.18 L524.45,418.14 L524.55,418.11 L524.66,418.07 L524.76,418.03 L524.86,417.99 L524.96,417.95 L525.06,417.91 L525.16,417.87 L525.26,417.83 L525.37,417.79 L525.47,417.75 L525.57,417.71 L525.67,417.66 L525.77,417.62 L525.87,417.58 L525.97,417.53 L526.07,417.49 L526.17,417.45 L526.27,417.40 L526.36,417.36 L526.46,417.31 L526.56,417.27 L526.66,417.22 L526.76,417.18 L526.86,417.13 L526.96,417.09 L527.06,417.04 L527.15,416.99 L527.25,416.95 L527.35,416.90 L527.45,416.85 L527.55,416.80 L527.65,416.76 L527.74,416.71 L527.84,416.66 L527.94,416.61 L528.04,416.56 L528.13,416.52 L528.23,416.47 L528.33,416.42 L528.43,416.37 L528.52,416.32 L528.62,416.27 L528.72,416.22 L528.81,416.17 L528.91,416.12 L529.01,416.07 L529.10,416.02 L529.20,415.97 L529.30,415.93 L529.39,415.88 L529.49,415.83" stroke="#ee1111" stroke-width="1.2" fill="none"/>
<path d="M530.64,415.23 L530.86,415.11 L531.08,414.99 L531.29,414.87 L531.51,414.75 L531.72,414.62 L531.93,414.50 L532.14,414.37 L532.35,414.24 L532.55,414.10 L532.76,413.97 L532.96,413.83 L533.16,413.68 L533.36,413.54 L533.56,413.39 L533.76,413.24 L533.95,413.09 L534.14,412.94 L534.33,412.78 L534.52,412.62 L534.70,412.46 L534.89,412.29 L535.07,412.13 L535.25,411.96 L535.42,411.78 L535.60,411.61 L535.77,411.43 L535.94,411.25 L536.11,411.07 L536.27,410.89 L536.44,410.71 L536.60,410.52 L536.76,410.33 L536.91,410.14 L537.07,409.95 L537.22,409.76 L537.37,409.56 L537.52,409.37 L537.67,409.17 L537.81,408.97 L537.95,408.76 L538.08,408.56 L538.21,408.35 L538.33,408.13 L538.46,407.92 L538.57,407.70 L538.69,407.49 L538.80,407.27 L538.91,407.05 L539.02,406.83 L539.12,406.60 L539.22,406.38 L539.32,406.15 L539.42,405.93 L539.52,405.70 L539.61,405.47 L539.70,405.24 L539.79,405.01 L539.88,404.78 L539.97,404.55 L540.05,404.32 L540.14,404.09 L540.22,403.86 L540.30,403.62 L540.38,403.39 L540.46,403.16 L540.53,402.92 L540.61,402.69 L540.68,402.45 L540.75,402.22 L540.83,401.98 L540.90,401.75 L540.97,401.51 L541.04,401.28 L541.11,401.04 L541.17,400.80 L541.24,400.56 L541.30,400.33 L541.37,400.09 L541.43,399.85 L541.50,399.61 L541.56,399.38 L541.62,399.14 L541.68,398.90 L541.74,398.66 L541.80,398.42 L541.86,398.18 L541.92,397.94 L541.98,397.70 L542.03,397.46 L542.09,397.22 L542.15,396.98 L542.20,396.74 L542.26,396.50 L542.30,396.26 L542.35,396.02 L542.40,395.78 L542.44,395.53 L542.48,395.29 L542.52,395.05 L542.55,394.80 L542.59,394.56 L542.63,394.32 L542.66,394.07 L542.69,393.83 L542.73,393.59 L542.76,393.34 L542.79,393.10 L542.82,392.85 L542.85,392.61 L542.88,392.36 L542.91,392.12 L542.94,391.87 L542.97,391.63 L542.99,391.38" stroke="#ee1111" stroke-width="1.2" fill="none"/>
<path d="M543.14,390.09 L543.24,389.18 L543.33,388.27 L543.43,387.36 L543.52,386.45 L543.61,385.54 L543.70,384.63 L543.79,383.72 L543.88,382.80 L543.98,381.89 L544.07,380.98 L544.17,380.07 L544.27,379.16 L544.37,378.25 L544.48,377.34 L544.59,376.43 L544.70,375.52 L544.82,374.62 L544.94,373.71 L545.06,372.80 L545.18,371.89 L545.30,370.98 L545.43,370.08 L545.55,369.17 L545.68,368.26 L545.80,367.36 L545.93,366.45 L546.05,365.54 L546.18,364.63 L546.30,363.73 L546.42,362.82 L546.54,361.91 L546.66,361.00 L546.78,360.10 L546.90,359.19 L547.01,358.28 L547.13,357.37 L547.25,356.46 L547.36,355.55 L547.48,354.64 L547.60,353.74 L547.71,352.83 L547.83,351.92 L547.95,351.01 L548.06,350.10 L548.18,349.19 L548.29,348.29 L548.41,347.38 L548.52,346.47 L548.63,345.56 L548.74,344.65 L548.85,343.74 L548.96,342.83 L549.07,341.92 L549.18,341.01 L549.29,340.10 L549.39,339.19 L549.50,338.29 L549.60,337.38 L549.70,336.47 L549.81,335.55 L549.91,334.64 L550.00,333.73 L550.10,332.82 L550.20,331.91 L550.29,331.00 L550.39,330.09 L550.48,329.18 L550.56,328.27 L550.65,327.36 L550.73,326.44 L550.81,325.53 L550.88,324.62 L550.96,323.71 L551.04,322.79 L551.11,321.88 L551.19,320.97 L551.26,320.06 L551.34,319.14 L551.42,318.23 L551.49,317.32 L551.58,316.41 L551.66,315.49 L551.75,314.58 L551.84,313.67 L551.93,312.76 L552.03,311.85 L552.14,310.94 L552.25,310.03 L552.36,309.12 L552.47,308.21 L552.58,307.30 L552.70,306.40 L552.82,305.49 L552.95,304.58 L553.07,303.67 L553.20,302.77 L553.33,301.86 L553.46,300.95 L553.60,300.05 L553.73,299.14 L553.87,298.24 L554.00,297.33 L554.13,296.42 L554.26,295.52 L554.38,294.61 L554.51,293.70 L554.64,292.80 L554.77,291.89 L554.91,290.99 L555.06,290.08 L555.22,289.18 L555.42,288.29 L555.69,287.41" stroke="#ee1111" stroke-width="1.2" fill="none"/>
<path d="M556.24,286.24 L556.41,285.93 L556.59,285.63 L556.78,285.33 L557.00,285.06 L557.27,284.83 L557.59,284.71 L557.94,284.75 L558.27,284.87 L558.57,285.05 L558.85,285.26 L559.11,285.50 L559.36,285.75 L559.59,286.00 L559.82,286.27 L560.04,286.54 L560.24,286.83 L560.40,287.14 L560.54,287.46 L560.67,287.79 L560.78,288.12 L560.89,288.46 L560.99,288.79 L561.09,289.13 L561.19,289.47 L561.28,289.80 L561.37,290.14 L561.46,290.48 L561.55,290.82 L561.63,291.16 L561.72,291.50 L561.80,291.84 L561.89,292.18 L561.98,292.52 L562.06,292.86 L562.15,293.20 L562.24,293.54 L562.33,293.88 L562.42,294.22 L562.52,294.56 L562.62,294.89 L562.71,295.23 L562.81,295.57 L562.91,295.90 L563.01,296.24 L563.10,296.58 L563.20,296.92 L563.30,297.25 L563.39,297.59 L563.49,297.93 L563.59,298.26 L563.68,298.60 L563.78,298.94 L563.87,299.28 L563.97,299.62 L564.06,299.95 L564.16,300.29 L564.25,300.63 L564.34,300.97 L564.43,301.31 L564.53,301.64 L564.62,301.98 L564.71,302.32 L564.80,302.66 L564.89,303.00 L564.98,303.34 L565.07,303.68 L565.16,304.02 L565.25,304.36 L565.34,304.70 L565.43,305.03 L565.51,305.37 L565.60,305.71 L565.69,306.05 L565.78,306.39 L565.86,306.73 L565.95,307.07 L566.04,307.41 L566.13,307.75 L566.22,308.09 L566.30,308.43 L566.39,308.77 L566.48,309.11 L566.57,309.45 L566.65,309.79 L566.74,310.13 L566.82,310.47 L566.91,310.81 L566.99,311.15 L567.08,311.49 L567.16,311.83 L567.24,312.17 L567.32,312.52 L567.40,312.86 L567.48,313.20 L567.56,313.54 L567.64,313.88 L567.71,314.23 L567.79,314.57 L567.86,314.91 L567.94,315.25 L568.01,315.60 L568.08,315.94 L568.15,316.28 L568.22,316.63 L568.29,316.97 L568.36,317.32 L568.42,317.66 L568.49,318.00 L568.55,318.35 L568.62,318.69 L568.68,319.04 L568.74,319.39 L568.80,319.73 L568.85,320.08" stroke="#ee1111" stroke-width="1.2" fill="none"/>
<path d="M569.05,321.36 L569.16,322.09 L569.27,322.83 L569.38,323.56 L569.48,324.29 L569.58,325.02 L569.69,325.75 L569.79,326.49 L569.90,327.22 L570.00,327.95 L570.11,328.68 L570.21,329.41 L570.32,330.15 L570.44,330.88 L570.55,331.61 L570.66,332.34 L570.77,333.07 L570.89,333.80 L571.00,334.53 L571.11,335.26 L571.23,335.99 L571.34,336.72 L571.45,337.46 L571.57,338.19 L571.68,338.92 L571.80,339.65 L571.91,340.38 L572.03,341.11 L572.14,341.84 L572.26,342.57 L572.37,343.30 L572.48,344.03 L572.60,344.76 L572.71,345.49 L572.83,346.22 L572.94,346.95 L573.06,347.68 L573.17,348.41 L573.29,349.15 L573.40,349.88 L573.52,350.61 L573.63,351.34 L573.74,352.07 L573.86,352.80 L573.97,353.53 L574.09,354.26 L574.20,354.99 L574.31,355.72 L574.42,356.45 L574.54,357.18 L574.65,357.92 L574.76,358.65 L574.87,359.38 L574.98,360.11 L575.09,360.84 L575.21,361.57 L575.32,362.30 L575.43,363.03 L575.54,363.76 L575.65,364.50 L575.76,365.23 L575.88,365.96 L575.99,366.69 L576.10,367.42 L576.21,368.15 L576.32,368.88 L576.43,369.61 L576.54,370.35 L576.65,371.08 L576.76,371.81 L576.87,372.54 L576.98,373.27 L577.09,374.00 L577.20,374.73 L577.31,375.47 L577.41,376.20 L577.52,376.93 L577.63,377.66 L577.73,378.39 L577.84,379.12 L577.95,379.86 L578.05,380.59 L578.16,381.32 L578.26,382.05 L578.36,382.79 L578.46,383.52 L578.56,384.25 L578.66,384.98 L578.75,385.72 L578.84,386.45 L578.93,387.19 L579.01,387.92 L579.10,388.66 L579.19,389.39 L579.27,390.12 L579.36,390.86 L579.45,391.59 L579.54,392.33 L579.63,393.06 L579.72,393.80 L579.81,394.53 L579.90,395.26 L580.00,396.00 L580.10,396.73 L580.21,397.46 L580.32,398.19 L580.45,398.92 L580.58,399.65 L580.74,400.37 L580.90,401.09 L581.07,401.81 L581.24,402.53 L581.42,403.25 L581.60,403.97 L581.79,404.68" stroke="#ee1111" stroke-width="1.2" fill="none"/>
<path d="M582.13,405.94 L582.18,406.11 L582.23,406.29 L582.28,406.47 L582.33,406.65 L582.38,406.82 L582.44,407.00 L582.49,407.18 L582.54,407.35 L582.60,407.53 L582.65,407.71 L582.71,407.88 L582.76,408.06 L582.82,408.24 L582.87,408.41 L582.93,408.59 L582.99,408.76 L583.05,408.94 L583.11,409.11 L583.17,409.29 L583.23,409.46 L583.29,409.63 L583.35,409.81 L583.41,409.98 L583.48,410.15 L583.54,410.33 L583.61,410.50 L583.67,410.67 L583.74,410.84 L583.81,411.01 L583.88,411.19 L583.95,411.36 L584.02,411.53 L584.10,411.70 L584.17,411.86 L584.24,412.03 L584.32,412.20 L584.40,412.37 L584.48,412.53 L584.56,412.70 L584.65,412.86 L584.73,413.03 L584.82,413.19 L584.91,413.35 L585.00,413.51 L585.09,413.67 L585.19,413.83 L585.29,413.98 L585.39,414.14 L585.50,414.29 L585.60,414.44 L585.71,414.59 L585.81,414.74 L585.92,414.90 L586.02,415.05 L586.13,415.20 L586.24,415.35 L586.35,415.49 L586.46,415.64 L586.57,415.79 L586.68,415.94 L586.79,416.08 L586.91,416.23 L587.02,416.38 L587.13,416.52 L587.25,416.66 L587.37,416.81 L587.48,416.95 L587.60,417.09 L587.72,417.23 L587.84,417.37 L587.96,417.51 L588.09,417.65 L588.21,417.79 L588.33,417.92 L588.46,418.06 L588.58,418.19 L588.71,418.33 L588.84,418.46 L588.97,418.59 L589.10,418.72 L589.23,418.85 L589.37,418.97 L589.50,419.10 L589.64,419.23 L589.78,419.35 L589.92,419.47 L590.06,419.59 L590.20,419.71 L590.34,419.83 L590.48,419.94 L590.63,420.05 L590.78,420.17 L590.93,420.27 L591.08,420.38 L591.23,420.49 L591.38,420.59 L591.53,420.69 L591.69,420.79 L591.85,420.88 L592.01,420.98 L592.17,421.07 L592.33,421.15 L592.50,421.24 L592.66,421.32 L592.83,421.40 L593.00,421.47 L593.17,421.54 L593.34,421.61 L593.52,421.67 L593.69,421.73 L593.86,421.79 L594.04,421.85 L594.22,421.90" stroke="#ee1111" stroke-width="1.2" fill="none"/>
<line x1="438.11" y1="422.30" x2="438.11" y2="415.33" stroke="#33ee33" stroke-width="1.1"/>
<rect x="413.50" y="270.30" width="259.00" height="152.00" fill="none" stroke="#000" stroke-width="1"/>
<line x1="413.50" y1="422.30" x2="413.50" y2="418.80" stroke="#000" stroke-width="0.7"/>
<line x1="413.50" y1="270.30" x2="413.50" y2="273.80" stroke="#000" stroke-width="0.7"/>
<line x1="426.45" y1="422.30" x2="426.45" y2="420.10" stroke="#000" stroke-width="0.7"/>
<line x1="426.45" y1="270.30" x2="426.45" y2="272.50" stroke="#000" stroke-width="0.7"/>
<line x1="439.40" y1="422.30" x2="439.40" y2="420.10" stroke="#000" stroke-width="0.7"/>
<line x1="439.40" y1="270.30" x2="439.40" y2="272.50" stroke="#000" stroke-width="0.7"/>
<line x1="452.35" y1="422.30" x2="452.35" y2="420.10" stroke="#000" stroke-width="0.7"/>
<line x1="452.35" y1="270.30" x2="452.35" y2="272.50" stroke="#000" stroke-width="0.7"/>
<line x1="465.30" y1="422.30" x2="465.30" y2="420.10" stroke="#000" stroke-width="0.7"/>
<line x1="465.30" y1="270.30" x2="465.30" y2="272.50" stroke="#000" stroke-width="0.7"/>
<line x1="478.25" y1="422.30" x2="478.25" y2="418.80" stroke="#000" stroke-width="0.7"/>
<line x1="478.25" y1="270.30" x2="478.25" y2="273.80" stroke="#000" stroke-width="0.7"/>
<line x1="491.20" y1="422.30" x2="491.20" y2="420.10" stroke="#000" stroke-width="0.7"/>
<line x1="491.20" y1="270.30" x2="491.20" y2="272.50" stroke="#000" stroke-width="0.7"/>
<line x1="504.15" y1="422.30" x2="504.15" y2="420.10" stroke="#000" stroke-width="0.7"/>
<line x1="504.15" y1="270.30" x2="504.15" y2="272.50" stroke="#000" stroke-width="0.7"/>
<line x1="517.10" y1="422.30" x2="517.10" y2="420.10" stroke="#000" stroke-width="0.7"/>
<line x1="517.10" y1="270.30" x2="517.10" y2="272.50" stroke="#000" stroke-width="0.7"/>
<line x1="530.05" y1="422.30" x2="530.05" y2="420.10" stroke="#000" stroke-width="0.7"/>
<line x1="530.05" y1="270.30" x2="530.05" y2="272.50" stroke="#000" stroke-width="0.7"/>
<line x1="543.00" y1="422.30" x2="543.00" y2="418.80" stroke="#000" stroke-width="0.7"/>
<line x1="543.00" y1="270.30" x2="543.00" y2="273.80" stroke="#000" stroke-width="0.7"/>
<line x1="555.95" y1="422.30" x2="555.95" y2="420.10" stroke="#000" stroke-width="0.7"/>
<line x1="555.95" y1="270.30" x2="555.95" y2="272.50" stroke="#000" stroke-width="0.7"/>
<line x1="568.90" y1="422.30" x2="568.90" y2="420.10" stroke="#000" stroke-width="0.7"/>
<line x1="568.90" y1="270.30" x2="568.90" y2="272.50" stroke="#000" stroke-width="0.7"/>
<line x1="581.85" y1="422.30" x2="581.85" y2="420.10" stroke="#000" stroke-width="0.7"/>
<line x1="581.85" y1="270.30" x2="581.85" y2="272.50" stroke="#000" stroke-width="0.7"/>
<line x1="594.80" y1="422.30" x2="594.80" y2="420.10" stroke="#000" stroke-width="0.7"/>
<line x1="594.80" y1="270.30" x2="594.80" y2="272.50" stroke="#000" stroke-width="0.7"/>
<line x1="607.75" y1="422.30" x2="607.75" y2="418.80" stroke="#000" stroke-width="0.7"/>
<line x1="607.75" y1="270.30" x2="607.75" y2="273.80" stroke="#000" stroke-width="0.7"/>
<line x1="620.70" y1="422.30" x2="620.70" y2="420.10" stroke="#000" stroke-width="0.7"/>
<line x1="620.70" y1="270.30" x2="620.70" y2="272.50" stroke="#000" stroke-width="0.7"/>
<line x1="633.65" y1="422.30" x2="633.65" y2="420.10" stroke="#000" stroke-width="0.7"/>
<line x1="633.65" y1="270.30" x2="633.65" y2="272.50" stroke="#000" stroke-width="0.7"/>
<line x1="646.60" y1="422.30" x2="646.60" y2="420.10" stroke="#000" stroke-width="0.7"/>
<line x1="646.60" y1="270.30" x2="646.60" y2="272.50" stroke="#000" stroke-width="0.7"/>
<line x1="659.55" y1="422.30" x2="659.55" y2="420.10" stroke="#000" stroke-width="0.7"/>
<line x1="659.55" y1="270.30" x2="659.55" y2="272.50" stroke="#000" stroke-width="0.7"/>
<line x1="672.50" y1="422.30" x2="672.50" y2="418.80" stroke="#000" stroke-width="0.7"/>
<line x1="672.50" y1="270.30" x2="672.50" y2="273.80" stroke="#000" stroke-width="0.7"/>
<line x1="413.50" y1="422.30" x2="417.00" y2="422.30" stroke="#000" stroke-width="0.7"/>
<line x1="672.50" y1="422.30" x2="669.00" y2="422.30" stroke="#000" stroke-width="0.7"/>
<line x1="413.50" y1="415.97" x2="415.70" y2="415.97" stroke="#000" stroke-width="0.7"/>
<line x1="672.50" y1="415.97" x2="670.30" y2="415.97" stroke="#000" stroke-width="0.7"/>
<line x1="413.50" y1="409.63" x2="415.70" y2="409.63" stroke="#000" stroke-width="0.7"/>
<line x1="672.50" y1="409.63" x2="670.30" y2="409.63" stroke="#000" stroke-width="0.7"/>
<line x1="413.50" y1="403.30" x2="415.70" y2="403.30" stroke="#000" stroke-width="0.7"/>
<line x1="672.50" y1="403.30" x2="670.30" y2="403.30" stroke="#000" stroke-width="0.7"/>
<line x1="413.50" y1="396.97" x2="417.00" y2="396.97" stroke="#000" stroke-width="0.7"/>
<line x1="672.50" y1="396.97" x2="669.00" y2="396.97" stroke="#000" stroke-width="0.7"/>
<line x1="413.50" y1="390.63" x2="415.70" y2="390.63" stroke="#000" stroke-width="0.7"/>
<line x1="672.50" y1="390.63" x2="670.30" y2="390.63" stroke="#000" stroke-width="0.7"/>
<line x1="413.50" y1="384.30" x2="415.70" y2="384.30" stroke="#000" stroke-width="0.7"/>
<line x1="672.50" y1="384.30" x2="670.30" y2="384.30" stroke="#000" stroke-width="0.7"/>
<line x1="413.50" y1="377.97" x2="415.70" y2="377.97" stroke="#000" stroke-width="0.7"/>
<line x1="672.50" y1="377.97" x2="670.30" y2="377.97" stroke="#000" stroke-width="0.7"/>
<line x1="413.50" y1="371.63" x2="417.00" y2="371.63" stroke="#000" stroke-width="0.7"/>
<line x1="672.50" y1="371.63" x2="669.00" y2="371.63" stroke="#000" stroke-width="0.7"/>
<line x1="413.50" y1="365.30" x2="415.70" y2="365.30" stroke="#000" stroke-width="0.7"/>
<line x1="672.50" y1="365.30" x2="670.30" y2="365.30" stroke="#000" stroke-width="0.7"/>
<line x1="413.50" y1="358.97" x2="415.70" y2="358.97" stroke="#000" stroke-width="0.7"/>
<line x1="672.50" y1="358.97" x2="670.30" y2="358.97" stroke="#000" stroke-width="0.7"/>
<line x1="413.50" y1="352.63" x2="415.70" y2="352.63" stroke="#000" stroke-width="0.7"/>
<line x1="672.50" y1="352.63" x2="670.30" y2="352.63" stroke="#000" stroke-width="0.7"/>
<line x1="413.50" y1="346.30" x2="417.00" y2="346.30" stroke="#000" stroke-width="0.7"/>
<line x1="672.50" y1="346.30" x2="669.00" y2="346.30" stroke="#000" stroke-width="0.7"/>
<line x1="413.50" y1="339.97" x2="415.70" y2="339.97" stroke="#000" stroke-width="0.7"/>
<line x1="672.50" y1="339.97" x2="670.30" y2="339.97" stroke="#000" stroke-width="0.7"/>
<line x1="413.50" y1="333.63" x2="415.70" y2="333.63" stroke="#000" stroke-width="0.7"/>
<line x1="672.50" y1="333.63" x2="670.30" y2="333.63" stroke="#000" stroke-width="0.7"/>
<line x1="413.50" y1="327.30" x2="415.70" y2="327.30" stroke="#000" stroke-width="0.7"/>
<line x1="672.50" y1="327.30" x2="670.30" y2="327.30" stroke="#000" stroke-width="0.7"/>
<line x1="413.50" y1="320.97" x2="417.00" y2="320.97" stroke="#000" stroke-width="0.7"/>
<line x1="672.50" y1="320.97" x2="669.00" y2="320.97" stroke="#000" stroke-width="0.7"/>
<line x1="413.50" y1="314.63" x2="415.70" y2="314.63" stroke="#000" stroke-width="0.7"/>
<line x1="672.50" y1="314.63" x2="670.30" y2="314.63" stroke="#000" stroke-width="0.7"/>
<line x1="413.50" y1="308.30" x2="415.70" y2="308.30" stroke="#000" stroke-width="0.7"/>
<line x1="672.50" y1="308.30" x2="670.30" y2="308.30" stroke="#000" stroke-width="0.7"/>
<line x1="413.50" y1="301.97" x2="415.70" y2="301.97" stroke="#000" stroke-width="0.7"/>
<line x1="672.50" y1="301.97" x2="670.30" y2="301.97" stroke="#000" stroke-width="0.7"/>
<line x1="413.50" y1="295.63" x2="417.00" y2="295.63" stroke="#000" stroke-width="0.7"/>
<line x1="672.50" y1="295.63" x2="669.00" y2="295.63" stroke="#000" stroke-width="0.7"/>
<line x1="413.50" y1="289.30" x2="415.70" y2="289.30" stroke="#000" stroke-width="0.7"/>
<line x1="672.50" y1="289.30" x2="670.30" y2="289.30" stroke="#000" stroke-width="0.7"/>
<line x1="413.50" y1="282.97" x2="415.70" y2="282.97" stroke="#000" stroke-width="0.7"/>
<line x1="672.50" y1="282.97" x2="670.30" y2="282.97" stroke="#000" stroke-width="0.7"/>
<line x1="413.50" y1="276.63" x2="415.70" y2="276.63" stroke="#000" stroke-width="0.7"/>
<line x1="672.50" y1="276.63" x2="670.30" y2="276.63" stroke="#000" stroke-width="0.7"/>
<line x1="413.50" y1="270.30" x2="417.00" y2="270.30" stroke="#000" stroke-width="0.7"/>
<line x1="672.50" y1="270.30" x2="669.00" y2="270.30" stroke="#000" stroke-width="0.7"/>
<text x="407.00" y="425.70" font-size="12" font-weight="bold" text-anchor="end" fill="#000" stroke="#000" stroke-width="0.300">0.0</text>
<text x="407.00" y="400.37" font-size="12" font-weight="bold" text-anchor="end" fill="#000" stroke="#000" stroke-width="0.300">0.080</text>
<text x="407.00" y="375.03" font-size="12" font-weight="bold" text-anchor="end" fill="#000" stroke="#000" stroke-width="0.300">0.16</text>
<text x="407.00" y="349.70" font-size="12" font-weight="bold" text-anchor="end" fill="#000" stroke="#000" stroke-width="0.300">0.24</text>
<text x="407.00" y="324.37" font-size="12" font-weight="bold" text-anchor="end" fill="#000" stroke="#000" stroke-width="0.300">0.32</text>
<text x="407.00" y="299.03" font-size="12" font-weight="bold" text-anchor="end" fill="#000" stroke="#000" stroke-width="0.300">0.40</text>
<text x="407.00" y="273.70" font-size="12" font-weight="bold" text-anchor="end" fill="#000" stroke="#000" stroke-width="0.300">0.48</text>
<text x="413.50" y="434.90" font-size="12" font-weight="bold" text-anchor="middle" fill="#000" stroke="#000" stroke-width="0.300">190</text>
<text x="478.25" y="434.90" font-size="12" font-weight="bold" text-anchor="middle" fill="#000" stroke="#000" stroke-width="0.300">195</text>
<text x="543.00" y="434.90" font-size="12" font-weight="bold" text-anchor="middle" fill="#000" stroke="#000" stroke-width="0.300">200</text>
<text x="607.75" y="434.90" font-size="12" font-weight="bold" text-anchor="middle" fill="#000" stroke="#000" stroke-width="0.300">205</text>
<text x="672.50" y="434.90" font-size="12" font-weight="bold" text-anchor="middle" fill="#000" stroke="#000" stroke-width="0.300">210</text>
<text x="542.90" y="447.40" font-size="11.8" font-weight="bold" text-anchor="middle" fill="#000" stroke="#000" stroke-width="0.295">Date (Ma)</text>
<text x="374.60" y="343.70" font-size="12" font-weight="bold" text-anchor="middle" fill="#000" textLength="137.2" lengthAdjust="spacingAndGlyphs" transform="rotate(-90 374.6 343.7)" stroke="#000" stroke-width="0.300">Gaussian kernel density</text>
<text x="418.00" y="282.40" font-size="9" font-weight="bold" text-anchor="start" fill="#000" font-style="italic" stroke="#000" stroke-width="0.225">d)</text>
<line x1="592.30" y1="284.10" x2="563.30" y2="284.10" stroke="#f07878" stroke-width="1.1"/>
<polygon points="558.80,284.10 563.30,282.10 563.30,286.10" fill="#ee1111"/>
<text x="594.20" y="286.30" font-size="5.9" font-weight="bold" text-anchor="start" fill="#ee1111" stroke="#ee1111" stroke-width="0.148">201.46</text>
<line x1="592.30" y1="317.30" x2="565.00" y2="317.30" stroke="#aaa" stroke-width="1.3"/>
<polygon points="560.50,317.30 565.00,315.30 565.00,319.30" fill="#000"/>
<text x="593.50" y="319.50" font-size="5.9" font-weight="bold" text-anchor="start" fill="#000" stroke="#000" stroke-width="0.148">201.44</text>
<line x1="592.30" y1="333.20" x2="561.34" y2="324.60" stroke="#b09040" stroke-width="0.8"/>
<polygon points="557.00,323.40 561.87,322.68 560.80,326.53" fill="#a08020"/>
<text x="594.20" y="336.10" font-size="5.9" font-weight="bold" text-anchor="start" fill="#a08020" stroke="#a08020" stroke-width="0.148">201.30</text>
<line x1="592.30" y1="351.50" x2="565.00" y2="351.50" stroke="#33ee33" stroke-width="0.9"/>
<polygon points="560.50,351.50 565.00,349.50 565.00,353.50" fill="#33ee33"/>
<text x="594.20" y="353.70" font-size="5.9" font-weight="bold" text-anchor="start" fill="#33ee33" stroke="#33ee33" stroke-width="0.148">201.41</text>
<line x1="458.70" y1="401.20" x2="441.20" y2="419.10" stroke="#33ee33" stroke-width="0.6"/>
<text x="459.50" y="400.60" font-size="5.9" font-weight="bold" text-anchor="middle" fill="#33ee33" stroke="#33ee33" stroke-width="0.148">Kendem</text>
<rect x="591.90" y="363.30" width="75.70" height="36.00" fill="#fff" stroke="#333" stroke-width="0.8"/>
<line x1="595.50" y1="370.00" x2="602.80" y2="370.00" stroke="#111" stroke-width="1.2"/>
<line x1="604.30" y1="370.00" x2="612.00" y2="370.00" stroke="#111" stroke-width="1.2"/>
<text x="614.50" y="371.80" font-size="4.9" font-weight="bold" text-anchor="start" fill="#000" stroke="#000" stroke-width="0.15">Global CAMP (n=126)</text>
<line x1="595.50" y1="378.00" x2="602.80" y2="378.00" stroke="#33ee33" stroke-width="1.2"/>
<line x1="604.30" y1="378.00" x2="612.00" y2="378.00" stroke="#33ee33" stroke-width="1.2"/>
<text x="614.50" y="379.80" font-size="4.9" font-weight="bold" text-anchor="start" fill="#000" stroke="#000" stroke-width="0.15">Africa (n=52)</text>
<line x1="595.50" y1="386.00" x2="602.80" y2="386.00" stroke="#c09020" stroke-width="1.2"/>
<line x1="604.30" y1="386.00" x2="612.00" y2="386.00" stroke="#c09020" stroke-width="1.2"/>
<text x="614.50" y="387.80" font-size="4.9" font-weight="bold" text-anchor="start" fill="#000" stroke="#000" stroke-width="0.15">S_America (n=20)</text>
<line x1="595.50" y1="394.00" x2="602.80" y2="394.00" stroke="#ee1111" stroke-width="1.2"/>
<line x1="604.30" y1="394.00" x2="612.00" y2="394.00" stroke="#ee1111" stroke-width="1.2"/>
<text x="614.50" y="395.80" font-size="4.9" font-weight="bold" text-anchor="start" fill="#000" stroke="#000" stroke-width="0.15">N_America (n=52)</text>
<rect x="435.40" y="291.50" width="94.50" height="59.00" fill="#fff" stroke="#000" stroke-width="0.7"/>
<rect x="445.85" y="347.55" width="8.25" height="2.95" fill="#8ee4ee" stroke="#333" stroke-width="0.6"/>
<rect x="455.23" y="349.02" width="8.25" height="1.48" fill="#8ee4ee" stroke="#333" stroke-width="0.6"/>
<rect x="464.61" y="345.34" width="8.25" height="5.16" fill="#8ee4ee" stroke="#333" stroke-width="0.6"/>
<rect x="473.99" y="338.70" width="8.25" height="11.80" fill="#8ee4ee" stroke="#333" stroke-width="0.6"/>
<rect x="483.37" y="293.34" width="8.25" height="57.16" fill="#8ee4ee" stroke="#333" stroke-width="0.6"/>
<rect x="492.75" y="339.07" width="8.25" height="11.43" fill="#8ee4ee" stroke="#333" stroke-width="0.6"/>
<rect x="502.13" y="349.39" width="8.25" height="1.11" fill="#8ee4ee" stroke="#333" stroke-width="0.6"/>
<path d="M439.00,350.50 L439.25,350.44 L439.50,350.38 L439.75,350.30 L440.00,350.22 L440.25,350.13 L440.51,350.03 L440.76,349.93 L441.01,349.82 L441.26,349.71 L441.51,349.60 L441.76,349.46 L442.01,349.29 L442.26,349.10 L442.51,348.89 L442.76,348.68 L443.01,348.46 L443.26,348.25 L443.52,348.06 L443.77,347.88 L444.02,347.74 L444.27,347.64 L444.52,347.57 L444.77,347.52 L445.02,347.46 L445.27,347.41 L445.52,347.36 L445.77,347.32 L446.02,347.27 L446.27,347.23 L446.53,347.19 L446.78,347.16 L447.03,347.12 L447.28,347.10 L447.53,347.07 L447.78,347.05 L448.03,347.03 L448.28,347.02 L448.53,347.01 L448.78,347.00 L449.03,347.00 L449.28,347.00 L449.54,347.01 L449.79,347.03 L450.04,347.05 L450.29,347.07 L450.54,347.10 L450.79,347.13 L451.04,347.16 L451.29,347.20 L451.54,347.23 L451.79,347.27 L452.04,347.32 L452.29,347.36 L452.55,347.40 L452.80,347.45 L453.05,347.49 L453.30,347.54 L453.55,347.60 L453.80,347.67 L454.05,347.76 L454.30,347.85 L454.55,347.95 L454.80,348.05 L455.05,348.16 L455.30,348.27 L455.56,348.39 L455.81,348.50 L456.06,348.61 L456.31,348.72 L456.56,348.82 L456.81,348.92 L457.06,349.01 L457.31,349.09 L457.56,349.16 L457.81,349.22 L458.06,349.26 L458.31,349.29 L458.57,349.30 L458.82,349.30 L459.07,349.28 L459.32,349.25 L459.57,349.21 L459.82,349.17 L460.07,349.11 L460.32,349.05 L460.57,348.97 L460.82,348.90 L461.07,348.82 L461.32,348.73 L461.58,348.64 L461.83,348.55 L462.08,348.45 L462.33,348.36 L462.58,348.26 L462.83,348.16 L463.08,348.07 L463.33,347.96 L463.58,347.84 L463.83,347.71 L464.08,347.57 L464.33,347.41 L464.59,347.25 L464.84,347.09 L465.09,346.92 L465.34,346.75 L465.59,346.58 L465.84,346.41 L466.09,346.25 L466.34,346.08 L466.59,345.93 L466.84,345.78 L467.09,345.65 L467.34,345.53 L467.60,345.41 L467.85,345.31 L468.10,345.22 L468.35,345.13 L468.60,345.05 L468.85,344.97 L469.10,344.90 L469.35,344.82 L469.60,344.75 L469.85,344.68 L470.10,344.61 L470.35,344.53 L470.61,344.45 L470.86,344.36 L471.11,344.27 L471.36,344.17 L471.61,344.06 L471.86,343.94 L472.11,343.81 L472.36,343.66 L472.61,343.49 L472.86,343.27 L473.11,343.02 L473.36,342.74 L473.62,342.44 L473.87,342.11 L474.12,341.77 L474.37,341.40 L474.62,341.03 L474.87,340.65 L475.12,340.27 L475.37,339.88 L475.62,339.50 L475.87,339.13 L476.12,338.77 L476.37,338.41 L476.63,338.07 L476.88,337.72 L477.13,337.36 L477.38,337.00 L477.63,336.63 L477.88,336.24 L478.13,335.83 L478.38,335.40 L478.63,334.93 L478.88,334.44 L479.13,333.91 L479.38,333.35 L479.64,332.76 L479.89,332.12 L480.14,331.42 L480.39,330.65 L480.64,329.80 L480.89,328.86 L481.14,327.82 L481.39,326.42 L481.64,324.62 L481.89,322.50 L482.14,320.18 L482.39,317.76 L482.65,315.34 L482.90,313.02 L483.15,310.91 L483.40,309.11 L483.65,307.51 L483.90,305.92 L484.15,304.37 L484.40,302.90 L484.65,301.51 L484.90,300.24 L485.15,299.10 L485.40,298.13 L485.66,297.34 L485.91,296.60 L486.16,295.88 L486.41,295.22 L486.66,294.64 L486.91,294.19 L487.16,293.90 L487.41,293.80 L487.66,293.90 L487.91,294.18 L488.16,294.60 L488.41,295.13 L488.67,295.75 L488.92,296.42 L489.17,297.13 L489.42,297.86 L489.67,298.77 L489.92,299.87 L490.17,301.12 L490.42,302.49 L490.67,303.96 L490.92,305.49 L491.17,307.06 L491.42,308.63 L491.68,310.25 L491.93,312.06 L492.18,314.02 L492.43,316.06 L492.68,318.10 L492.93,320.09 L493.18,321.94 L493.43,323.59 L493.68,325.03 L493.93,326.36 L494.18,327.60 L494.43,328.78 L494.69,329.91 L494.94,331.02 L495.19,332.12 L495.44,333.22 L495.69,334.38 L495.94,335.62 L496.19,336.86 L496.44,338.02 L496.69,339.01 L496.94,339.77 L497.19,340.30 L497.44,340.78 L497.70,341.22 L497.95,341.63 L498.20,342.00 L498.45,342.34 L498.70,342.66 L498.95,342.96 L499.20,343.24 L499.45,343.50 L499.70,343.75 L499.95,344.00 L500.20,344.24 L500.45,344.47 L500.71,344.71 L500.96,344.95 L501.21,345.20 L501.46,345.47 L501.71,345.73 L501.96,346.00 L502.21,346.27 L502.46,346.54 L502.71,346.80 L502.96,347.07 L503.21,347.32 L503.46,347.57 L503.72,347.81 L503.97,348.04 L504.22,348.26 L504.47,348.46 L504.72,348.65 L504.97,348.82 L505.22,348.97 L505.47,349.10 L505.72,349.21 L505.97,349.30 L506.22,349.40 L506.47,349.49 L506.73,349.57 L506.98,349.65 L507.23,349.73 L507.48,349.80 L507.73,349.87 L507.98,349.94 L508.23,350.00 L508.48,350.06 L508.73,350.11 L508.98,350.15 L509.23,350.20 L509.48,350.23 L509.74,350.26 L509.99,350.29 L510.24,350.31 L510.49,350.33 L510.74,350.35 L510.99,350.37 L511.24,350.39 L511.49,350.41 L511.74,350.42 L511.99,350.44 L512.24,350.45 L512.49,350.46 L512.75,350.47 L513.00,350.48 L513.25,350.49 L513.50,350.50 L513.75,350.50 L514.00,350.50" stroke="#111" stroke-width="0.7" fill="none"/>
<line x1="435.40" y1="350.50" x2="437.00" y2="350.50" stroke="#000" stroke-width="0.5"/>
<line x1="529.90" y1="350.50" x2="528.30" y2="350.50" stroke="#000" stroke-width="0.5"/>
<text x="433.80" y="352.00" font-size="4.1" font-weight="bold" text-anchor="end" fill="#000" stroke="#000" stroke-width="0.22">0.0</text>
<line x1="435.40" y1="343.12" x2="437.00" y2="343.12" stroke="#000" stroke-width="0.5"/>
<line x1="529.90" y1="343.12" x2="528.30" y2="343.12" stroke="#000" stroke-width="0.5"/>
<text x="433.80" y="344.62" font-size="4.1" font-weight="bold" text-anchor="end" fill="#000" stroke="#000" stroke-width="0.22">10</text>
<line x1="435.40" y1="335.75" x2="437.00" y2="335.75" stroke="#000" stroke-width="0.5"/>
<line x1="529.90" y1="335.75" x2="528.30" y2="335.75" stroke="#000" stroke-width="0.5"/>
<text x="433.80" y="337.25" font-size="4.1" font-weight="bold" text-anchor="end" fill="#000" stroke="#000" stroke-width="0.22">20</text>
<line x1="435.40" y1="328.38" x2="437.00" y2="328.38" stroke="#000" stroke-width="0.5"/>
<line x1="529.90" y1="328.38" x2="528.30" y2="328.38" stroke="#000" stroke-width="0.5"/>
<text x="433.80" y="329.88" font-size="4.1" font-weight="bold" text-anchor="end" fill="#000" stroke="#000" stroke-width="0.22">30</text>
<line x1="435.40" y1="321.00" x2="437.00" y2="321.00" stroke="#000" stroke-width="0.5"/>
<line x1="529.90" y1="321.00" x2="528.30" y2="321.00" stroke="#000" stroke-width="0.5"/>
<text x="433.80" y="322.50" font-size="4.1" font-weight="bold" text-anchor="end" fill="#000" stroke="#000" stroke-width="0.22">40</text>
<line x1="435.40" y1="313.62" x2="437.00" y2="313.62" stroke="#000" stroke-width="0.5"/>
<line x1="529.90" y1="313.62" x2="528.30" y2="313.62" stroke="#000" stroke-width="0.5"/>
<text x="433.80" y="315.12" font-size="4.1" font-weight="bold" text-anchor="end" fill="#000" stroke="#000" stroke-width="0.22">50</text>
<line x1="435.40" y1="306.25" x2="437.00" y2="306.25" stroke="#000" stroke-width="0.5"/>
<line x1="529.90" y1="306.25" x2="528.30" y2="306.25" stroke="#000" stroke-width="0.5"/>
<text x="433.80" y="307.75" font-size="4.1" font-weight="bold" text-anchor="end" fill="#000" stroke="#000" stroke-width="0.22">60</text>
<line x1="435.40" y1="298.88" x2="437.00" y2="298.88" stroke="#000" stroke-width="0.5"/>
<line x1="529.90" y1="298.88" x2="528.30" y2="298.88" stroke="#000" stroke-width="0.5"/>
<text x="433.80" y="300.38" font-size="4.1" font-weight="bold" text-anchor="end" fill="#000" stroke="#000" stroke-width="0.22">70</text>
<line x1="435.40" y1="291.50" x2="437.00" y2="291.50" stroke="#000" stroke-width="0.5"/>
<line x1="529.90" y1="291.50" x2="528.30" y2="291.50" stroke="#000" stroke-width="0.5"/>
<text x="433.80" y="293.00" font-size="4.1" font-weight="bold" text-anchor="end" fill="#000" stroke="#000" stroke-width="0.22">80</text>
<line x1="440.60" y1="350.50" x2="440.60" y2="348.90" stroke="#000" stroke-width="0.5"/>
<line x1="440.60" y1="291.50" x2="440.60" y2="293.10" stroke="#000" stroke-width="0.5"/>
<text x="440.60" y="355.80" font-size="4.1" font-weight="bold" text-anchor="middle" fill="#000" stroke="#000" stroke-width="0.22">190</text>
<line x1="449.98" y1="350.50" x2="449.98" y2="348.90" stroke="#000" stroke-width="0.5"/>
<line x1="449.98" y1="291.50" x2="449.98" y2="293.10" stroke="#000" stroke-width="0.5"/>
<text x="449.98" y="355.80" font-size="4.1" font-weight="bold" text-anchor="middle" fill="#000" stroke="#000" stroke-width="0.22">192</text>
<line x1="459.36" y1="350.50" x2="459.36" y2="348.90" stroke="#000" stroke-width="0.5"/>
<line x1="459.36" y1="291.50" x2="459.36" y2="293.10" stroke="#000" stroke-width="0.5"/>
<text x="459.36" y="355.80" font-size="4.1" font-weight="bold" text-anchor="middle" fill="#000" stroke="#000" stroke-width="0.22">194</text>
<line x1="468.74" y1="350.50" x2="468.74" y2="348.90" stroke="#000" stroke-width="0.5"/>
<line x1="468.74" y1="291.50" x2="468.74" y2="293.10" stroke="#000" stroke-width="0.5"/>
<text x="468.74" y="355.80" font-size="4.1" font-weight="bold" text-anchor="middle" fill="#000" stroke="#000" stroke-width="0.22">196</text>
<line x1="478.12" y1="350.50" x2="478.12" y2="348.90" stroke="#000" stroke-width="0.5"/>
<line x1="478.12" y1="291.50" x2="478.12" y2="293.10" stroke="#000" stroke-width="0.5"/>
<text x="478.12" y="355.80" font-size="4.1" font-weight="bold" text-anchor="middle" fill="#000" stroke="#000" stroke-width="0.22">198</text>
<line x1="487.50" y1="350.50" x2="487.50" y2="348.90" stroke="#000" stroke-width="0.5"/>
<line x1="487.50" y1="291.50" x2="487.50" y2="293.10" stroke="#000" stroke-width="0.5"/>
<text x="487.50" y="355.80" font-size="4.1" font-weight="bold" text-anchor="middle" fill="#000" stroke="#000" stroke-width="0.22">200</text>
<line x1="496.88" y1="350.50" x2="496.88" y2="348.90" stroke="#000" stroke-width="0.5"/>
<line x1="496.88" y1="291.50" x2="496.88" y2="293.10" stroke="#000" stroke-width="0.5"/>
<text x="496.88" y="355.80" font-size="4.1" font-weight="bold" text-anchor="middle" fill="#000" stroke="#000" stroke-width="0.22">202</text>
<line x1="506.26" y1="350.50" x2="506.26" y2="348.90" stroke="#000" stroke-width="0.5"/>
<line x1="506.26" y1="291.50" x2="506.26" y2="293.10" stroke="#000" stroke-width="0.5"/>
<text x="506.26" y="355.80" font-size="4.1" font-weight="bold" text-anchor="middle" fill="#000" stroke="#000" stroke-width="0.22">204</text>
<line x1="515.64" y1="350.50" x2="515.64" y2="348.90" stroke="#000" stroke-width="0.5"/>
<line x1="515.64" y1="291.50" x2="515.64" y2="293.10" stroke="#000" stroke-width="0.5"/>
<text x="515.64" y="355.80" font-size="4.1" font-weight="bold" text-anchor="middle" fill="#000" stroke="#000" stroke-width="0.22">206</text>
<line x1="525.02" y1="350.50" x2="525.02" y2="348.90" stroke="#000" stroke-width="0.5"/>
<line x1="525.02" y1="291.50" x2="525.02" y2="293.10" stroke="#000" stroke-width="0.5"/>
<text x="525.02" y="355.80" font-size="4.1" font-weight="bold" text-anchor="middle" fill="#000" stroke="#000" stroke-width="0.22">208</text>
<text x="482.30" y="360.60" font-size="4.3" font-weight="bold" text-anchor="middle" fill="#000" stroke="#000" stroke-width="0.22">Date (Ma)</text>
<text x="427.40" y="320.50" font-size="4.0" font-weight="bold" text-anchor="middle" fill="#000" transform="rotate(-90 427.4 320.5)" stroke="#000" stroke-width="0.22">Frequency</text>
<text x="437.30" y="297.40" font-size="3.5" font-weight="bold" text-anchor="start" fill="#000" stroke="#000" stroke-width="0.22">Global CAMP (n = 126)</text>
<rect x="261.50" y="475.00" width="3.80" height="182.00" fill="#d9d9d9" stroke="none" stroke-width="1"/>
<line x1="126.60" y1="572.20" x2="309.90" y2="532.40" stroke="#000" stroke-width="0.9"/>
<line x1="126.60" y1="500.00" x2="284.80" y2="500.00" stroke="#000" stroke-width="0.9"/>
<line x1="172.20" y1="502.40" x2="283.00" y2="502.40" stroke="#000" stroke-width="0.9"/>
<polygon points="169.70,505.10 174.70,505.10 172.20,500.70" fill="#000" stroke="#000" stroke-width="0.3"/>
<polygon points="183.20,505.10 188.20,505.10 185.70,500.70" fill="#000" stroke="#000" stroke-width="0.3"/>
<polygon points="203.50,505.10 208.50,505.10 206.00,500.70" fill="#000" stroke="#000" stroke-width="0.3"/>
<polygon points="231.30,505.10 236.30,505.10 233.80,500.70" fill="#000" stroke="#000" stroke-width="0.3"/>
<polygon points="243.50,505.10 248.50,505.10 246.00,500.70" fill="#000" stroke="#000" stroke-width="0.3"/>
<polygon points="246.50,505.10 251.50,505.10 249.00,500.70" fill="#000" stroke="#000" stroke-width="0.3"/>
<polygon points="249.50,505.10 254.50,505.10 252.00,500.70" fill="#000" stroke="#000" stroke-width="0.3"/>
<polygon points="252.50,505.10 257.50,505.10 255.00,500.70" fill="#000" stroke="#000" stroke-width="0.3"/>
<polygon points="255.50,505.10 260.50,505.10 258.00,500.70" fill="#000" stroke="#000" stroke-width="0.3"/>
<polygon points="258.50,505.10 263.50,505.10 261.00,500.70" fill="#000" stroke="#000" stroke-width="0.3"/>
<polygon points="261.50,505.10 266.50,505.10 264.00,500.70" fill="#000" stroke="#000" stroke-width="0.3"/>
<polygon points="264.50,505.10 269.50,505.10 267.00,500.70" fill="#000" stroke="#000" stroke-width="0.3"/>
<polygon points="267.50,505.10 272.50,505.10 270.00,500.70" fill="#000" stroke="#000" stroke-width="0.3"/>
<polygon points="270.50,505.10 275.50,505.10 273.00,500.70" fill="#000" stroke="#000" stroke-width="0.3"/>
<polygon points="273.50,505.10 278.50,505.10 276.00,500.70" fill="#000" stroke="#000" stroke-width="0.3"/>
<polygon points="276.50,505.10 281.50,505.10 279.00,500.70" fill="#000" stroke="#000" stroke-width="0.3"/>
<polygon points="280.00,505.10 285.00,505.10 282.50,500.70" fill="#000" stroke="#000" stroke-width="0.3"/>
<polygon points="126.60,497.10 129.30,499.80 126.60,502.50 123.90,499.80" fill="#000" stroke="#000" stroke-width="0.3"/>
<polygon points="236.20,497.10 238.90,499.80 236.20,502.50 233.50,499.80" fill="#000" stroke="#000" stroke-width="0.3"/>
<polygon points="254.70,497.10 257.40,499.80 254.70,502.50 252.00,499.80" fill="#000" stroke="#000" stroke-width="0.3"/>
<polygon points="258.00,497.10 260.70,499.80 258.00,502.50 255.30,499.80" fill="#000" stroke="#000" stroke-width="0.3"/>
<polygon points="261.50,497.10 264.20,499.80 261.50,502.50 258.80,499.80" fill="#000" stroke="#000" stroke-width="0.3"/>
<polygon points="263.50,497.10 266.20,499.80 263.50,502.50 260.80,499.80" fill="#000" stroke="#000" stroke-width="0.3"/>
<polygon points="266.50,497.10 269.20,499.80 266.50,502.50 263.80,499.80" fill="#000" stroke="#000" stroke-width="0.3"/>
<polygon points="271.70,497.10 274.40,499.80 271.70,502.50 269.00,499.80" fill="#000" stroke="#000" stroke-width="0.3"/>
<polygon points="277.40,497.10 280.10,499.80 277.40,502.50 274.70,499.80" fill="#000" stroke="#000" stroke-width="0.3"/>
<polygon points="284.80,497.10 287.50,499.80 284.80,502.50 282.10,499.80" fill="#000" stroke="#000" stroke-width="0.3"/>
<circle cx="265.90" cy="529.20" r="2.80" fill="#000" stroke="none" stroke-width="0.6"/>
<rect x="236.40" y="528.50" width="5.00" height="5.00" fill="#000" stroke="#000" stroke-width="0.3"/>
<line x1="189.20" y1="545.30" x2="288.00" y2="545.30" stroke="#f06a6a" stroke-width="0.9"/>
<polygon points="186.70,547.15 191.70,547.15 189.20,542.85" fill="#e0101c" stroke="#e0101c" stroke-width="0.2"/>
<polygon points="207.70,547.15 212.70,547.15 210.20,542.85" fill="#e0101c" stroke="#e0101c" stroke-width="0.2"/>
<polygon points="211.20,547.15 216.20,547.15 213.70,542.85" fill="#e0101c" stroke="#e0101c" stroke-width="0.2"/>
<polygon points="219.30,547.15 224.30,547.15 221.80,542.85" fill="#e0101c" stroke="#e0101c" stroke-width="0.2"/>
<polygon points="229.80,547.15 234.80,547.15 232.30,542.85" fill="#e0101c" stroke="#e0101c" stroke-width="0.2"/>
<polygon points="234.10,547.15 239.10,547.15 236.60,542.85" fill="#e0101c" stroke="#e0101c" stroke-width="0.2"/>
<polygon points="239.90,547.15 244.90,547.15 242.40,542.85" fill="#e0101c" stroke="#e0101c" stroke-width="0.2"/>
<polygon points="246.40,547.15 251.40,547.15 248.90,542.85" fill="#e0101c" stroke="#e0101c" stroke-width="0.2"/>
<polygon points="248.50,547.15 253.50,547.15 251.00,542.85" fill="#e0101c" stroke="#e0101c" stroke-width="0.2"/>
<polygon points="250.50,547.15 255.50,547.15 253.00,542.85" fill="#e0101c" stroke="#e0101c" stroke-width="0.2"/>
<polygon points="252.50,547.15 257.50,547.15 255.00,542.85" fill="#e0101c" stroke="#e0101c" stroke-width="0.2"/>
<polygon points="254.50,547.15 259.50,547.15 257.00,542.85" fill="#e0101c" stroke="#e0101c" stroke-width="0.2"/>
<polygon points="256.50,547.15 261.50,547.15 259.00,542.85" fill="#e0101c" stroke="#e0101c" stroke-width="0.2"/>
<polygon points="258.50,547.15 263.50,547.15 261.00,542.85" fill="#e0101c" stroke="#e0101c" stroke-width="0.2"/>
<polygon points="260.50,547.15 265.50,547.15 263.00,542.85" fill="#e0101c" stroke="#e0101c" stroke-width="0.2"/>
<polygon points="262.50,547.15 267.50,547.15 265.00,542.85" fill="#e0101c" stroke="#e0101c" stroke-width="0.2"/>
<polygon points="264.50,547.15 269.50,547.15 267.00,542.85" fill="#e0101c" stroke="#e0101c" stroke-width="0.2"/>
<polygon points="266.50,547.15 271.50,547.15 269.00,542.85" fill="#e0101c" stroke="#e0101c" stroke-width="0.2"/>
<polygon points="268.50,547.15 273.50,547.15 271.00,542.85" fill="#e0101c" stroke="#e0101c" stroke-width="0.2"/>
<polygon points="270.10,547.15 275.10,547.15 272.60,542.85" fill="#e0101c" stroke="#e0101c" stroke-width="0.2"/>
<polygon points="274.50,547.15 279.50,547.15 277.00,542.85" fill="#e0101c" stroke="#e0101c" stroke-width="0.2"/>
<polygon points="277.90,547.15 282.90,547.15 280.40,542.85" fill="#e0101c" stroke="#e0101c" stroke-width="0.2"/>
<polygon points="285.50,547.15 290.50,547.15 288.00,542.85" fill="#e0101c" stroke="#e0101c" stroke-width="0.2"/>
<line x1="206.00" y1="571.00" x2="309.30" y2="571.00" stroke="#f06a6a" stroke-width="0.9"/>
<polygon points="206.00,568.50 208.50,571.00 206.00,573.50 203.50,571.00" fill="#e0101c" stroke="#e0101c" stroke-width="0.2"/>
<polygon points="225.30,568.50 227.80,571.00 225.30,573.50 222.80,571.00" fill="#e0101c" stroke="#e0101c" stroke-width="0.2"/>
<polygon points="225.60,568.50 228.10,571.00 225.60,573.50 223.10,571.00" fill="#e0101c" stroke="#e0101c" stroke-width="0.2"/>
<polygon points="231.40,568.50 233.90,571.00 231.40,573.50 228.90,571.00" fill="#e0101c" stroke="#e0101c" stroke-width="0.2"/>
<polygon points="233.10,568.50 235.60,571.00 233.10,573.50 230.60,571.00" fill="#e0101c" stroke="#e0101c" stroke-width="0.2"/>
<polygon points="235.40,568.50 237.90,571.00 235.40,573.50 232.90,571.00" fill="#e0101c" stroke="#e0101c" stroke-width="0.2"/>
<polygon points="244.20,568.50 246.70,571.00 244.20,573.50 241.70,571.00" fill="#e0101c" stroke="#e0101c" stroke-width="0.2"/>
<polygon points="248.90,568.50 251.40,571.00 248.90,573.50 246.40,571.00" fill="#e0101c" stroke="#e0101c" stroke-width="0.2"/>
<polygon points="251.50,568.50 254.00,571.00 251.50,573.50 249.00,571.00" fill="#e0101c" stroke="#e0101c" stroke-width="0.2"/>
<polygon points="270.50,568.50 273.00,571.00 270.50,573.50 268.00,571.00" fill="#e0101c" stroke="#e0101c" stroke-width="0.2"/>
<polygon points="280.40,568.50 282.90,571.00 280.40,573.50 277.90,571.00" fill="#e0101c" stroke="#e0101c" stroke-width="0.2"/>
<polygon points="309.30,568.50 311.80,571.00 309.30,573.50 306.80,571.00" fill="#e0101c" stroke="#e0101c" stroke-width="0.2"/>
<polygon points="262.25,562.15 267.55,567.45 262.25,567.45" fill="#e0101c"/>
<line x1="130.70" y1="584.70" x2="308.50" y2="584.70" stroke="#e0101c" stroke-width="0.9"/>
<circle cx="130.70" cy="584.70" r="2.80" fill="#e0101c" stroke="none" stroke-width="0.6"/>
<circle cx="195.00" cy="584.70" r="2.80" fill="#e0101c" stroke="none" stroke-width="0.6"/>
<circle cx="210.70" cy="584.70" r="2.80" fill="#e0101c" stroke="none" stroke-width="0.6"/>
<circle cx="238.40" cy="584.70" r="2.80" fill="#e0101c" stroke="none" stroke-width="0.6"/>
<circle cx="263.80" cy="584.70" r="2.80" fill="#e0101c" stroke="none" stroke-width="0.6"/>
<circle cx="267.30" cy="584.70" r="2.80" fill="#e0101c" stroke="none" stroke-width="0.6"/>
<circle cx="293.60" cy="584.70" r="2.80" fill="#e0101c" stroke="none" stroke-width="0.6"/>
<circle cx="308.50" cy="584.70" r="2.80" fill="#e0101c" stroke="none" stroke-width="0.6"/>
<text x="146.80" y="601.30" font-size="6.8" font-weight="bold" text-anchor="start" fill="#000" stroke="#000" stroke-width="0.170">Global CAMP (201.43 ± 0.15)</text>
<line x1="238.40" y1="599.10" x2="260.60" y2="599.10" stroke="#444" stroke-width="0.8"/>
<path d="M256.6,597.1 L260.6,599.1 L256.6,601.1" stroke="#444" stroke-width="0.8" fill="none"/>
<line x1="130.70" y1="612.20" x2="248.60" y2="612.20" stroke="#2f7af0" stroke-width="0.9"/>
<polygon points="128.40,613.90 133.00,613.90 130.70,609.90" fill="#2f7af0" stroke="#2f7af0" stroke-width="0.2"/>
<polygon points="145.90,613.90 150.50,613.90 148.20,609.90" fill="#2f7af0" stroke="#2f7af0" stroke-width="0.2"/>
<polygon points="185.70,613.90 190.30,613.90 188.00,609.90" fill="#2f7af0" stroke="#2f7af0" stroke-width="0.2"/>
<polygon points="221.60,613.90 226.20,613.90 223.90,609.90" fill="#2f7af0" stroke="#2f7af0" stroke-width="0.2"/>
<polygon points="246.30,613.90 250.90,613.90 248.60,609.90" fill="#2f7af0" stroke="#2f7af0" stroke-width="0.2"/>
<line x1="214.20" y1="629.20" x2="265.80" y2="629.20" stroke="#79a8f4" stroke-width="0.9"/>
<rect x="211.45" y="626.45" width="5.50" height="5.50" fill="#2f7af0" stroke="#2f7af0" stroke-width="0.1"/>
<rect x="230.05" y="626.45" width="5.50" height="5.50" fill="#2f7af0" stroke="#2f7af0" stroke-width="0.1"/>
<rect x="237.25" y="626.45" width="5.50" height="5.50" fill="#2f7af0" stroke="#2f7af0" stroke-width="0.1"/>
<rect x="240.85" y="626.45" width="5.50" height="5.50" fill="#2f7af0" stroke="#2f7af0" stroke-width="0.1"/>
<rect x="244.35" y="626.45" width="5.50" height="5.50" fill="#2f7af0" stroke="#2f7af0" stroke-width="0.1"/>
<rect x="251.25" y="626.45" width="5.50" height="5.50" fill="#2f7af0" stroke="#2f7af0" stroke-width="0.1"/>
<rect x="254.75" y="626.45" width="5.50" height="5.50" fill="#2f7af0" stroke="#2f7af0" stroke-width="0.1"/>
<rect x="258.25" y="626.45" width="5.50" height="5.50" fill="#2f7af0" stroke="#2f7af0" stroke-width="0.1"/>
<rect x="261.75" y="626.45" width="5.50" height="5.50" fill="#2f7af0" stroke="#2f7af0" stroke-width="0.1"/>
<rect x="263.05" y="626.45" width="5.50" height="5.50" fill="#2f7af0" stroke="#2f7af0" stroke-width="0.1"/>
<rect x="39.80" y="475.00" width="290.20" height="182.00" fill="none" stroke="#111" stroke-width="1"/>
<line x1="39.80" y1="657.00" x2="39.80" y2="655.00" stroke="#000" stroke-width="0.7"/>
<line x1="39.80" y1="475.00" x2="39.80" y2="477.00" stroke="#000" stroke-width="0.7"/>
<line x1="54.31" y1="657.00" x2="54.31" y2="655.00" stroke="#000" stroke-width="0.7"/>
<line x1="54.31" y1="475.00" x2="54.31" y2="477.00" stroke="#000" stroke-width="0.7"/>
<line x1="68.82" y1="657.00" x2="68.82" y2="655.00" stroke="#000" stroke-width="0.7"/>
<line x1="68.82" y1="475.00" x2="68.82" y2="477.00" stroke="#000" stroke-width="0.7"/>
<line x1="83.33" y1="657.00" x2="83.33" y2="655.00" stroke="#000" stroke-width="0.7"/>
<line x1="83.33" y1="475.00" x2="83.33" y2="477.00" stroke="#000" stroke-width="0.7"/>
<line x1="97.84" y1="657.00" x2="97.84" y2="653.80" stroke="#000" stroke-width="0.7"/>
<line x1="97.84" y1="475.00" x2="97.84" y2="478.20" stroke="#000" stroke-width="0.7"/>
<line x1="112.35" y1="657.00" x2="112.35" y2="655.00" stroke="#000" stroke-width="0.7"/>
<line x1="112.35" y1="475.00" x2="112.35" y2="477.00" stroke="#000" stroke-width="0.7"/>
<line x1="126.86" y1="657.00" x2="126.86" y2="655.00" stroke="#000" stroke-width="0.7"/>
<line x1="126.86" y1="475.00" x2="126.86" y2="477.00" stroke="#000" stroke-width="0.7"/>
<line x1="141.37" y1="657.00" x2="141.37" y2="655.00" stroke="#000" stroke-width="0.7"/>
<line x1="141.37" y1="475.00" x2="141.37" y2="477.00" stroke="#000" stroke-width="0.7"/>
<line x1="155.88" y1="657.00" x2="155.88" y2="655.00" stroke="#000" stroke-width="0.7"/>
<line x1="155.88" y1="475.00" x2="155.88" y2="477.00" stroke="#000" stroke-width="0.7"/>
<line x1="170.39" y1="657.00" x2="170.39" y2="653.80" stroke="#000" stroke-width="0.7"/>
<line x1="170.39" y1="475.00" x2="170.39" y2="478.20" stroke="#000" stroke-width="0.7"/>
<line x1="184.90" y1="657.00" x2="184.90" y2="655.00" stroke="#000" stroke-width="0.7"/>
<line x1="184.90" y1="475.00" x2="184.90" y2="477.00" stroke="#000" stroke-width="0.7"/>
<line x1="199.41" y1="657.00" x2="199.41" y2="655.00" stroke="#000" stroke-width="0.7"/>
<line x1="199.41" y1="475.00" x2="199.41" y2="477.00" stroke="#000" stroke-width="0.7"/>
<line x1="213.92" y1="657.00" x2="213.92" y2="655.00" stroke="#000" stroke-width="0.7"/>
<line x1="213.92" y1="475.00" x2="213.92" y2="477.00" stroke="#000" stroke-width="0.7"/>
<line x1="228.43" y1="657.00" x2="228.43" y2="655.00" stroke="#000" stroke-width="0.7"/>
<line x1="228.43" y1="475.00" x2="228.43" y2="477.00" stroke="#000" stroke-width="0.7"/>
<line x1="242.94" y1="657.00" x2="242.94" y2="653.80" stroke="#000" stroke-width="0.7"/>
<line x1="242.94" y1="475.00" x2="242.94" y2="478.20" stroke="#000" stroke-width="0.7"/>
<line x1="257.45" y1="657.00" x2="257.45" y2="655.00" stroke="#000" stroke-width="0.7"/>
<line x1="257.45" y1="475.00" x2="257.45" y2="477.00" stroke="#000" stroke-width="0.7"/>
<line x1="271.96" y1="657.00" x2="271.96" y2="655.00" stroke="#000" stroke-width="0.7"/>
<line x1="271.96" y1="475.00" x2="271.96" y2="477.00" stroke="#000" stroke-width="0.7"/>
<line x1="286.47" y1="657.00" x2="286.47" y2="655.00" stroke="#000" stroke-width="0.7"/>
<line x1="286.47" y1="475.00" x2="286.47" y2="477.00" stroke="#000" stroke-width="0.7"/>
<line x1="300.98" y1="657.00" x2="300.98" y2="655.00" stroke="#000" stroke-width="0.7"/>
<line x1="300.98" y1="475.00" x2="300.98" y2="477.00" stroke="#000" stroke-width="0.7"/>
<line x1="315.49" y1="657.00" x2="315.49" y2="653.80" stroke="#000" stroke-width="0.7"/>
<line x1="315.49" y1="475.00" x2="315.49" y2="478.20" stroke="#000" stroke-width="0.7"/>
<line x1="330.00" y1="657.00" x2="330.00" y2="655.00" stroke="#000" stroke-width="0.7"/>
<line x1="330.00" y1="475.00" x2="330.00" y2="477.00" stroke="#000" stroke-width="0.7"/>
<line x1="39.80" y1="639.30" x2="42.80" y2="639.30" stroke="#000" stroke-width="0.7"/>
<line x1="330.00" y1="639.30" x2="327.00" y2="639.30" stroke="#000" stroke-width="0.7"/>
<text x="32.60" y="643.10" font-size="10.7" font-weight="bold" text-anchor="end" fill="#000" stroke="#000" stroke-width="0.268">-20</text>
<line x1="39.80" y1="602.80" x2="42.80" y2="602.80" stroke="#000" stroke-width="0.7"/>
<line x1="330.00" y1="602.80" x2="327.00" y2="602.80" stroke="#000" stroke-width="0.7"/>
<text x="32.60" y="606.60" font-size="10.7" font-weight="bold" text-anchor="end" fill="#000" stroke="#000" stroke-width="0.268">0.0</text>
<line x1="39.80" y1="566.30" x2="42.80" y2="566.30" stroke="#000" stroke-width="0.7"/>
<line x1="330.00" y1="566.30" x2="327.00" y2="566.30" stroke="#000" stroke-width="0.7"/>
<text x="32.60" y="570.10" font-size="10.7" font-weight="bold" text-anchor="end" fill="#000" stroke="#000" stroke-width="0.268">20</text>
<line x1="39.80" y1="529.80" x2="42.80" y2="529.80" stroke="#000" stroke-width="0.7"/>
<line x1="330.00" y1="529.80" x2="327.00" y2="529.80" stroke="#000" stroke-width="0.7"/>
<text x="32.60" y="533.60" font-size="10.7" font-weight="bold" text-anchor="end" fill="#000" stroke="#000" stroke-width="0.268">40</text>
<line x1="39.80" y1="493.30" x2="42.80" y2="493.30" stroke="#000" stroke-width="0.7"/>
<line x1="330.00" y1="493.30" x2="327.00" y2="493.30" stroke="#000" stroke-width="0.7"/>
<text x="32.60" y="497.10" font-size="10.7" font-weight="bold" text-anchor="end" fill="#000" stroke="#000" stroke-width="0.268">60</text>
<text x="97.84" y="669.20" font-size="10.7" font-weight="bold" text-anchor="middle" fill="#000" stroke="#000" stroke-width="0.268">190</text>
<text x="170.39" y="669.20" font-size="10.7" font-weight="bold" text-anchor="middle" fill="#000" stroke="#000" stroke-width="0.268">195</text>
<text x="242.94" y="669.20" font-size="10.7" font-weight="bold" text-anchor="middle" fill="#000" stroke="#000" stroke-width="0.268">200</text>
<text x="315.49" y="669.20" font-size="10.7" font-weight="bold" text-anchor="middle" fill="#000" stroke="#000" stroke-width="0.268">205</text>
<text x="174.90" y="683.20" font-size="11" font-weight="bold" text-anchor="middle" fill="#000" stroke="#000" stroke-width="0.275">Date (Ma)</text>
<text x="11.00" y="565.10" font-size="11" font-weight="bold" text-anchor="middle" fill="#000" textLength="80" lengthAdjust="spacingAndGlyphs" transform="rotate(-90 11.0 565.1)" stroke="#000" stroke-width="0.275">Latitude  north</text>
<text x="45.20" y="489.30" font-size="9.5" font-weight="bold" text-anchor="start" fill="#000" textLength="12.6" lengthAdjust="spacingAndGlyphs" font-style="italic" stroke="#000" stroke-width="0.238">(e)</text>
<text x="101.60" y="488.20" font-size="7.9" font-weight="bold" text-anchor="start" fill="#000" textLength="105.6" lengthAdjust="spacingAndGlyphs" stroke="#000" stroke-width="0.198">Y = -311.6 + 1.711X: R = 0.15</text>
<rect x="53.40" y="532.20" width="64.30" height="108.70" fill="#fff" stroke="#555" stroke-width="0.9"/>
<line x1="57.80" y1="541.00" x2="77.10" y2="541.00" stroke="#e83a40" stroke-width="0.9"/>
<polygon points="65.10,542.80 69.70,542.80 67.40,538.80" fill="#e0101c" stroke="#e0101c" stroke-width="0.2"/>
<text x="80.10" y="543.40" font-size="6.7" font-weight="bold" text-anchor="start" fill="#e0101c" stroke="#e0101c" stroke-width="0.168">Morocco</text>
<line x1="57.80" y1="551.32" x2="77.10" y2="551.32" stroke="#e83a40" stroke-width="0.9"/>
<polygon points="67.40,548.92 69.80,551.32 67.40,553.72 65.00,551.32" fill="#e0101c" stroke="#e0101c" stroke-width="0.2"/>
<text x="80.10" y="553.72" font-size="6.7" font-weight="bold" text-anchor="start" fill="#e0101c" stroke="#e0101c" stroke-width="0.168">Mali</text>
<line x1="57.80" y1="561.64" x2="77.10" y2="561.64" stroke="#e83a40" stroke-width="0.9"/>
<circle cx="67.40" cy="561.64" r="2.70" fill="#e0101c" stroke="none" stroke-width="0.6"/>
<text x="80.10" y="564.04" font-size="6.7" font-weight="bold" text-anchor="start" fill="#e0101c" stroke="#e0101c" stroke-width="0.168">Guinea</text>
<polygon points="64.85,569.41 69.95,574.51 64.85,574.51" fill="#e0101c"/>
<text x="80.10" y="574.36" font-size="6.7" font-weight="bold" text-anchor="start" fill="#e0101c" stroke="#e0101c" stroke-width="0.168">Mauritania</text>
<line x1="57.80" y1="582.28" x2="77.10" y2="582.28" stroke="#4a8af2" stroke-width="0.9"/>
<polygon points="65.10,584.08 69.70,584.08 67.40,580.08" fill="#2f7af0" stroke="#2f7af0" stroke-width="0.2"/>
<text x="80.10" y="584.68" font-size="6.7" font-weight="bold" text-anchor="start" fill="#2f7af0" stroke="#2f7af0" stroke-width="0.168">Maranhao</text>
<line x1="57.80" y1="592.60" x2="77.10" y2="592.60" stroke="#4a8af2" stroke-width="0.9"/>
<rect x="65.00" y="590.20" width="4.80" height="4.80" fill="#2f7af0" stroke="#2f7af0" stroke-width="0.2"/>
<text x="80.10" y="595.00" font-size="6.7" font-weight="bold" text-anchor="start" fill="#2f7af0" stroke="#2f7af0" stroke-width="0.168">Brazil</text>
<line x1="57.80" y1="602.92" x2="77.10" y2="602.92" stroke="#000" stroke-width="0.9"/>
<polygon points="65.10,604.72 69.70,604.72 67.40,600.72" fill="#000" stroke="#000" stroke-width="0.2"/>
<text x="80.10" y="605.32" font-size="6.7" font-weight="bold" text-anchor="start" fill="#000" stroke="#000" stroke-width="0.168">USA</text>
<line x1="57.80" y1="613.24" x2="77.10" y2="613.24" stroke="#000" stroke-width="0.9"/>
<polygon points="67.40,610.84 69.80,613.24 67.40,615.64 65.00,613.24" fill="#000" stroke="#000" stroke-width="0.2"/>
<text x="80.10" y="615.64" font-size="6.7" font-weight="bold" text-anchor="start" fill="#000" stroke="#000" stroke-width="0.168">Canada</text>
<circle cx="67.40" cy="623.56" r="2.70" fill="#000" stroke="none" stroke-width="0.6"/>
<text x="80.10" y="625.96" font-size="6.7" font-weight="bold" text-anchor="start" fill="#000" stroke="#000" stroke-width="0.168">Spain</text>
<rect x="65.10" y="631.58" width="4.60" height="4.60" fill="#000" stroke="#000" stroke-width="0.2"/>
<text x="80.10" y="636.28" font-size="6.7" font-weight="bold" text-anchor="start" fill="#000" stroke="#000" stroke-width="0.168">Portugal</text>
<rect x="612.60" y="475.20" width="4.20" height="188.10" fill="#d9d9d9" stroke="none" stroke-width="1"/>
<line x1="510.40" y1="633.60" x2="662.80" y2="502.00" stroke="#000" stroke-width="0.9"/>
<line x1="572.40" y1="501.00" x2="641.80" y2="501.00" stroke="#222" stroke-width="0.8"/>
<line x1="572.40" y1="499.70" x2="572.40" y2="502.30" stroke="#222" stroke-width="0.8"/>
<line x1="641.80" y1="499.70" x2="641.80" y2="502.30" stroke="#222" stroke-width="0.8"/>
<line x1="572.40" y1="504.30" x2="631.50" y2="504.30" stroke="#222" stroke-width="0.8"/>
<line x1="572.40" y1="503.00" x2="572.40" y2="505.60" stroke="#222" stroke-width="0.8"/>
<line x1="631.50" y1="503.00" x2="631.50" y2="505.60" stroke="#222" stroke-width="0.8"/>
<polygon points="607.10,498.40 609.70,501.00 607.10,503.60 604.50,501.00" fill="#000" stroke="#000" stroke-width="0.3"/>
<polygon points="599.60,506.40 604.40,506.40 602.00,502.20" fill="#000" stroke="#000" stroke-width="0.3"/>
<text x="497.40" y="522.10" font-size="6.9" font-weight="bold" text-anchor="start" fill="#000" stroke="#000" stroke-width="0.173">Global CAMP (201.43 ± 0.15)</text>
<line x1="590.70" y1="519.60" x2="612.00" y2="519.60" stroke="#444" stroke-width="0.8"/>
<path d="M607.5,517.4 L612,519.6 L607.5,521.8" stroke="#444" stroke-width="0.8" fill="none"/>
<circle cx="616.60" cy="530.60" r="2.70" fill="#000" stroke="none" stroke-width="0.6"/>
<rect x="585.20" y="530.50" width="5.00" height="5.00" fill="#000" stroke="#000" stroke-width="0.3"/>
<line x1="579.70" y1="547.00" x2="626.80" y2="547.00" stroke="#f06a6a" stroke-width="0.8"/>
<line x1="579.70" y1="545.70" x2="579.70" y2="548.30" stroke="#f06a6a" stroke-width="0.8"/>
<line x1="626.80" y1="545.70" x2="626.80" y2="548.30" stroke="#f06a6a" stroke-width="0.8"/>
<polygon points="600.80,548.90 605.60,548.90 603.20,544.70" fill="#e0101c" stroke="#e0101c" stroke-width="0.2"/>
<polygon points="612.95,564.75 618.25,570.05 612.95,570.05" fill="#e0101c"/>
<line x1="567.30" y1="573.60" x2="630.40" y2="573.60" stroke="#f06a6a" stroke-width="0.8"/>
<line x1="567.30" y1="572.30" x2="567.30" y2="574.90" stroke="#f06a6a" stroke-width="0.8"/>
<line x1="630.40" y1="572.30" x2="630.40" y2="574.90" stroke="#f06a6a" stroke-width="0.8"/>
<polygon points="598.90,571.10 601.40,573.60 598.90,576.10 596.40,573.60" fill="#e0101c" stroke="#e0101c" stroke-width="0.2"/>
<line x1="521.20" y1="588.30" x2="653.60" y2="588.30" stroke="#f06a6a" stroke-width="0.8"/>
<line x1="521.20" y1="587.00" x2="521.20" y2="589.60" stroke="#f06a6a" stroke-width="0.8"/>
<line x1="653.60" y1="587.00" x2="653.60" y2="589.60" stroke="#f06a6a" stroke-width="0.8"/>
<circle cx="587.70" cy="588.30" r="2.80" fill="#e0101c" stroke="none" stroke-width="0.6"/>
<line x1="464.00" y1="616.40" x2="594.20" y2="616.40" stroke="#79a8f4" stroke-width="0.8"/>
<line x1="464.00" y1="615.10" x2="464.00" y2="617.70" stroke="#79a8f4" stroke-width="0.8"/>
<line x1="594.20" y1="615.10" x2="594.20" y2="617.70" stroke="#79a8f4" stroke-width="0.8"/>
<polygon points="532.00,618.20 536.60,618.20 534.30,614.20" fill="#2f7af0" stroke="#2f7af0" stroke-width="0.2"/>
<line x1="588.50" y1="633.80" x2="620.40" y2="633.80" stroke="#2f7af0" stroke-width="0.8"/>
<line x1="588.50" y1="632.50" x2="588.50" y2="635.10" stroke="#2f7af0" stroke-width="0.8"/>
<line x1="620.40" y1="632.50" x2="620.40" y2="635.10" stroke="#2f7af0" stroke-width="0.8"/>
<rect x="601.90" y="631.30" width="5.00" height="5.00" fill="#2f7af0" stroke="#2f7af0" stroke-width="0.2"/>
<rect x="414.50" y="517.30" width="62.00" height="108.40" fill="#fff" stroke="#333" stroke-width="0.9"/>
<polygon points="426.90,526.60 431.50,526.60 429.20,522.60" fill="#e0101c" stroke="#e0101c" stroke-width="0.2"/>
<text x="441.00" y="527.30" font-size="7.0" font-weight="normal" text-anchor="start" fill="#e0101c">Morocco</text>
<polygon points="429.20,532.86 431.60,535.26 429.20,537.66 426.80,535.26" fill="#e0101c" stroke="#e0101c" stroke-width="0.2"/>
<text x="441.00" y="537.76" font-size="7.0" font-weight="normal" text-anchor="start" fill="#e0101c">Mali</text>
<circle cx="429.20" cy="545.72" r="2.70" fill="#e0101c" stroke="none" stroke-width="0.6"/>
<text x="441.00" y="548.22" font-size="7.0" font-weight="normal" text-anchor="start" fill="#e0101c">Guinea</text>
<polygon points="426.65,553.63 431.75,558.73 426.65,558.73" fill="#e0101c"/>
<text x="441.00" y="558.68" font-size="7.0" font-weight="normal" text-anchor="start" fill="#e0101c">Mauritania</text>
<polygon points="426.90,568.44 431.50,568.44 429.20,564.44" fill="#2f7af0" stroke="#2f7af0" stroke-width="0.2"/>
<text x="441.00" y="569.14" font-size="7.0" font-weight="normal" text-anchor="start" fill="#2f7af0">Maranhao</text>
<rect x="426.80" y="574.70" width="4.80" height="4.80" fill="#2f7af0" stroke="#2f7af0" stroke-width="0.2"/>
<text x="441.00" y="579.60" font-size="7.0" font-weight="normal" text-anchor="start" fill="#2f7af0">Brazil</text>
<polygon points="426.90,589.36 431.50,589.36 429.20,585.36" fill="#000" stroke="#000" stroke-width="0.2"/>
<text x="441.00" y="590.06" font-size="7.0" font-weight="normal" text-anchor="start" fill="#000">USA</text>
<polygon points="429.20,595.62 431.60,598.02 429.20,600.42 426.80,598.02" fill="#000" stroke="#000" stroke-width="0.2"/>
<text x="441.00" y="600.52" font-size="7.0" font-weight="normal" text-anchor="start" fill="#000">Canada</text>
<circle cx="429.20" cy="608.48" r="2.70" fill="#000" stroke="none" stroke-width="0.6"/>
<text x="441.00" y="610.98" font-size="7.0" font-weight="normal" text-anchor="start" fill="#000">Spain</text>
<rect x="426.80" y="616.54" width="4.80" height="4.80" fill="#000" stroke="#000" stroke-width="0.2"/>
<text x="441.00" y="621.44" font-size="7.0" font-weight="normal" text-anchor="start" fill="#000">Portugal</text>
<rect x="408.90" y="475.20" width="275.30" height="188.10" fill="none" stroke="#111" stroke-width="1"/>
<line x1="408.90" y1="663.30" x2="408.90" y2="660.10" stroke="#000" stroke-width="0.7"/>
<line x1="408.90" y1="475.20" x2="408.90" y2="478.40" stroke="#000" stroke-width="0.7"/>
<line x1="424.18" y1="663.30" x2="424.18" y2="661.30" stroke="#000" stroke-width="0.7"/>
<line x1="424.18" y1="475.20" x2="424.18" y2="477.20" stroke="#000" stroke-width="0.7"/>
<line x1="439.46" y1="663.30" x2="439.46" y2="661.30" stroke="#000" stroke-width="0.7"/>
<line x1="439.46" y1="475.20" x2="439.46" y2="477.20" stroke="#000" stroke-width="0.7"/>
<line x1="454.74" y1="663.30" x2="454.74" y2="661.30" stroke="#000" stroke-width="0.7"/>
<line x1="454.74" y1="475.20" x2="454.74" y2="477.20" stroke="#000" stroke-width="0.7"/>
<line x1="470.02" y1="663.30" x2="470.02" y2="660.10" stroke="#000" stroke-width="0.7"/>
<line x1="470.02" y1="475.20" x2="470.02" y2="478.40" stroke="#000" stroke-width="0.7"/>
<line x1="485.30" y1="663.30" x2="485.30" y2="661.30" stroke="#000" stroke-width="0.7"/>
<line x1="485.30" y1="475.20" x2="485.30" y2="477.20" stroke="#000" stroke-width="0.7"/>
<line x1="500.58" y1="663.30" x2="500.58" y2="661.30" stroke="#000" stroke-width="0.7"/>
<line x1="500.58" y1="475.20" x2="500.58" y2="477.20" stroke="#000" stroke-width="0.7"/>
<line x1="515.86" y1="663.30" x2="515.86" y2="661.30" stroke="#000" stroke-width="0.7"/>
<line x1="515.86" y1="475.20" x2="515.86" y2="477.20" stroke="#000" stroke-width="0.7"/>
<line x1="531.14" y1="663.30" x2="531.14" y2="660.10" stroke="#000" stroke-width="0.7"/>
<line x1="531.14" y1="475.20" x2="531.14" y2="478.40" stroke="#000" stroke-width="0.7"/>
<line x1="546.42" y1="663.30" x2="546.42" y2="661.30" stroke="#000" stroke-width="0.7"/>
<line x1="546.42" y1="475.20" x2="546.42" y2="477.20" stroke="#000" stroke-width="0.7"/>
<line x1="561.70" y1="663.30" x2="561.70" y2="661.30" stroke="#000" stroke-width="0.7"/>
<line x1="561.70" y1="475.20" x2="561.70" y2="477.20" stroke="#000" stroke-width="0.7"/>
<line x1="576.98" y1="663.30" x2="576.98" y2="661.30" stroke="#000" stroke-width="0.7"/>
<line x1="576.98" y1="475.20" x2="576.98" y2="477.20" stroke="#000" stroke-width="0.7"/>
<line x1="592.26" y1="663.30" x2="592.26" y2="660.10" stroke="#000" stroke-width="0.7"/>
<line x1="592.26" y1="475.20" x2="592.26" y2="478.40" stroke="#000" stroke-width="0.7"/>
<line x1="607.54" y1="663.30" x2="607.54" y2="661.30" stroke="#000" stroke-width="0.7"/>
<line x1="607.54" y1="475.20" x2="607.54" y2="477.20" stroke="#000" stroke-width="0.7"/>
<line x1="622.82" y1="663.30" x2="622.82" y2="661.30" stroke="#000" stroke-width="0.7"/>
<line x1="622.82" y1="475.20" x2="622.82" y2="477.20" stroke="#000" stroke-width="0.7"/>
<line x1="638.10" y1="663.30" x2="638.10" y2="661.30" stroke="#000" stroke-width="0.7"/>
<line x1="638.10" y1="475.20" x2="638.10" y2="477.20" stroke="#000" stroke-width="0.7"/>
<line x1="653.38" y1="663.30" x2="653.38" y2="660.10" stroke="#000" stroke-width="0.7"/>
<line x1="653.38" y1="475.20" x2="653.38" y2="478.40" stroke="#000" stroke-width="0.7"/>
<line x1="668.66" y1="663.30" x2="668.66" y2="661.30" stroke="#000" stroke-width="0.7"/>
<line x1="668.66" y1="475.20" x2="668.66" y2="477.20" stroke="#000" stroke-width="0.7"/>
<line x1="683.94" y1="663.30" x2="683.94" y2="661.30" stroke="#000" stroke-width="0.7"/>
<line x1="683.94" y1="475.20" x2="683.94" y2="477.20" stroke="#000" stroke-width="0.7"/>
<line x1="408.90" y1="644.08" x2="411.90" y2="644.08" stroke="#000" stroke-width="0.7"/>
<line x1="684.20" y1="644.08" x2="681.20" y2="644.08" stroke="#000" stroke-width="0.7"/>
<text x="405.40" y="647.48" font-size="11.3" font-weight="bold" text-anchor="end" fill="#000" stroke="#000" stroke-width="0.283">-20</text>
<line x1="408.90" y1="606.60" x2="411.90" y2="606.60" stroke="#000" stroke-width="0.7"/>
<line x1="684.20" y1="606.60" x2="681.20" y2="606.60" stroke="#000" stroke-width="0.7"/>
<text x="405.40" y="610.00" font-size="11.3" font-weight="bold" text-anchor="end" fill="#000" stroke="#000" stroke-width="0.283">0.0</text>
<line x1="408.90" y1="569.12" x2="411.90" y2="569.12" stroke="#000" stroke-width="0.7"/>
<line x1="684.20" y1="569.12" x2="681.20" y2="569.12" stroke="#000" stroke-width="0.7"/>
<text x="405.40" y="572.52" font-size="11.3" font-weight="bold" text-anchor="end" fill="#000" stroke="#000" stroke-width="0.283">20</text>
<line x1="408.90" y1="531.64" x2="411.90" y2="531.64" stroke="#000" stroke-width="0.7"/>
<line x1="684.20" y1="531.64" x2="681.20" y2="531.64" stroke="#000" stroke-width="0.7"/>
<text x="405.40" y="535.04" font-size="11.3" font-weight="bold" text-anchor="end" fill="#000" stroke="#000" stroke-width="0.283">40</text>
<line x1="408.90" y1="494.16" x2="411.90" y2="494.16" stroke="#000" stroke-width="0.7"/>
<line x1="684.20" y1="494.16" x2="681.20" y2="494.16" stroke="#000" stroke-width="0.7"/>
<text x="405.40" y="497.56" font-size="11.3" font-weight="bold" text-anchor="end" fill="#000" stroke="#000" stroke-width="0.283">60</text>
<text x="408.90" y="675.60" font-size="11.3" font-weight="bold" text-anchor="middle" fill="#000" stroke="#000" stroke-width="0.283">188</text>
<text x="470.02" y="675.60" font-size="11.3" font-weight="bold" text-anchor="middle" fill="#000" stroke="#000" stroke-width="0.283">192</text>
<text x="531.14" y="675.60" font-size="11.3" font-weight="bold" text-anchor="middle" fill="#000" stroke="#000" stroke-width="0.283">196</text>
<text x="592.26" y="675.60" font-size="11.3" font-weight="bold" text-anchor="middle" fill="#000" stroke="#000" stroke-width="0.283">200</text>
<text x="653.38" y="675.60" font-size="11.3" font-weight="bold" text-anchor="middle" fill="#000" stroke="#000" stroke-width="0.283">204</text>
<text x="547.00" y="693.80" font-size="11.3" font-weight="bold" text-anchor="middle" fill="#000" stroke="#000" stroke-width="0.283">Date (Ma)</text>
<text x="385.60" y="555.50" font-size="11.3" font-weight="bold" text-anchor="middle" fill="#000" textLength="80.8" lengthAdjust="spacingAndGlyphs" transform="rotate(-90 385.6 555.5)" stroke="#000" stroke-width="0.283">Latitude  north</text>
<text x="414.50" y="489.30" font-size="9" font-weight="bold" text-anchor="start" fill="#000" font-style="italic" stroke="#000" stroke-width="0.225">(f)</text>
<text x="416.00" y="654.60" font-size="8.05" font-weight="bold" text-anchor="start" fill="#000" stroke="#000" stroke-width="0.201">Y = -1403 + 7.13X: R = 0.46</text>
<rect x="65.70" y="738.20" width="48.20" height="22.50" fill="#dcdcdc" stroke="none" stroke-width="1"/>
<rect x="113.90" y="744.70" width="121.10" height="45.40" fill="#dcdcdc" stroke="none" stroke-width="1"/>
<rect x="234.20" y="777.20" width="59.70" height="35.00" fill="#dcdcdc" stroke="none" stroke-width="1"/>
<rect x="293.40" y="813.00" width="18.50" height="49.00" fill="#dcdcdc" stroke="none" stroke-width="1"/>
<line x1="71.50" y1="739.40" x2="71.50" y2="748.70" stroke="#a64ee0" stroke-width="0.9"/>
<line x1="70.30" y1="739.40" x2="72.70" y2="739.40" stroke="#a64ee0" stroke-width="0.9"/>
<line x1="70.30" y1="748.70" x2="72.70" y2="748.70" stroke="#a64ee0" stroke-width="0.9"/>
<polygon points="71.50,740.50 74.80,743.80 71.50,747.10 68.20,743.80" fill="#9a1fd6" stroke="#9a1fd6" stroke-width="0.2"/>
<line x1="78.50" y1="738.20" x2="78.50" y2="753.40" stroke="#a64ee0" stroke-width="0.9"/>
<line x1="77.30" y1="738.20" x2="79.70" y2="738.20" stroke="#a64ee0" stroke-width="0.9"/>
<line x1="77.30" y1="753.40" x2="79.70" y2="753.40" stroke="#a64ee0" stroke-width="0.9"/>
<polygon points="78.50,742.60 81.80,745.90 78.50,749.20 75.20,745.90" fill="#9a1fd6" stroke="#9a1fd6" stroke-width="0.2"/>
<line x1="84.60" y1="744.70" x2="84.60" y2="754.70" stroke="#a64ee0" stroke-width="0.9"/>
<line x1="83.40" y1="744.70" x2="85.80" y2="744.70" stroke="#a64ee0" stroke-width="0.9"/>
<line x1="83.40" y1="754.70" x2="85.80" y2="754.70" stroke="#a64ee0" stroke-width="0.9"/>
<polygon points="84.60,746.60 87.90,749.90 84.60,753.20 81.30,749.90" fill="#9a1fd6" stroke="#9a1fd6" stroke-width="0.2"/>
<line x1="91.50" y1="740.30" x2="91.50" y2="758.70" stroke="#a64ee0" stroke-width="0.9"/>
<line x1="90.30" y1="740.30" x2="92.70" y2="740.30" stroke="#a64ee0" stroke-width="0.9"/>
<line x1="90.30" y1="758.70" x2="92.70" y2="758.70" stroke="#a64ee0" stroke-width="0.9"/>
<polygon points="91.50,746.60 94.80,749.90 91.50,753.20 88.20,749.90" fill="#9a1fd6" stroke="#9a1fd6" stroke-width="0.2"/>
<line x1="98.50" y1="744.70" x2="98.50" y2="755.20" stroke="#a64ee0" stroke-width="0.9"/>
<line x1="97.30" y1="744.70" x2="99.70" y2="744.70" stroke="#a64ee0" stroke-width="0.9"/>
<line x1="97.30" y1="755.20" x2="99.70" y2="755.20" stroke="#a64ee0" stroke-width="0.9"/>
<polygon points="98.50,746.60 101.80,749.90 98.50,753.20 95.20,749.90" fill="#9a1fd6" stroke="#9a1fd6" stroke-width="0.2"/>
<line x1="105.10" y1="741.50" x2="105.10" y2="759.60" stroke="#a64ee0" stroke-width="0.9"/>
<line x1="103.90" y1="741.50" x2="106.30" y2="741.50" stroke="#a64ee0" stroke-width="0.9"/>
<line x1="103.90" y1="759.60" x2="106.30" y2="759.60" stroke="#a64ee0" stroke-width="0.9"/>
<polygon points="105.10,747.00 108.40,750.30 105.10,753.60 101.80,750.30" fill="#9a1fd6" stroke="#9a1fd6" stroke-width="0.2"/>
<line x1="118.50" y1="745.20" x2="118.50" y2="766.10" stroke="#e00000" stroke-width="0.9"/>
<line x1="117.30" y1="745.20" x2="119.70" y2="745.20" stroke="#e00000" stroke-width="0.9"/>
<line x1="117.30" y1="766.10" x2="119.70" y2="766.10" stroke="#e00000" stroke-width="0.9"/>
<line x1="125.20" y1="752.80" x2="125.20" y2="763.60" stroke="#e00000" stroke-width="0.9"/>
<line x1="124.00" y1="752.80" x2="126.40" y2="752.80" stroke="#e00000" stroke-width="0.9"/>
<line x1="124.00" y1="763.60" x2="126.40" y2="763.60" stroke="#e00000" stroke-width="0.9"/>
<line x1="132.30" y1="753.40" x2="132.30" y2="764.20" stroke="#e00000" stroke-width="0.9"/>
<line x1="131.10" y1="753.40" x2="133.50" y2="753.40" stroke="#e00000" stroke-width="0.9"/>
<line x1="131.10" y1="764.20" x2="133.50" y2="764.20" stroke="#e00000" stroke-width="0.9"/>
<line x1="139.20" y1="753.20" x2="139.20" y2="764.80" stroke="#e00000" stroke-width="0.9"/>
<line x1="138.00" y1="753.20" x2="140.40" y2="753.20" stroke="#e00000" stroke-width="0.9"/>
<line x1="138.00" y1="764.80" x2="140.40" y2="764.80" stroke="#e00000" stroke-width="0.9"/>
<line x1="145.60" y1="755.50" x2="145.60" y2="765.20" stroke="#e00000" stroke-width="0.9"/>
<line x1="144.40" y1="755.50" x2="146.80" y2="755.50" stroke="#e00000" stroke-width="0.9"/>
<line x1="144.40" y1="765.20" x2="146.80" y2="765.20" stroke="#e00000" stroke-width="0.9"/>
<line x1="152.50" y1="755.60" x2="152.50" y2="766.50" stroke="#e00000" stroke-width="0.9"/>
<line x1="151.30" y1="755.60" x2="153.70" y2="755.60" stroke="#e00000" stroke-width="0.9"/>
<line x1="151.30" y1="766.50" x2="153.70" y2="766.50" stroke="#e00000" stroke-width="0.9"/>
<line x1="159.10" y1="752.40" x2="159.10" y2="771.80" stroke="#e00000" stroke-width="0.9"/>
<line x1="157.90" y1="752.40" x2="160.30" y2="752.40" stroke="#e00000" stroke-width="0.9"/>
<line x1="157.90" y1="771.80" x2="160.30" y2="771.80" stroke="#e00000" stroke-width="0.9"/>
<line x1="166.20" y1="755.50" x2="166.20" y2="771.40" stroke="#e00000" stroke-width="0.9"/>
<line x1="165.00" y1="755.50" x2="167.40" y2="755.50" stroke="#e00000" stroke-width="0.9"/>
<line x1="165.00" y1="771.40" x2="167.40" y2="771.40" stroke="#e00000" stroke-width="0.9"/>
<line x1="172.90" y1="751.20" x2="172.90" y2="780.50" stroke="#e00000" stroke-width="0.9"/>
<line x1="171.70" y1="751.20" x2="174.10" y2="751.20" stroke="#e00000" stroke-width="0.9"/>
<line x1="171.70" y1="780.50" x2="174.10" y2="780.50" stroke="#e00000" stroke-width="0.9"/>
<line x1="179.20" y1="757.40" x2="179.20" y2="775.50" stroke="#e00000" stroke-width="0.9"/>
<line x1="178.00" y1="757.40" x2="180.40" y2="757.40" stroke="#e00000" stroke-width="0.9"/>
<line x1="178.00" y1="775.50" x2="180.40" y2="775.50" stroke="#e00000" stroke-width="0.9"/>
<line x1="186.00" y1="761.50" x2="186.00" y2="772.90" stroke="#e00000" stroke-width="0.9"/>
<line x1="184.80" y1="761.50" x2="187.20" y2="761.50" stroke="#e00000" stroke-width="0.9"/>
<line x1="184.80" y1="772.90" x2="187.20" y2="772.90" stroke="#e00000" stroke-width="0.9"/>
<line x1="192.90" y1="761.50" x2="192.90" y2="773.50" stroke="#e00000" stroke-width="0.9"/>
<line x1="191.70" y1="761.50" x2="194.10" y2="761.50" stroke="#e00000" stroke-width="0.9"/>
<line x1="191.70" y1="773.50" x2="194.10" y2="773.50" stroke="#e00000" stroke-width="0.9"/>
<line x1="199.80" y1="757.40" x2="199.80" y2="778.30" stroke="#e00000" stroke-width="0.9"/>
<line x1="198.60" y1="757.40" x2="201.00" y2="757.40" stroke="#e00000" stroke-width="0.9"/>
<line x1="198.60" y1="778.30" x2="201.00" y2="778.30" stroke="#e00000" stroke-width="0.9"/>
<line x1="206.80" y1="764.50" x2="206.80" y2="774.00" stroke="#e00000" stroke-width="0.9"/>
<line x1="205.60" y1="764.50" x2="208.00" y2="764.50" stroke="#e00000" stroke-width="0.9"/>
<line x1="205.60" y1="774.00" x2="208.00" y2="774.00" stroke="#e00000" stroke-width="0.9"/>
<line x1="213.20" y1="766.80" x2="213.20" y2="776.50" stroke="#e00000" stroke-width="0.9"/>
<line x1="212.00" y1="766.80" x2="214.40" y2="766.80" stroke="#e00000" stroke-width="0.9"/>
<line x1="212.00" y1="776.50" x2="214.40" y2="776.50" stroke="#e00000" stroke-width="0.9"/>
<line x1="219.80" y1="769.60" x2="219.80" y2="779.00" stroke="#e00000" stroke-width="0.9"/>
<line x1="218.60" y1="769.60" x2="221.00" y2="769.60" stroke="#e00000" stroke-width="0.9"/>
<line x1="218.60" y1="779.00" x2="221.00" y2="779.00" stroke="#e00000" stroke-width="0.9"/>
<line x1="226.90" y1="772.80" x2="226.90" y2="789.00" stroke="#e00000" stroke-width="0.9"/>
<line x1="225.70" y1="772.80" x2="228.10" y2="772.80" stroke="#e00000" stroke-width="0.9"/>
<line x1="225.70" y1="789.00" x2="228.10" y2="789.00" stroke="#e00000" stroke-width="0.9"/>
<rect x="115.05" y="752.95" width="6.90" height="6.90" fill="#e00000" stroke="#e00000" stroke-width="0.1"/>
<rect x="118.50" y="753.64" width="6.90" height="6.90" fill="#e00000" stroke="#e00000" stroke-width="0.1"/>
<rect x="121.95" y="754.28" width="6.90" height="6.90" fill="#e00000" stroke="#e00000" stroke-width="0.1"/>
<rect x="125.40" y="754.87" width="6.90" height="6.90" fill="#e00000" stroke="#e00000" stroke-width="0.1"/>
<rect x="128.85" y="755.39" width="6.90" height="6.90" fill="#e00000" stroke="#e00000" stroke-width="0.1"/>
<rect x="132.30" y="755.84" width="6.90" height="6.90" fill="#e00000" stroke="#e00000" stroke-width="0.1"/>
<rect x="135.75" y="756.27" width="6.90" height="6.90" fill="#e00000" stroke="#e00000" stroke-width="0.1"/>
<rect x="139.20" y="756.72" width="6.90" height="6.90" fill="#e00000" stroke="#e00000" stroke-width="0.1"/>
<rect x="142.65" y="757.21" width="6.90" height="6.90" fill="#e00000" stroke="#e00000" stroke-width="0.1"/>
<rect x="146.10" y="757.75" width="6.90" height="6.90" fill="#e00000" stroke="#e00000" stroke-width="0.1"/>
<rect x="149.55" y="758.31" width="6.90" height="6.90" fill="#e00000" stroke="#e00000" stroke-width="0.1"/>
<rect x="153.00" y="758.90" width="6.90" height="6.90" fill="#e00000" stroke="#e00000" stroke-width="0.1"/>
<rect x="156.45" y="759.53" width="6.90" height="6.90" fill="#e00000" stroke="#e00000" stroke-width="0.1"/>
<rect x="159.90" y="760.27" width="6.90" height="6.90" fill="#e00000" stroke="#e00000" stroke-width="0.1"/>
<rect x="163.35" y="761.10" width="6.90" height="6.90" fill="#e00000" stroke="#e00000" stroke-width="0.1"/>
<rect x="166.80" y="761.85" width="6.90" height="6.90" fill="#e00000" stroke="#e00000" stroke-width="0.1"/>
<rect x="170.25" y="762.39" width="6.90" height="6.90" fill="#e00000" stroke="#e00000" stroke-width="0.1"/>
<rect x="173.70" y="762.82" width="6.90" height="6.90" fill="#e00000" stroke="#e00000" stroke-width="0.1"/>
<rect x="177.15" y="763.19" width="6.90" height="6.90" fill="#e00000" stroke="#e00000" stroke-width="0.1"/>
<rect x="180.60" y="763.54" width="6.90" height="6.90" fill="#e00000" stroke="#e00000" stroke-width="0.1"/>
<rect x="184.05" y="763.91" width="6.90" height="6.90" fill="#e00000" stroke="#e00000" stroke-width="0.1"/>
<rect x="187.50" y="764.25" width="6.90" height="6.90" fill="#e00000" stroke="#e00000" stroke-width="0.1"/>
<rect x="190.95" y="764.59" width="6.90" height="6.90" fill="#e00000" stroke="#e00000" stroke-width="0.1"/>
<rect x="194.40" y="764.97" width="6.90" height="6.90" fill="#e00000" stroke="#e00000" stroke-width="0.1"/>
<rect x="197.85" y="765.44" width="6.90" height="6.90" fill="#e00000" stroke="#e00000" stroke-width="0.1"/>
<rect x="201.30" y="766.04" width="6.90" height="6.90" fill="#e00000" stroke="#e00000" stroke-width="0.1"/>
<rect x="204.75" y="766.92" width="6.90" height="6.90" fill="#e00000" stroke="#e00000" stroke-width="0.1"/>
<rect x="209.55" y="768.75" width="6.90" height="6.90" fill="#e00000" stroke="#e00000" stroke-width="0.1"/>
<rect x="211.55" y="769.15" width="6.90" height="6.90" fill="#e00000" stroke="#e00000" stroke-width="0.1"/>
<rect x="216.55" y="771.85" width="6.90" height="6.90" fill="#e00000" stroke="#e00000" stroke-width="0.1"/>
<rect x="223.75" y="777.95" width="6.90" height="6.90" fill="#e00000" stroke="#e00000" stroke-width="0.1"/>
<rect x="115.15" y="753.05" width="6.70" height="6.70" fill="#e00000" stroke="#e00000" stroke-width="0.1"/>
<line x1="240.10" y1="783.30" x2="240.10" y2="791.30" stroke="#000" stroke-width="0.9"/>
<line x1="238.90" y1="783.30" x2="241.30" y2="783.30" stroke="#000" stroke-width="0.9"/>
<line x1="238.90" y1="791.30" x2="241.30" y2="791.30" stroke="#000" stroke-width="0.9"/>
<polygon points="236.90,782.90 243.30,782.90 240.10,788.50" fill="#000" stroke="#000" stroke-width="0.2"/>
<line x1="247.00" y1="783.30" x2="247.00" y2="794.00" stroke="#000" stroke-width="0.9"/>
<line x1="245.80" y1="783.30" x2="248.20" y2="783.30" stroke="#000" stroke-width="0.9"/>
<line x1="245.80" y1="794.00" x2="248.20" y2="794.00" stroke="#000" stroke-width="0.9"/>
<polygon points="243.80,785.30 250.20,785.30 247.00,790.90" fill="#000" stroke="#000" stroke-width="0.2"/>
<line x1="253.70" y1="780.60" x2="253.70" y2="800.50" stroke="#000" stroke-width="0.9"/>
<line x1="252.50" y1="780.60" x2="254.90" y2="780.60" stroke="#000" stroke-width="0.9"/>
<line x1="252.50" y1="800.50" x2="254.90" y2="800.50" stroke="#000" stroke-width="0.9"/>
<polygon points="250.50,787.40 256.90,787.40 253.70,793.00" fill="#000" stroke="#000" stroke-width="0.2"/>
<line x1="260.50" y1="777.30" x2="260.50" y2="804.20" stroke="#000" stroke-width="0.9"/>
<line x1="259.30" y1="777.30" x2="261.70" y2="777.30" stroke="#000" stroke-width="0.9"/>
<line x1="259.30" y1="804.20" x2="261.70" y2="804.20" stroke="#000" stroke-width="0.9"/>
<polygon points="257.30,787.70 263.70,787.70 260.50,793.30" fill="#000" stroke="#000" stroke-width="0.2"/>
<line x1="267.40" y1="783.30" x2="267.40" y2="800.10" stroke="#000" stroke-width="0.9"/>
<line x1="266.20" y1="783.30" x2="268.60" y2="783.30" stroke="#000" stroke-width="0.9"/>
<line x1="266.20" y1="800.10" x2="268.60" y2="800.10" stroke="#000" stroke-width="0.9"/>
<polygon points="264.20,788.50 270.60,788.50 267.40,794.10" fill="#000" stroke="#000" stroke-width="0.2"/>
<line x1="273.80" y1="790.50" x2="273.80" y2="800.10" stroke="#000" stroke-width="0.9"/>
<line x1="272.60" y1="790.50" x2="275.00" y2="790.50" stroke="#000" stroke-width="0.9"/>
<line x1="272.60" y1="800.10" x2="275.00" y2="800.10" stroke="#000" stroke-width="0.9"/>
<polygon points="270.60,791.70 277.00,791.70 273.80,797.30" fill="#000" stroke="#000" stroke-width="0.2"/>
<line x1="280.70" y1="793.70" x2="280.70" y2="803.70" stroke="#000" stroke-width="0.9"/>
<line x1="279.50" y1="793.70" x2="281.90" y2="793.70" stroke="#000" stroke-width="0.9"/>
<line x1="279.50" y1="803.70" x2="281.90" y2="803.70" stroke="#000" stroke-width="0.9"/>
<polygon points="277.50,794.90 283.90,794.90 280.70,800.50" fill="#000" stroke="#000" stroke-width="0.2"/>
<line x1="287.40" y1="797.70" x2="287.40" y2="812.20" stroke="#000" stroke-width="0.9"/>
<line x1="286.20" y1="797.70" x2="288.60" y2="797.70" stroke="#000" stroke-width="0.9"/>
<line x1="286.20" y1="812.20" x2="288.60" y2="812.20" stroke="#000" stroke-width="0.9"/>
<polygon points="284.20,801.40 290.60,801.40 287.40,807.00" fill="#000" stroke="#000" stroke-width="0.2"/>
<line x1="301.10" y1="814.30" x2="301.10" y2="837.10" stroke="#33ee33" stroke-width="0.9"/>
<line x1="299.80" y1="814.30" x2="302.40" y2="814.30" stroke="#33ee33" stroke-width="0.9"/>
<line x1="299.80" y1="837.10" x2="302.40" y2="837.10" stroke="#33ee33" stroke-width="0.9"/>
<polygon points="298.00,828.40 304.20,828.40 301.10,822.80" fill="#33ee33" stroke="#33ee33" stroke-width="0.2"/>
<line x1="307.50" y1="845.10" x2="307.50" y2="861.50" stroke="#33ee33" stroke-width="0.9"/>
<line x1="306.20" y1="845.10" x2="308.80" y2="845.10" stroke="#33ee33" stroke-width="0.9"/>
<line x1="306.20" y1="861.50" x2="308.80" y2="861.50" stroke="#33ee33" stroke-width="0.9"/>
<polygon points="304.40,855.70 310.60,855.70 307.50,850.10" fill="#33ee33" stroke="#33ee33" stroke-width="0.2"/>
<line x1="65.70" y1="714.50" x2="65.70" y2="873.90" stroke="#222" stroke-width="0.9"/>
<line x1="65.70" y1="714.50" x2="68.90" y2="714.50" stroke="#000" stroke-width="0.7"/>
<line x1="65.70" y1="722.43" x2="67.70" y2="722.43" stroke="#000" stroke-width="0.7"/>
<line x1="65.70" y1="730.35" x2="67.70" y2="730.35" stroke="#000" stroke-width="0.7"/>
<line x1="65.70" y1="738.28" x2="67.70" y2="738.28" stroke="#000" stroke-width="0.7"/>
<line x1="65.70" y1="746.20" x2="68.90" y2="746.20" stroke="#000" stroke-width="0.7"/>
<line x1="65.70" y1="754.12" x2="67.70" y2="754.12" stroke="#000" stroke-width="0.7"/>
<line x1="65.70" y1="762.05" x2="67.70" y2="762.05" stroke="#000" stroke-width="0.7"/>
<line x1="65.70" y1="769.97" x2="67.70" y2="769.97" stroke="#000" stroke-width="0.7"/>
<line x1="65.70" y1="777.90" x2="68.90" y2="777.90" stroke="#000" stroke-width="0.7"/>
<line x1="65.70" y1="785.82" x2="67.70" y2="785.82" stroke="#000" stroke-width="0.7"/>
<line x1="65.70" y1="793.75" x2="67.70" y2="793.75" stroke="#000" stroke-width="0.7"/>
<line x1="65.70" y1="801.68" x2="67.70" y2="801.68" stroke="#000" stroke-width="0.7"/>
<line x1="65.70" y1="809.60" x2="68.90" y2="809.60" stroke="#000" stroke-width="0.7"/>
<line x1="65.70" y1="817.53" x2="67.70" y2="817.53" stroke="#000" stroke-width="0.7"/>
<line x1="65.70" y1="825.45" x2="67.70" y2="825.45" stroke="#000" stroke-width="0.7"/>
<line x1="65.70" y1="833.38" x2="67.70" y2="833.38" stroke="#000" stroke-width="0.7"/>
<line x1="65.70" y1="841.30" x2="68.90" y2="841.30" stroke="#000" stroke-width="0.7"/>
<line x1="65.70" y1="849.22" x2="67.70" y2="849.22" stroke="#000" stroke-width="0.7"/>
<line x1="65.70" y1="857.15" x2="67.70" y2="857.15" stroke="#000" stroke-width="0.7"/>
<line x1="65.70" y1="865.07" x2="67.70" y2="865.07" stroke="#000" stroke-width="0.7"/>
<line x1="65.70" y1="873.00" x2="68.90" y2="873.00" stroke="#000" stroke-width="0.7"/>
<text x="61.30" y="717.30" font-size="11.2" font-weight="bold" text-anchor="end" fill="#000" stroke="#000" stroke-width="0.280">201.8</text>
<text x="61.30" y="749.00" font-size="11.2" font-weight="bold" text-anchor="end" fill="#000" stroke="#000" stroke-width="0.280">201.6</text>
<text x="61.30" y="780.70" font-size="11.2" font-weight="bold" text-anchor="end" fill="#000" stroke="#000" stroke-width="0.280">201.4</text>
<text x="61.30" y="812.40" font-size="11.2" font-weight="bold" text-anchor="end" fill="#000" stroke="#000" stroke-width="0.280">201.2</text>
<text x="61.30" y="844.10" font-size="11.2" font-weight="bold" text-anchor="end" fill="#000" stroke="#000" stroke-width="0.280">201.0</text>
<text x="61.30" y="875.80" font-size="11.2" font-weight="bold" text-anchor="end" fill="#000" stroke="#000" stroke-width="0.280">200.8</text>
<text x="21.60" y="782.70" font-size="11" font-weight="bold" text-anchor="middle" fill="#000" textLength="51.4" lengthAdjust="spacingAndGlyphs" transform="rotate(-90 21.6 782.7)" stroke="#000" stroke-width="0.275">Date  (Ma)</text>
<text x="68.70" y="722.80" font-size="9.5" font-weight="bold" text-anchor="start" fill="#000" font-style="italic" stroke="#000" stroke-width="0.238">(g)</text>
<text x="77.10" y="735.90" font-size="8.0" font-weight="bold" text-anchor="start" fill="#9a1fd6" stroke="#9a1fd6" stroke-width="0.200">Early</text>
<text x="162.90" y="741.80" font-size="8.0" font-weight="bold" text-anchor="start" fill="#e00000" stroke="#e00000" stroke-width="0.200">Main</text>
<text x="252.90" y="774.10" font-size="8.0" font-weight="bold" text-anchor="start" fill="#000" stroke="#000" stroke-width="0.200">Late</text>
<text x="296.00" y="809.80" font-size="8.0" font-weight="bold" text-anchor="start" fill="#33ee33" stroke="#33ee33" stroke-width="0.200">Final</text>
</svg></div>
</body></html>
